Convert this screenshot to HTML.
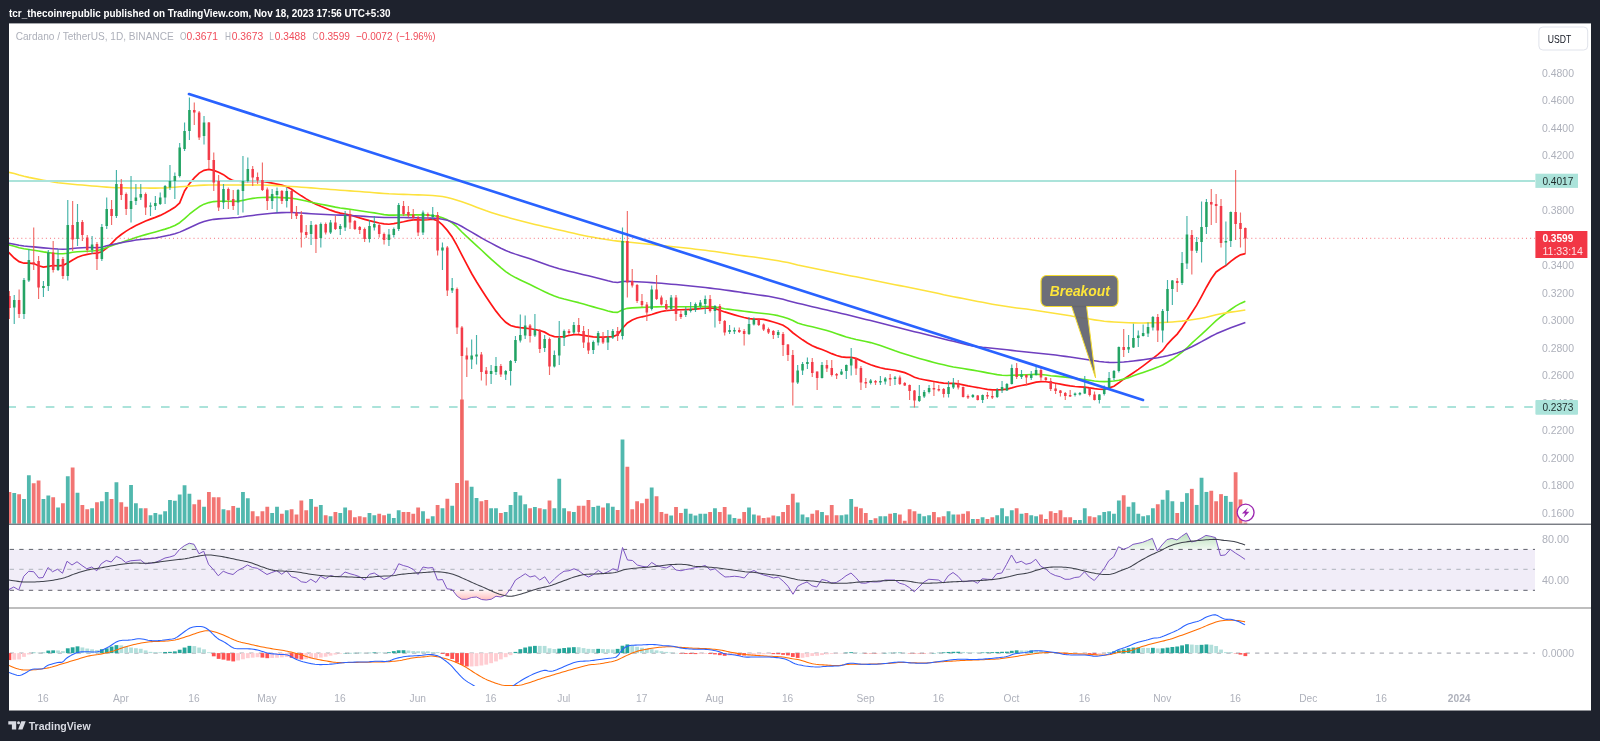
<!DOCTYPE html>
<html lang="en"><head><meta charset="utf-8"><title>ADAUSDT chart</title>
<style>
html,body{margin:0;padding:0;background:#1e222d;width:1600px;height:741px;overflow:hidden;font-family:"Liberation Sans",sans-serif;}
</style></head>
<body>
<svg width="1600" height="741" viewBox="0 0 1600 741" style="position:absolute;left:0;top:0;display:block;will-change:transform" font-family="Liberation Sans, sans-serif">
<defs>
<clipPath id="cm"><rect x="9" y="23.4" width="1526" height="500.35"/></clipPath>
<clipPath id="cmacd"><rect x="9" y="608.5" width="1526" height="77.6"/></clipPath>
<clipPath id="crsi"><rect x="9" y="525" width="1526" height="82.5"/></clipPath>
<clipPath id="cob"><rect x="0" y="0" width="1600" height="549.4"/></clipPath>
<clipPath id="cos"><rect x="0" y="590.3" width="1600" height="30"/></clipPath>
<linearGradient id="gob" x1="0" y1="530" x2="0" y2="549.4" gradientUnits="userSpaceOnUse"><stop offset="0" stop-color="#4caf50" stop-opacity="0.45"/><stop offset="1" stop-color="#4caf50" stop-opacity="0.08"/></linearGradient>
<linearGradient id="gos" x1="0" y1="590.3" x2="0" y2="601" gradientUnits="userSpaceOnUse"><stop offset="0" stop-color="#ff5252" stop-opacity="0.06"/><stop offset="1" stop-color="#ff5252" stop-opacity="0.4"/></linearGradient>
</defs>
<rect x="0" y="0" width="1600" height="741" fill="#1e222d"/>
<rect x="9" y="23.4" width="1582" height="687.1" fill="#ffffff"/>
<g clip-path="url(#cm)">
<path d="M8 251.76 L14.25 258 L19.11 261.66 L23.98 263.22 L28.85 263.07 L33.71 263.58 L38.58 265.74 L43.44 267.05 L48.31 266.29 L53.18 265.48 L58.04 265.79 L62.91 265.36 L67.77 262.91 L72.64 259.92 L77.51 257.3 L82.37 255.5 L87.24 254.3 L92.1 253.48 L96.97 253.13 L101.84 251.71 L106.7 248.18 L111.57 243.4 L116.43 238.43 L121.3 234.51 L126.17 231.13 L131.03 228.15 L135.9 225.54 L140.76 223.17 L145.63 220.98 L150.5 219.1 L155.36 217.36 L160.23 215.39 L165.09 213.02 L169.96 210.32 L174.83 207.27 L179.69 202.92 L184.56 190.96 L189.42 183.65 L194.29 177.94 L199.16 173.13 L204.02 170.36 L208.89 169.43 L213.75 170.34 L218.62 172.24 L223.49 174.67 L228.35 178.16 L233.22 180.67 L238.08 181.24 L242.95 181.4 L247.82 181.51 L252.68 181.49 L257.55 181.37 L262.41 181.49 L267.28 182.12 L272.15 183.11 L277.01 184.16 L281.88 185.16 L286.74 186.68 L291.61 189.3 L296.48 192.64 L301.34 195.84 L306.21 198.88 L311.07 201.73 L315.94 204.18 L320.81 206.3 L325.67 208.27 L330.54 210.17 L335.4 211.87 L340.27 213.16 L345.14 214.03 L350 215 L354.87 216.39 L359.73 217.93 L364.6 219.34 L369.47 220.66 L374.33 221.85 L379.2 222.98 L384.06 223.94 L388.93 224.23 L393.8 223.66 L398.66 222.74 L403.53 221.78 L408.39 220.66 L413.26 219.94 L418.13 219.86 L422.99 220 L427.86 219.75 L432.72 219.22 L437.59 220.64 L442.46 224.96 L447.32 230.4 L452.19 237.03 L457.05 245.62 L461.92 255.15 L466.79 264.42 L471.65 273.5 L476.52 281.77 L481.38 289.51 L486.25 297.02 L491.12 304.25 L495.98 311.14 L500.85 317.23 L505.71 322.33 L510.58 325.51 L515.45 326.84 L520.31 327.57 L525.18 328.11 L530.04 328.76 L534.91 329.53 L539.78 330.48 L544.64 332.15 L549.51 334.96 L554.37 336.67 L559.24 336.95 L564.11 336.55 L568.97 335.54 L573.84 334.61 L578.7 334.6 L583.57 335.3 L588.44 336.05 L593.3 336.84 L598.17 337.16 L603.03 337.21 L607.9 336.97 L612.77 336.63 L617.63 334.89 L622.5 328.22 L627.36 323 L632.23 319.99 L637.1 318.03 L641.96 316.8 L646.83 315.76 L651.69 314.51 L656.56 312.92 L661.43 311.49 L666.29 310.66 L671.16 310.25 L676.02 309.93 L680.89 309.73 L685.76 309.58 L690.62 309.33 L695.49 309.03 L700.35 308.72 L705.22 308.25 L710.09 307.9 L714.95 308.48 L719.82 310.28 L724.68 311.93 L729.55 313.43 L734.42 314.84 L739.28 316.2 L744.15 317.51 L749.01 318.58 L753.88 319.05 L758.75 319 L763.61 319.44 L768.48 320.56 L773.34 321.99 L778.21 323.49 L783.08 325.28 L787.94 328.4 L792.81 332.74 L797.67 336.35 L802.54 339.83 L807.41 343.07 L812.27 345.67 L817.14 347.86 L822 349.54 L826.87 351.42 L831.74 353.66 L836.6 355.54 L841.47 356.85 L846.33 357.43 L851.2 357.41 L856.07 358.42 L860.93 360.61 L865.8 362.83 L870.66 364.75 L875.53 366.41 L880.4 367.74 L885.26 368.8 L890.13 369.5 L894.99 370.25 L899.86 371.31 L904.73 372.61 L909.59 374.67 L914.46 377.27 L919.32 378.73 L924.19 379.72 L929.06 380.64 L933.92 381.51 L938.79 382.43 L943.65 383.11 L948.52 383.3 L953.39 383.32 L958.25 383.79 L963.12 384.92 L967.98 385.94 L972.85 386.74 L977.72 387.54 L982.58 388.49 L987.45 389.41 L992.31 389.91 L997.18 389.88 L1002.05 389.66 L1006.91 389.11 L1011.78 387.86 L1016.64 386.46 L1021.51 385.47 L1026.38 384.61 L1031.24 383.38 L1036.11 382.1 L1040.97 381.65 L1045.84 381.77 L1050.71 382.28 L1055.57 383.23 L1060.44 384.16 L1065.3 385.05 L1070.17 385.85 L1075.04 386.5 L1079.9 386.8 L1084.77 387.1 L1089.63 387.86 L1094.5 388.68 L1099.37 389.26 L1104.23 389.31 L1109.1 387.83 L1113.96 386.18 L1118.83 382.82 L1123.7 379.17 L1128.56 375.96 L1133.43 372.68 L1138.29 369.34 L1143.16 365.82 L1148.03 362.15 L1152.89 358.41 L1157.76 354.67 L1162.62 350.5 L1167.49 344.08 L1172.36 338.96 L1177.22 334.07 L1182.09 327.5 L1186.95 320.19 L1191.82 312.82 L1196.69 305.11 L1201.55 296.32 L1206.42 287.21 L1211.28 278.74 L1216.15 271.96 L1221.02 268.52 L1225.88 265.57 L1230.75 261.41 L1235.61 257.72 L1240.48 254.8 L1245.35 253.6" fill="none" stroke="#ff1616" stroke-width="1.7" stroke-linejoin="miter"/>
<path d="M8 244.63 L14.25 246.3 L19.11 247.78 L23.98 248.76 L28.85 249.46 L33.71 250.2 L38.58 251.07 L43.44 251.91 L48.31 252.6 L53.18 253.18 L58.04 253.62 L62.91 253.73 L67.77 253.2 L72.64 252.32 L77.51 251.79 L82.37 251.54 L87.24 251.27 L92.1 250.94 L96.97 250.51 L101.84 249.5 L106.7 247.55 L111.57 245.71 L116.43 244.08 L121.3 242.47 L126.17 240.86 L131.03 239.2 L135.9 237.56 L140.76 236.02 L145.63 234.61 L150.5 233.27 L155.36 231.9 L160.23 230.53 L165.09 229.13 L169.96 227.51 L174.83 225.5 L179.69 222.71 L184.56 218.69 L189.42 214.23 L194.29 210.32 L199.16 206.79 L204.02 204.16 L208.89 202.61 L213.75 201.59 L218.62 201.2 L223.49 201.21 L228.35 201.32 L233.22 201.38 L238.08 201.19 L242.95 200.39 L247.82 199.17 L252.68 198.36 L257.55 197.81 L262.41 197.5 L267.28 197.37 L272.15 197.35 L277.01 197.41 L281.88 197.58 L286.74 197.84 L291.61 198.29 L296.48 199 L301.34 199.97 L306.21 201.08 L311.07 202.19 L315.94 203.21 L320.81 204.17 L325.67 205.14 L330.54 206.15 L335.4 207.12 L340.27 207.93 L345.14 208.59 L350 209.25 L354.87 210.02 L359.73 210.82 L364.6 211.56 L369.47 212.22 L374.33 212.9 L379.2 213.73 L384.06 214.59 L388.93 215.09 L393.8 215.1 L398.66 215.01 L403.53 214.98 L408.39 214.92 L413.26 214.87 L418.13 214.85 L422.99 214.92 L427.86 215.16 L432.72 215.56 L437.59 216.37 L442.46 217.78 L447.32 219.83 L452.19 222.78 L457.05 226.96 L461.92 231.96 L466.79 236.66 L471.65 241.13 L476.52 245.57 L481.38 250.03 L486.25 254.57 L491.12 259.06 L495.98 263.35 L500.85 267.6 L505.71 271.54 L510.58 274.86 L515.45 277.58 L520.31 279.96 L525.18 282.22 L530.04 284.52 L534.91 286.93 L539.78 289.38 L544.64 291.77 L549.51 294.01 L554.37 296.01 L559.24 297.68 L564.11 299.06 L568.97 300.28 L573.84 301.44 L578.7 302.65 L583.57 304.01 L588.44 305.44 L593.3 306.87 L598.17 308.26 L603.03 309.58 L607.9 310.97 L612.77 312.13 L617.63 312.37 L622.5 309.73 L627.36 308.35 L632.23 307.9 L637.1 307.65 L641.96 307.4 L646.83 307.19 L651.69 307.01 L656.56 306.87 L661.43 306.77 L666.29 306.71 L671.16 306.69 L676.02 306.71 L680.89 306.73 L685.76 306.75 L690.62 306.74 L695.49 306.69 L700.35 306.63 L705.22 306.6 L710.09 306.66 L714.95 306.93 L719.82 307.79 L724.68 308.7 L729.55 309.37 L734.42 310.01 L739.28 310.64 L744.15 311.26 L749.01 311.88 L753.88 312.46 L758.75 312.98 L763.61 313.49 L768.48 314.05 L773.34 314.72 L778.21 315.65 L783.08 316.92 L787.94 318.53 L792.81 320.48 L797.67 322.95 L802.54 324.47 L807.41 325.68 L812.27 326.82 L817.14 327.97 L822 329.18 L826.87 330.55 L831.74 332.09 L836.6 333.73 L841.47 335.37 L846.33 336.93 L851.2 338.32 L856.07 339.48 L860.93 340.51 L865.8 341.51 L870.66 342.6 L875.53 343.91 L880.4 345.46 L885.26 347.19 L890.13 348.99 L894.99 350.78 L899.86 352.45 L904.73 354.01 L909.59 355.53 L914.46 356.99 L919.32 358.41 L924.19 359.78 L929.06 361.11 L933.92 362.4 L938.79 363.65 L943.65 364.83 L948.52 365.93 L953.39 366.92 L958.25 367.79 L963.12 368.58 L967.98 369.35 L972.85 370.13 L977.72 370.99 L982.58 371.91 L987.45 372.84 L992.31 373.75 L997.18 374.59 L1002.05 375.24 L1006.91 375.44 L1011.78 375.27 L1016.64 375.12 L1021.51 374.91 L1026.38 374.69 L1031.24 374.49 L1036.11 374.38 L1040.97 374.5 L1045.84 375.08 L1050.71 375.69 L1055.57 376.16 L1060.44 376.62 L1065.3 377.12 L1070.17 377.67 L1075.04 378.3 L1079.9 378.97 L1084.77 379.64 L1089.63 380.29 L1094.5 380.97 L1099.37 381.46 L1104.23 381.63 L1109.1 381.53 L1113.96 381.07 L1118.83 380.24 L1123.7 379.1 L1128.56 377.64 L1133.43 375.87 L1138.29 374.1 L1143.16 372.43 L1148.03 370.73 L1152.89 368.94 L1157.76 367.11 L1162.62 364.94 L1167.49 362.3 L1172.36 359.29 L1177.22 355.88 L1182.09 352.04 L1186.95 347.97 L1191.82 343.16 L1196.69 338.72 L1201.55 334.38 L1206.42 329.92 L1211.28 325.22 L1216.15 320.71 L1221.02 316.74 L1225.88 313.07 L1230.75 309.51 L1235.61 306.17 L1240.48 303.42 L1245.35 301.24" fill="none" stroke="#63ea1f" stroke-width="1.6" stroke-linejoin="round"/>
<path d="M8 243.09 L14.25 244.3 L19.11 245.35 L23.98 246 L28.85 246.42 L33.71 246.87 L38.58 247.38 L43.44 247.88 L48.31 248.32 L53.18 248.74 L58.04 249.1 L62.91 249.25 L67.77 248.97 L72.64 248.46 L77.51 248.07 L82.37 247.74 L87.24 247.51 L92.1 247.55 L96.97 247.66 L101.84 247.21 L106.7 245.87 L111.57 244.66 L116.43 243.65 L121.3 242.69 L126.17 241.79 L131.03 240.91 L135.9 240.1 L140.76 239.4 L145.63 238.93 L150.5 238.53 L155.36 237.94 L160.23 237.1 L165.09 236.11 L169.96 235.01 L174.83 233.74 L179.69 232.11 L184.56 230.05 L189.42 227.76 L194.29 225.49 L199.16 223.33 L204.02 221.6 L208.89 220.25 L213.75 219.36 L218.62 218.87 L223.49 218.48 L228.35 218.17 L233.22 217.85 L238.08 217.44 L242.95 216.81 L247.82 216.06 L252.68 215.41 L257.55 214.81 L262.41 214.26 L267.28 213.72 L272.15 213.23 L277.01 212.87 L281.88 212.62 L286.74 212.5 L291.61 212.58 L296.48 212.81 L301.34 213.07 L306.21 213.36 L311.07 213.66 L315.94 213.96 L320.81 214.27 L325.67 214.53 L330.54 214.74 L335.4 214.92 L340.27 215.11 L345.14 215.29 L350 215.5 L354.87 215.77 L359.73 216.08 L364.6 216.38 L369.47 216.69 L374.33 216.97 L379.2 217.2 L384.06 217.41 L388.93 217.52 L393.8 217.49 L398.66 217.49 L403.53 217.55 L408.39 217.63 L413.26 217.72 L418.13 217.82 L422.99 217.94 L427.86 218.07 L432.72 218.13 L437.59 218.42 L442.46 219.2 L447.32 220.36 L452.19 221.91 L457.05 223.92 L461.92 226.52 L466.79 229.39 L471.65 232.19 L476.52 235.02 L481.38 237.85 L486.25 240.58 L491.12 243.19 L495.98 245.78 L500.85 248.24 L505.71 250.49 L510.58 252.45 L515.45 254.13 L520.31 255.66 L525.18 257.17 L530.04 258.77 L534.91 260.49 L539.78 262.26 L544.64 264.03 L549.51 265.74 L554.37 267.31 L559.24 268.7 L564.11 269.96 L568.97 271.13 L573.84 272.27 L578.7 273.43 L583.57 274.65 L588.44 275.87 L593.3 277.1 L598.17 278.3 L603.03 279.51 L607.9 280.78 L612.77 281.93 L617.63 282.56 L622.5 281.41 L627.36 281.28 L632.23 281.46 L637.1 281.71 L641.96 281.99 L646.83 282.29 L651.69 282.61 L656.56 282.96 L661.43 283.34 L666.29 283.74 L671.16 284.16 L676.02 284.59 L680.89 285.04 L685.76 285.51 L690.62 286 L695.49 286.51 L700.35 287.04 L705.22 287.58 L710.09 288.14 L714.95 288.72 L719.82 289.32 L724.68 289.96 L729.55 290.64 L734.42 291.36 L739.28 292.1 L744.15 292.86 L749.01 293.6 L753.88 294.31 L758.75 294.96 L763.61 295.62 L768.48 296.34 L773.34 297.18 L778.21 298.18 L783.08 299.37 L787.94 300.66 L792.81 301.95 L797.67 303.18 L802.54 304.36 L807.41 305.5 L812.27 306.64 L817.14 307.77 L822 308.9 L826.87 310.03 L831.74 311.17 L836.6 312.31 L841.47 313.46 L846.33 314.62 L851.2 315.79 L856.07 316.98 L860.93 318.18 L865.8 319.39 L870.66 320.61 L875.53 321.84 L880.4 323.06 L885.26 324.29 L890.13 325.52 L894.99 326.75 L899.86 327.96 L904.73 329.18 L909.59 330.4 L914.46 331.63 L919.32 332.85 L924.19 334.08 L929.06 335.3 L933.92 336.52 L938.79 337.73 L943.65 338.94 L948.52 340.14 L953.39 341.33 L958.25 342.54 L963.12 343.75 L967.98 344.89 L972.85 345.87 L977.72 346.68 L982.58 347.3 L987.45 347.8 L992.31 348.24 L997.18 348.7 L1002.05 349.23 L1006.91 349.8 L1011.78 350.37 L1016.64 350.94 L1021.51 351.49 L1026.38 352.02 L1031.24 352.5 L1036.11 352.96 L1040.97 353.42 L1045.84 353.91 L1050.71 354.46 L1055.57 355.06 L1060.44 355.7 L1065.3 356.37 L1070.17 357.06 L1075.04 357.76 L1079.9 358.48 L1084.77 359.24 L1089.63 360 L1094.5 360.73 L1099.37 361.47 L1104.23 362.09 L1109.1 362.38 L1113.96 362.4 L1118.83 362.25 L1123.7 361.98 L1128.56 361.54 L1133.43 360.99 L1138.29 360.37 L1143.16 359.71 L1148.03 359.03 L1152.89 358.36 L1157.76 357.69 L1162.62 356.85 L1167.49 355.81 L1172.36 354.56 L1177.22 352.99 L1182.09 351.1 L1186.95 348.99 L1191.82 346.71 L1196.69 344.23 L1201.55 341.67 L1206.42 338.96 L1211.28 336.27 L1216.15 333.83 L1221.02 331.7 L1225.88 329.74 L1230.75 327.83 L1235.61 326 L1240.48 324.21 L1245.35 322.44" fill="none" stroke="#6f3fbf" stroke-width="1.55" stroke-linejoin="round"/>
<path d="M8 172.11 L14.25 173.55 L19.11 174.96 L23.98 176.25 L28.85 177.37 L33.71 178.37 L38.58 179.3 L43.44 180.19 L48.31 181.07 L53.18 181.92 L58.04 182.67 L62.91 183.3 L67.77 183.82 L72.64 184.27 L77.51 184.68 L82.37 185.08 L87.24 185.48 L92.1 185.9 L96.97 186.34 L101.84 186.76 L106.7 187.14 L111.57 187.45 L116.43 187.67 L121.3 187.81 L126.17 187.89 L131.03 187.94 L135.9 187.98 L140.76 188.04 L145.63 188.1 L150.5 188.14 L155.36 188.14 L160.23 188.07 L165.09 187.89 L169.96 187.6 L174.83 187.24 L179.69 186.85 L184.56 186.46 L189.42 186.12 L194.29 185.74 L199.16 185.38 L204.02 185.11 L208.89 184.97 L213.75 184.92 L218.62 184.91 L223.49 184.93 L228.35 184.96 L233.22 184.99 L238.08 185 L242.95 184.98 L247.82 184.94 L252.68 184.91 L257.55 184.92 L262.41 185 L267.28 185.15 L272.15 185.37 L277.01 185.63 L281.88 185.91 L286.74 186.2 L291.61 186.51 L296.48 186.83 L301.34 187.17 L306.21 187.53 L311.07 187.89 L315.94 188.26 L320.81 188.66 L325.67 189.06 L330.54 189.45 L335.4 189.84 L340.27 190.2 L345.14 190.54 L350 190.88 L354.87 191.21 L359.73 191.55 L364.6 191.91 L369.47 192.3 L374.33 192.71 L379.2 193.11 L384.06 193.5 L388.93 193.84 L393.8 194.02 L398.66 194.19 L403.53 194.39 L408.39 194.55 L413.26 194.71 L418.13 194.88 L422.99 195.07 L427.86 195.3 L432.72 195.59 L437.59 195.99 L442.46 196.58 L447.32 197.45 L452.19 198.67 L457.05 200.21 L461.92 201.81 L466.79 203.45 L471.65 205.27 L476.52 207.17 L481.38 209.05 L486.25 210.82 L491.12 212.44 L495.98 213.97 L500.85 215.44 L505.71 216.85 L510.58 218.22 L515.45 219.55 L520.31 220.81 L525.18 222.03 L530.04 223.21 L534.91 224.38 L539.78 225.54 L544.64 226.69 L549.51 227.81 L554.37 228.92 L559.24 230.02 L564.11 231.11 L568.97 232.22 L573.84 233.33 L578.7 234.42 L583.57 235.46 L588.44 236.43 L593.3 237.36 L598.17 238.24 L603.03 239.07 L607.9 239.84 L612.77 240.54 L617.63 241.12 L622.5 241.61 L627.36 242.05 L632.23 242.49 L637.1 242.96 L641.96 243.48 L646.83 244.02 L651.69 244.57 L656.56 245.11 L661.43 245.64 L666.29 246.14 L671.16 246.61 L676.02 247.08 L680.89 247.56 L685.76 248.06 L690.62 248.6 L695.49 249.15 L700.35 249.71 L705.22 250.31 L710.09 250.93 L714.95 251.59 L719.82 252.31 L724.68 253.06 L729.55 253.82 L734.42 254.56 L739.28 255.24 L744.15 255.87 L749.01 256.47 L753.88 257.08 L758.75 257.71 L763.61 258.42 L768.48 259.18 L773.34 259.98 L778.21 260.81 L783.08 261.67 L787.94 262.59 L792.81 263.67 L797.67 264.96 L802.54 266.05 L807.41 267.08 L812.27 268.08 L817.14 269.07 L822 270.06 L826.87 271.03 L831.74 272.01 L836.6 272.98 L841.47 273.95 L846.33 274.92 L851.2 275.89 L856.07 276.86 L860.93 277.84 L865.8 278.81 L870.66 279.78 L875.53 280.76 L880.4 281.73 L885.26 282.7 L890.13 283.68 L894.99 284.65 L899.86 285.62 L904.73 286.59 L909.59 287.55 L914.46 288.52 L919.32 289.49 L924.19 290.46 L929.06 291.45 L933.92 292.46 L938.79 293.57 L943.65 294.7 L948.52 295.71 L953.39 296.67 L958.25 297.63 L963.12 298.58 L967.98 299.53 L972.85 300.47 L977.72 301.41 L982.58 302.33 L987.45 303.24 L992.31 304.14 L997.18 305.01 L1002.05 305.84 L1006.91 306.6 L1011.78 307.29 L1016.64 307.91 L1021.51 308.5 L1026.38 309.1 L1031.24 309.78 L1036.11 310.48 L1040.97 311.2 L1045.84 311.93 L1050.71 312.66 L1055.57 313.41 L1060.44 314.17 L1065.3 314.97 L1070.17 315.82 L1075.04 316.68 L1079.9 317.48 L1084.77 318.28 L1089.63 319.08 L1094.5 319.86 L1099.37 320.56 L1104.23 321.17 L1109.1 321.63 L1113.96 321.99 L1118.83 322.28 L1123.7 322.5 L1128.56 322.7 L1133.43 322.86 L1138.29 322.94 L1143.16 322.94 L1148.03 322.88 L1152.89 322.81 L1157.76 322.68 L1162.62 322.5 L1167.49 322.25 L1172.36 321.94 L1177.22 321.56 L1182.09 321.11 L1186.95 320.53 L1191.82 319.84 L1196.69 319.04 L1201.55 318.17 L1206.42 317.2 L1211.28 315.97 L1216.15 314.68 L1221.02 313.69 L1225.88 312.88 L1230.75 312.14 L1235.61 311.43 L1240.48 310.75 L1245.35 310.07" fill="none" stroke="#fde23e" stroke-width="1.55" stroke-linejoin="round"/>
<line x1="9" y1="181" x2="1535" y2="181" stroke="#abe3da" stroke-width="2.2"/>
<line x1="9" y1="407" x2="1535" y2="407" stroke="#abe3da" stroke-width="2.1" stroke-dasharray="8.6 10.6" stroke-dashoffset="1.6"/>
<rect x="7.48" y="492" width="3.8" height="31.75" fill="#ef5350" fill-opacity="0.8"/>
<rect x="12.35" y="493" width="3.8" height="30.75" fill="#26a69a" fill-opacity="0.8"/>
<rect x="17.21" y="494.25" width="3.8" height="29.5" fill="#ef5350" fill-opacity="0.8"/>
<rect x="22.08" y="499" width="3.8" height="24.75" fill="#26a69a" fill-opacity="0.8"/>
<rect x="26.95" y="475.25" width="3.8" height="48.5" fill="#26a69a" fill-opacity="0.8"/>
<rect x="31.81" y="483.25" width="3.8" height="40.5" fill="#ef5350" fill-opacity="0.8"/>
<rect x="36.68" y="480.5" width="3.8" height="43.25" fill="#ef5350" fill-opacity="0.8"/>
<rect x="41.54" y="499" width="3.8" height="24.75" fill="#26a69a" fill-opacity="0.8"/>
<rect x="46.41" y="495.5" width="3.8" height="28.25" fill="#26a69a" fill-opacity="0.8"/>
<rect x="51.28" y="497.25" width="3.8" height="26.5" fill="#ef5350" fill-opacity="0.8"/>
<rect x="56.14" y="507.5" width="3.8" height="16.25" fill="#26a69a" fill-opacity="0.8"/>
<rect x="61.01" y="503.25" width="3.8" height="20.5" fill="#ef5350" fill-opacity="0.8"/>
<rect x="65.87" y="476.25" width="3.8" height="47.5" fill="#26a69a" fill-opacity="0.8"/>
<rect x="70.74" y="467.5" width="3.8" height="56.25" fill="#ef5350" fill-opacity="0.8"/>
<rect x="75.61" y="492.75" width="3.8" height="31" fill="#26a69a" fill-opacity="0.8"/>
<rect x="80.47" y="505" width="3.8" height="18.75" fill="#ef5350" fill-opacity="0.8"/>
<rect x="85.34" y="509.25" width="3.8" height="14.5" fill="#ef5350" fill-opacity="0.8"/>
<rect x="90.2" y="508.25" width="3.8" height="15.5" fill="#26a69a" fill-opacity="0.8"/>
<rect x="95.07" y="502.25" width="3.8" height="21.5" fill="#ef5350" fill-opacity="0.8"/>
<rect x="99.94" y="501.25" width="3.8" height="22.5" fill="#26a69a" fill-opacity="0.8"/>
<rect x="104.8" y="492" width="3.8" height="31.75" fill="#26a69a" fill-opacity="0.8"/>
<rect x="109.67" y="499" width="3.8" height="24.75" fill="#ef5350" fill-opacity="0.8"/>
<rect x="114.53" y="482.25" width="3.8" height="41.5" fill="#26a69a" fill-opacity="0.8"/>
<rect x="119.4" y="502.25" width="3.8" height="21.5" fill="#ef5350" fill-opacity="0.8"/>
<rect x="124.27" y="506.75" width="3.8" height="17" fill="#ef5350" fill-opacity="0.8"/>
<rect x="129.13" y="485" width="3.8" height="38.75" fill="#26a69a" fill-opacity="0.8"/>
<rect x="134" y="503.25" width="3.8" height="20.5" fill="#26a69a" fill-opacity="0.8"/>
<rect x="138.86" y="508.25" width="3.8" height="15.5" fill="#26a69a" fill-opacity="0.8"/>
<rect x="143.73" y="508.25" width="3.8" height="15.5" fill="#ef5350" fill-opacity="0.8"/>
<rect x="148.6" y="515.25" width="3.8" height="8.5" fill="#26a69a" fill-opacity="0.8"/>
<rect x="153.46" y="513" width="3.8" height="10.75" fill="#26a69a" fill-opacity="0.8"/>
<rect x="158.33" y="514.5" width="3.8" height="9.25" fill="#26a69a" fill-opacity="0.8"/>
<rect x="163.19" y="511.25" width="3.8" height="12.5" fill="#26a69a" fill-opacity="0.8"/>
<rect x="168.06" y="500" width="3.8" height="23.75" fill="#26a69a" fill-opacity="0.8"/>
<rect x="172.93" y="500.75" width="3.8" height="23" fill="#26a69a" fill-opacity="0.8"/>
<rect x="177.79" y="494.5" width="3.8" height="29.25" fill="#26a69a" fill-opacity="0.8"/>
<rect x="182.66" y="485.25" width="3.8" height="38.5" fill="#26a69a" fill-opacity="0.8"/>
<rect x="187.52" y="493.75" width="3.8" height="30" fill="#26a69a" fill-opacity="0.8"/>
<rect x="192.39" y="504.25" width="3.8" height="19.5" fill="#ef5350" fill-opacity="0.8"/>
<rect x="197.26" y="499.75" width="3.8" height="24" fill="#ef5350" fill-opacity="0.8"/>
<rect x="202.12" y="506.75" width="3.8" height="17" fill="#26a69a" fill-opacity="0.8"/>
<rect x="206.99" y="492" width="3.8" height="31.75" fill="#ef5350" fill-opacity="0.8"/>
<rect x="211.85" y="497.25" width="3.8" height="26.5" fill="#ef5350" fill-opacity="0.8"/>
<rect x="216.72" y="497.25" width="3.8" height="26.5" fill="#ef5350" fill-opacity="0.8"/>
<rect x="221.59" y="509.25" width="3.8" height="14.5" fill="#26a69a" fill-opacity="0.8"/>
<rect x="226.45" y="510.25" width="3.8" height="13.5" fill="#ef5350" fill-opacity="0.8"/>
<rect x="231.32" y="506" width="3.8" height="17.75" fill="#ef5350" fill-opacity="0.8"/>
<rect x="236.18" y="507.75" width="3.8" height="16" fill="#26a69a" fill-opacity="0.8"/>
<rect x="241.05" y="492" width="3.8" height="31.75" fill="#26a69a" fill-opacity="0.8"/>
<rect x="245.92" y="498.25" width="3.8" height="25.5" fill="#26a69a" fill-opacity="0.8"/>
<rect x="250.78" y="511.25" width="3.8" height="12.5" fill="#ef5350" fill-opacity="0.8"/>
<rect x="255.65" y="516.25" width="3.8" height="7.5" fill="#ef5350" fill-opacity="0.8"/>
<rect x="260.51" y="511.25" width="3.8" height="12.5" fill="#ef5350" fill-opacity="0.8"/>
<rect x="265.38" y="506.75" width="3.8" height="17" fill="#ef5350" fill-opacity="0.8"/>
<rect x="270.25" y="513" width="3.8" height="10.75" fill="#26a69a" fill-opacity="0.8"/>
<rect x="275.11" y="506.75" width="3.8" height="17" fill="#26a69a" fill-opacity="0.8"/>
<rect x="279.98" y="513.75" width="3.8" height="10" fill="#ef5350" fill-opacity="0.8"/>
<rect x="284.84" y="510.25" width="3.8" height="13.5" fill="#26a69a" fill-opacity="0.8"/>
<rect x="289.71" y="509.25" width="3.8" height="14.5" fill="#ef5350" fill-opacity="0.8"/>
<rect x="294.58" y="514.5" width="3.8" height="9.25" fill="#ef5350" fill-opacity="0.8"/>
<rect x="299.44" y="500.5" width="3.8" height="23.25" fill="#ef5350" fill-opacity="0.8"/>
<rect x="304.31" y="510.25" width="3.8" height="13.5" fill="#ef5350" fill-opacity="0.8"/>
<rect x="309.17" y="499" width="3.8" height="24.75" fill="#26a69a" fill-opacity="0.8"/>
<rect x="314.04" y="506.75" width="3.8" height="17" fill="#ef5350" fill-opacity="0.8"/>
<rect x="318.91" y="505" width="3.8" height="18.75" fill="#26a69a" fill-opacity="0.8"/>
<rect x="323.77" y="515.25" width="3.8" height="8.5" fill="#ef5350" fill-opacity="0.8"/>
<rect x="328.64" y="516.25" width="3.8" height="7.5" fill="#26a69a" fill-opacity="0.8"/>
<rect x="333.5" y="512" width="3.8" height="11.75" fill="#ef5350" fill-opacity="0.8"/>
<rect x="338.37" y="513" width="3.8" height="10.75" fill="#26a69a" fill-opacity="0.8"/>
<rect x="343.24" y="507.5" width="3.8" height="16.25" fill="#26a69a" fill-opacity="0.8"/>
<rect x="348.1" y="510.25" width="3.8" height="13.5" fill="#ef5350" fill-opacity="0.8"/>
<rect x="352.97" y="517.25" width="3.8" height="6.5" fill="#ef5350" fill-opacity="0.8"/>
<rect x="357.83" y="516.25" width="3.8" height="7.5" fill="#ef5350" fill-opacity="0.8"/>
<rect x="362.7" y="517.25" width="3.8" height="6.5" fill="#ef5350" fill-opacity="0.8"/>
<rect x="367.57" y="513" width="3.8" height="10.75" fill="#26a69a" fill-opacity="0.8"/>
<rect x="372.43" y="515.25" width="3.8" height="8.5" fill="#26a69a" fill-opacity="0.8"/>
<rect x="377.3" y="513.75" width="3.8" height="10" fill="#ef5350" fill-opacity="0.8"/>
<rect x="382.16" y="515.25" width="3.8" height="8.5" fill="#ef5350" fill-opacity="0.8"/>
<rect x="387.03" y="513.75" width="3.8" height="10" fill="#26a69a" fill-opacity="0.8"/>
<rect x="391.9" y="518" width="3.8" height="5.75" fill="#26a69a" fill-opacity="0.8"/>
<rect x="396.76" y="510.25" width="3.8" height="13.5" fill="#26a69a" fill-opacity="0.8"/>
<rect x="401.63" y="512" width="3.8" height="11.75" fill="#ef5350" fill-opacity="0.8"/>
<rect x="406.49" y="512" width="3.8" height="11.75" fill="#ef5350" fill-opacity="0.8"/>
<rect x="411.36" y="513.75" width="3.8" height="10" fill="#ef5350" fill-opacity="0.8"/>
<rect x="416.23" y="507.5" width="3.8" height="16.25" fill="#ef5350" fill-opacity="0.8"/>
<rect x="421.09" y="511.25" width="3.8" height="12.5" fill="#26a69a" fill-opacity="0.8"/>
<rect x="425.96" y="518.75" width="3.8" height="5" fill="#ef5350" fill-opacity="0.8"/>
<rect x="430.82" y="516.25" width="3.8" height="7.5" fill="#26a69a" fill-opacity="0.8"/>
<rect x="435.69" y="505" width="3.8" height="18.75" fill="#ef5350" fill-opacity="0.8"/>
<rect x="440.56" y="508.25" width="3.8" height="15.5" fill="#26a69a" fill-opacity="0.8"/>
<rect x="445.42" y="498.75" width="3.8" height="25" fill="#ef5350" fill-opacity="0.8"/>
<rect x="450.29" y="505.75" width="3.8" height="18" fill="#26a69a" fill-opacity="0.8"/>
<rect x="455.15" y="483" width="3.8" height="40.75" fill="#ef5350" fill-opacity="0.8"/>
<rect x="460.02" y="399.5" width="3.8" height="124.25" fill="#ef5350" fill-opacity="0.8"/>
<rect x="464.89" y="480.5" width="3.8" height="43.25" fill="#ef5350" fill-opacity="0.8"/>
<rect x="469.75" y="486.75" width="3.8" height="37" fill="#26a69a" fill-opacity="0.8"/>
<rect x="474.62" y="498" width="3.8" height="25.75" fill="#26a69a" fill-opacity="0.8"/>
<rect x="479.48" y="501.25" width="3.8" height="22.5" fill="#ef5350" fill-opacity="0.8"/>
<rect x="484.35" y="500" width="3.8" height="23.75" fill="#ef5350" fill-opacity="0.8"/>
<rect x="489.22" y="508.25" width="3.8" height="15.5" fill="#26a69a" fill-opacity="0.8"/>
<rect x="494.08" y="508.25" width="3.8" height="15.5" fill="#26a69a" fill-opacity="0.8"/>
<rect x="498.95" y="513" width="3.8" height="10.75" fill="#ef5350" fill-opacity="0.8"/>
<rect x="503.81" y="512" width="3.8" height="11.75" fill="#26a69a" fill-opacity="0.8"/>
<rect x="508.68" y="505" width="3.8" height="18.75" fill="#26a69a" fill-opacity="0.8"/>
<rect x="513.55" y="492" width="3.8" height="31.75" fill="#26a69a" fill-opacity="0.8"/>
<rect x="518.41" y="495.5" width="3.8" height="28.25" fill="#26a69a" fill-opacity="0.8"/>
<rect x="523.28" y="504.25" width="3.8" height="19.5" fill="#26a69a" fill-opacity="0.8"/>
<rect x="528.14" y="508.25" width="3.8" height="15.5" fill="#ef5350" fill-opacity="0.8"/>
<rect x="533.01" y="507" width="3.8" height="16.75" fill="#26a69a" fill-opacity="0.8"/>
<rect x="537.88" y="508.25" width="3.8" height="15.5" fill="#ef5350" fill-opacity="0.8"/>
<rect x="542.74" y="509.25" width="3.8" height="14.5" fill="#26a69a" fill-opacity="0.8"/>
<rect x="547.61" y="500.5" width="3.8" height="23.25" fill="#ef5350" fill-opacity="0.8"/>
<rect x="552.47" y="508.25" width="3.8" height="15.5" fill="#26a69a" fill-opacity="0.8"/>
<rect x="557.34" y="478.75" width="3.8" height="45" fill="#26a69a" fill-opacity="0.8"/>
<rect x="562.21" y="508.25" width="3.8" height="15.5" fill="#26a69a" fill-opacity="0.8"/>
<rect x="567.07" y="511.25" width="3.8" height="12.5" fill="#ef5350" fill-opacity="0.8"/>
<rect x="571.94" y="512" width="3.8" height="11.75" fill="#26a69a" fill-opacity="0.8"/>
<rect x="576.8" y="505.75" width="3.8" height="18" fill="#ef5350" fill-opacity="0.8"/>
<rect x="581.67" y="505.75" width="3.8" height="18" fill="#ef5350" fill-opacity="0.8"/>
<rect x="586.54" y="500" width="3.8" height="23.75" fill="#ef5350" fill-opacity="0.8"/>
<rect x="591.4" y="507" width="3.8" height="16.75" fill="#26a69a" fill-opacity="0.8"/>
<rect x="596.27" y="505.75" width="3.8" height="18" fill="#26a69a" fill-opacity="0.8"/>
<rect x="601.13" y="507.5" width="3.8" height="16.25" fill="#ef5350" fill-opacity="0.8"/>
<rect x="606" y="503.25" width="3.8" height="20.5" fill="#26a69a" fill-opacity="0.8"/>
<rect x="610.87" y="506.75" width="3.8" height="17" fill="#26a69a" fill-opacity="0.8"/>
<rect x="615.73" y="510" width="3.8" height="13.75" fill="#ef5350" fill-opacity="0.8"/>
<rect x="620.6" y="439.5" width="3.8" height="84.25" fill="#26a69a" fill-opacity="0.8"/>
<rect x="625.46" y="466.75" width="3.8" height="57" fill="#ef5350" fill-opacity="0.8"/>
<rect x="630.33" y="509.25" width="3.8" height="14.5" fill="#ef5350" fill-opacity="0.8"/>
<rect x="635.2" y="501.25" width="3.8" height="22.5" fill="#ef5350" fill-opacity="0.8"/>
<rect x="640.06" y="503.25" width="3.8" height="20.5" fill="#ef5350" fill-opacity="0.8"/>
<rect x="644.93" y="498.75" width="3.8" height="25" fill="#ef5350" fill-opacity="0.8"/>
<rect x="649.79" y="487.5" width="3.8" height="36.25" fill="#26a69a" fill-opacity="0.8"/>
<rect x="654.66" y="496.25" width="3.8" height="27.5" fill="#ef5350" fill-opacity="0.8"/>
<rect x="659.53" y="512" width="3.8" height="11.75" fill="#ef5350" fill-opacity="0.8"/>
<rect x="664.39" y="513.75" width="3.8" height="10" fill="#ef5350" fill-opacity="0.8"/>
<rect x="669.26" y="515.5" width="3.8" height="8.25" fill="#26a69a" fill-opacity="0.8"/>
<rect x="674.12" y="507" width="3.8" height="16.75" fill="#ef5350" fill-opacity="0.8"/>
<rect x="678.99" y="513" width="3.8" height="10.75" fill="#ef5350" fill-opacity="0.8"/>
<rect x="683.86" y="508.75" width="3.8" height="15" fill="#26a69a" fill-opacity="0.8"/>
<rect x="688.72" y="513.75" width="3.8" height="10" fill="#26a69a" fill-opacity="0.8"/>
<rect x="693.59" y="515.5" width="3.8" height="8.25" fill="#26a69a" fill-opacity="0.8"/>
<rect x="698.45" y="513.75" width="3.8" height="10" fill="#26a69a" fill-opacity="0.8"/>
<rect x="703.32" y="513.75" width="3.8" height="10" fill="#26a69a" fill-opacity="0.8"/>
<rect x="708.19" y="512" width="3.8" height="11.75" fill="#ef5350" fill-opacity="0.8"/>
<rect x="713.05" y="508.25" width="3.8" height="15.5" fill="#26a69a" fill-opacity="0.8"/>
<rect x="717.92" y="512" width="3.8" height="11.75" fill="#ef5350" fill-opacity="0.8"/>
<rect x="722.78" y="507" width="3.8" height="16.75" fill="#ef5350" fill-opacity="0.8"/>
<rect x="727.65" y="514.5" width="3.8" height="9.25" fill="#26a69a" fill-opacity="0.8"/>
<rect x="732.52" y="518" width="3.8" height="5.75" fill="#26a69a" fill-opacity="0.8"/>
<rect x="737.38" y="518.75" width="3.8" height="5" fill="#ef5350" fill-opacity="0.8"/>
<rect x="742.25" y="512" width="3.8" height="11.75" fill="#ef5350" fill-opacity="0.8"/>
<rect x="747.11" y="507.5" width="3.8" height="16.25" fill="#26a69a" fill-opacity="0.8"/>
<rect x="751.98" y="514.5" width="3.8" height="9.25" fill="#26a69a" fill-opacity="0.8"/>
<rect x="756.85" y="515.5" width="3.8" height="8.25" fill="#ef5350" fill-opacity="0.8"/>
<rect x="761.71" y="518" width="3.8" height="5.75" fill="#ef5350" fill-opacity="0.8"/>
<rect x="766.58" y="517.5" width="3.8" height="6.25" fill="#ef5350" fill-opacity="0.8"/>
<rect x="771.44" y="515.5" width="3.8" height="8.25" fill="#ef5350" fill-opacity="0.8"/>
<rect x="776.31" y="516.25" width="3.8" height="7.5" fill="#26a69a" fill-opacity="0.8"/>
<rect x="781.18" y="512" width="3.8" height="11.75" fill="#ef5350" fill-opacity="0.8"/>
<rect x="786.04" y="505" width="3.8" height="18.75" fill="#ef5350" fill-opacity="0.8"/>
<rect x="790.91" y="493.75" width="3.8" height="30" fill="#ef5350" fill-opacity="0.8"/>
<rect x="795.77" y="502.5" width="3.8" height="21.25" fill="#26a69a" fill-opacity="0.8"/>
<rect x="800.64" y="514.5" width="3.8" height="9.25" fill="#26a69a" fill-opacity="0.8"/>
<rect x="805.51" y="517.25" width="3.8" height="6.5" fill="#26a69a" fill-opacity="0.8"/>
<rect x="810.37" y="513.75" width="3.8" height="10" fill="#ef5350" fill-opacity="0.8"/>
<rect x="815.24" y="510.25" width="3.8" height="13.5" fill="#ef5350" fill-opacity="0.8"/>
<rect x="820.1" y="512" width="3.8" height="11.75" fill="#26a69a" fill-opacity="0.8"/>
<rect x="824.97" y="515.25" width="3.8" height="8.5" fill="#ef5350" fill-opacity="0.8"/>
<rect x="829.84" y="505" width="3.8" height="18.75" fill="#ef5350" fill-opacity="0.8"/>
<rect x="834.7" y="515.25" width="3.8" height="8.5" fill="#ef5350" fill-opacity="0.8"/>
<rect x="839.57" y="515.25" width="3.8" height="8.5" fill="#26a69a" fill-opacity="0.8"/>
<rect x="844.43" y="514.5" width="3.8" height="9.25" fill="#26a69a" fill-opacity="0.8"/>
<rect x="849.3" y="499" width="3.8" height="24.75" fill="#26a69a" fill-opacity="0.8"/>
<rect x="854.17" y="506.75" width="3.8" height="17" fill="#ef5350" fill-opacity="0.8"/>
<rect x="859.03" y="508.25" width="3.8" height="15.5" fill="#ef5350" fill-opacity="0.8"/>
<rect x="863.9" y="513" width="3.8" height="10.75" fill="#ef5350" fill-opacity="0.8"/>
<rect x="868.76" y="520" width="3.8" height="3.75" fill="#26a69a" fill-opacity="0.8"/>
<rect x="873.63" y="518.25" width="3.8" height="5.5" fill="#ef5350" fill-opacity="0.8"/>
<rect x="878.5" y="516.25" width="3.8" height="7.5" fill="#26a69a" fill-opacity="0.8"/>
<rect x="883.36" y="516.25" width="3.8" height="7.5" fill="#26a69a" fill-opacity="0.8"/>
<rect x="888.23" y="513.75" width="3.8" height="10" fill="#ef5350" fill-opacity="0.8"/>
<rect x="893.09" y="513" width="3.8" height="10.75" fill="#26a69a" fill-opacity="0.8"/>
<rect x="897.96" y="514.5" width="3.8" height="9.25" fill="#ef5350" fill-opacity="0.8"/>
<rect x="902.83" y="520.75" width="3.8" height="3" fill="#ef5350" fill-opacity="0.8"/>
<rect x="907.69" y="509.25" width="3.8" height="14.5" fill="#ef5350" fill-opacity="0.8"/>
<rect x="912.56" y="511.25" width="3.8" height="12.5" fill="#ef5350" fill-opacity="0.8"/>
<rect x="917.42" y="513.75" width="3.8" height="10" fill="#26a69a" fill-opacity="0.8"/>
<rect x="922.29" y="516.25" width="3.8" height="7.5" fill="#26a69a" fill-opacity="0.8"/>
<rect x="927.16" y="515.25" width="3.8" height="8.5" fill="#26a69a" fill-opacity="0.8"/>
<rect x="932.02" y="512" width="3.8" height="11.75" fill="#ef5350" fill-opacity="0.8"/>
<rect x="936.89" y="517.25" width="3.8" height="6.5" fill="#ef5350" fill-opacity="0.8"/>
<rect x="941.75" y="516.25" width="3.8" height="7.5" fill="#ef5350" fill-opacity="0.8"/>
<rect x="946.62" y="511.25" width="3.8" height="12.5" fill="#26a69a" fill-opacity="0.8"/>
<rect x="951.49" y="514.5" width="3.8" height="9.25" fill="#26a69a" fill-opacity="0.8"/>
<rect x="956.35" y="514.5" width="3.8" height="9.25" fill="#ef5350" fill-opacity="0.8"/>
<rect x="961.22" y="513.75" width="3.8" height="10" fill="#ef5350" fill-opacity="0.8"/>
<rect x="966.08" y="511.25" width="3.8" height="12.5" fill="#ef5350" fill-opacity="0.8"/>
<rect x="970.95" y="519" width="3.8" height="4.75" fill="#26a69a" fill-opacity="0.8"/>
<rect x="975.82" y="519" width="3.8" height="4.75" fill="#ef5350" fill-opacity="0.8"/>
<rect x="980.68" y="517.25" width="3.8" height="6.5" fill="#26a69a" fill-opacity="0.8"/>
<rect x="985.55" y="519" width="3.8" height="4.75" fill="#ef5350" fill-opacity="0.8"/>
<rect x="990.41" y="517.25" width="3.8" height="6.5" fill="#ef5350" fill-opacity="0.8"/>
<rect x="995.28" y="515.25" width="3.8" height="8.5" fill="#26a69a" fill-opacity="0.8"/>
<rect x="1000.15" y="508.25" width="3.8" height="15.5" fill="#26a69a" fill-opacity="0.8"/>
<rect x="1005.01" y="516.25" width="3.8" height="7.5" fill="#26a69a" fill-opacity="0.8"/>
<rect x="1009.88" y="510.25" width="3.8" height="13.5" fill="#26a69a" fill-opacity="0.8"/>
<rect x="1014.74" y="508.25" width="3.8" height="15.5" fill="#ef5350" fill-opacity="0.8"/>
<rect x="1019.61" y="513.75" width="3.8" height="10" fill="#26a69a" fill-opacity="0.8"/>
<rect x="1024.48" y="513" width="3.8" height="10.75" fill="#ef5350" fill-opacity="0.8"/>
<rect x="1029.34" y="515.25" width="3.8" height="8.5" fill="#26a69a" fill-opacity="0.8"/>
<rect x="1034.21" y="516.25" width="3.8" height="7.5" fill="#26a69a" fill-opacity="0.8"/>
<rect x="1039.07" y="514.5" width="3.8" height="9.25" fill="#ef5350" fill-opacity="0.8"/>
<rect x="1043.94" y="519" width="3.8" height="4.75" fill="#ef5350" fill-opacity="0.8"/>
<rect x="1048.81" y="511.25" width="3.8" height="12.5" fill="#ef5350" fill-opacity="0.8"/>
<rect x="1053.67" y="513" width="3.8" height="10.75" fill="#ef5350" fill-opacity="0.8"/>
<rect x="1058.54" y="510.25" width="3.8" height="13.5" fill="#ef5350" fill-opacity="0.8"/>
<rect x="1063.4" y="517.25" width="3.8" height="6.5" fill="#ef5350" fill-opacity="0.8"/>
<rect x="1068.27" y="517.25" width="3.8" height="6.5" fill="#ef5350" fill-opacity="0.8"/>
<rect x="1073.14" y="520" width="3.8" height="3.75" fill="#26a69a" fill-opacity="0.8"/>
<rect x="1078" y="520" width="3.8" height="3.75" fill="#26a69a" fill-opacity="0.8"/>
<rect x="1082.87" y="508.25" width="3.8" height="15.5" fill="#26a69a" fill-opacity="0.8"/>
<rect x="1087.73" y="516.25" width="3.8" height="7.5" fill="#ef5350" fill-opacity="0.8"/>
<rect x="1092.6" y="517.25" width="3.8" height="6.5" fill="#ef5350" fill-opacity="0.8"/>
<rect x="1097.47" y="515.25" width="3.8" height="8.5" fill="#26a69a" fill-opacity="0.8"/>
<rect x="1102.33" y="512" width="3.8" height="11.75" fill="#26a69a" fill-opacity="0.8"/>
<rect x="1107.2" y="511.25" width="3.8" height="12.5" fill="#26a69a" fill-opacity="0.8"/>
<rect x="1112.06" y="513.75" width="3.8" height="10" fill="#26a69a" fill-opacity="0.8"/>
<rect x="1116.93" y="500.5" width="3.8" height="23.25" fill="#26a69a" fill-opacity="0.8"/>
<rect x="1121.8" y="495.25" width="3.8" height="28.5" fill="#ef5350" fill-opacity="0.8"/>
<rect x="1126.66" y="506.75" width="3.8" height="17" fill="#26a69a" fill-opacity="0.8"/>
<rect x="1131.53" y="502.25" width="3.8" height="21.5" fill="#26a69a" fill-opacity="0.8"/>
<rect x="1136.39" y="513.75" width="3.8" height="10" fill="#26a69a" fill-opacity="0.8"/>
<rect x="1141.26" y="516.25" width="3.8" height="7.5" fill="#26a69a" fill-opacity="0.8"/>
<rect x="1146.13" y="515.25" width="3.8" height="8.5" fill="#26a69a" fill-opacity="0.8"/>
<rect x="1150.99" y="508.25" width="3.8" height="15.5" fill="#26a69a" fill-opacity="0.8"/>
<rect x="1155.86" y="504.25" width="3.8" height="19.5" fill="#ef5350" fill-opacity="0.8"/>
<rect x="1160.72" y="499.75" width="3.8" height="24" fill="#26a69a" fill-opacity="0.8"/>
<rect x="1165.59" y="490.25" width="3.8" height="33.5" fill="#26a69a" fill-opacity="0.8"/>
<rect x="1170.46" y="501.25" width="3.8" height="22.5" fill="#26a69a" fill-opacity="0.8"/>
<rect x="1175.32" y="513" width="3.8" height="10.75" fill="#ef5350" fill-opacity="0.8"/>
<rect x="1180.19" y="501.85" width="3.8" height="21.9" fill="#26a69a" fill-opacity="0.8"/>
<rect x="1185.05" y="493.15" width="3.8" height="30.6" fill="#26a69a" fill-opacity="0.8"/>
<rect x="1189.92" y="488.85" width="3.8" height="34.9" fill="#ef5350" fill-opacity="0.8"/>
<rect x="1194.79" y="504.95" width="3.8" height="18.8" fill="#26a69a" fill-opacity="0.8"/>
<rect x="1199.65" y="477.75" width="3.8" height="46" fill="#26a69a" fill-opacity="0.8"/>
<rect x="1204.52" y="491.95" width="3.8" height="31.8" fill="#26a69a" fill-opacity="0.8"/>
<rect x="1209.38" y="490.75" width="3.8" height="33" fill="#ef5350" fill-opacity="0.8"/>
<rect x="1214.25" y="501.25" width="3.8" height="22.5" fill="#ef5350" fill-opacity="0.8"/>
<rect x="1219.12" y="494.15" width="3.8" height="29.6" fill="#ef5350" fill-opacity="0.8"/>
<rect x="1223.98" y="495.95" width="3.8" height="27.8" fill="#26a69a" fill-opacity="0.8"/>
<rect x="1228.85" y="501.85" width="3.8" height="21.9" fill="#26a69a" fill-opacity="0.8"/>
<rect x="1233.71" y="472.25" width="3.8" height="51.5" fill="#ef5350" fill-opacity="0.8"/>
<rect x="1238.58" y="499.45" width="3.8" height="24.3" fill="#ef5350" fill-opacity="0.8"/>
<rect x="1243.45" y="522.55" width="3.8" height="1.2" fill="#ef5350" fill-opacity="0.8"/>
<line x1="9" y1="238.3" x2="1535" y2="238.3" stroke="#f23645" stroke-width="1" stroke-dasharray="1 3.1" stroke-opacity="0.7"/>
<line x1="9.38" y1="291" x2="9.38" y2="319" stroke="#ef5350" stroke-width="1.15" stroke-opacity="0.85"/>
<rect x="8.1" y="296" width="2.56" height="12" fill="#f23645" fill-opacity="0.95"/>
<line x1="14.25" y1="295" x2="14.25" y2="324" stroke="#26a69a" stroke-width="1.15" stroke-opacity="0.85"/>
<rect x="12.97" y="300" width="2.56" height="7.5" fill="#1fa15f" fill-opacity="0.95"/>
<line x1="19.11" y1="289.5" x2="19.11" y2="318" stroke="#ef5350" stroke-width="1.15" stroke-opacity="0.85"/>
<rect x="17.83" y="300" width="2.56" height="14" fill="#f23645" fill-opacity="0.95"/>
<line x1="23.98" y1="278" x2="23.98" y2="319" stroke="#26a69a" stroke-width="1.15" stroke-opacity="0.85"/>
<rect x="22.7" y="280" width="2.56" height="34" fill="#1fa15f" fill-opacity="0.95"/>
<line x1="28.85" y1="249" x2="28.85" y2="282" stroke="#26a69a" stroke-width="1.15" stroke-opacity="0.85"/>
<rect x="27.57" y="260" width="2.56" height="20.5" fill="#1fa15f" fill-opacity="0.95"/>
<line x1="33.71" y1="227.5" x2="33.71" y2="270" stroke="#ef5350" stroke-width="1.15" stroke-opacity="0.85"/>
<rect x="32.43" y="262.3" width="2.56" height="2" fill="#f23645" fill-opacity="0.95"/>
<line x1="38.58" y1="256" x2="38.58" y2="299" stroke="#ef5350" stroke-width="1.15" stroke-opacity="0.85"/>
<rect x="37.3" y="261" width="2.56" height="26.5" fill="#f23645" fill-opacity="0.95"/>
<line x1="43.44" y1="281" x2="43.44" y2="297" stroke="#26a69a" stroke-width="1.15" stroke-opacity="0.85"/>
<rect x="42.16" y="286" width="2.56" height="2" fill="#1fa15f" fill-opacity="0.95"/>
<line x1="48.31" y1="250" x2="48.31" y2="291" stroke="#26a69a" stroke-width="1.15" stroke-opacity="0.85"/>
<rect x="47.03" y="252.5" width="2.56" height="33.5" fill="#1fa15f" fill-opacity="0.95"/>
<line x1="53.18" y1="241" x2="53.18" y2="272.5" stroke="#ef5350" stroke-width="1.15" stroke-opacity="0.85"/>
<rect x="51.9" y="252.5" width="2.56" height="17.5" fill="#f23645" fill-opacity="0.95"/>
<line x1="58.04" y1="249" x2="58.04" y2="271" stroke="#26a69a" stroke-width="1.15" stroke-opacity="0.85"/>
<rect x="56.76" y="259" width="2.56" height="11" fill="#1fa15f" fill-opacity="0.95"/>
<line x1="62.91" y1="257" x2="62.91" y2="279" stroke="#ef5350" stroke-width="1.15" stroke-opacity="0.85"/>
<rect x="61.63" y="259" width="2.56" height="17" fill="#f23645" fill-opacity="0.95"/>
<line x1="67.77" y1="200" x2="67.77" y2="280.5" stroke="#26a69a" stroke-width="1.15" stroke-opacity="0.85"/>
<rect x="66.49" y="225" width="2.56" height="51" fill="#1fa15f" fill-opacity="0.95"/>
<line x1="72.64" y1="201" x2="72.64" y2="251" stroke="#ef5350" stroke-width="1.15" stroke-opacity="0.85"/>
<rect x="71.36" y="225" width="2.56" height="14.5" fill="#f23645" fill-opacity="0.95"/>
<line x1="77.51" y1="204" x2="77.51" y2="246" stroke="#26a69a" stroke-width="1.15" stroke-opacity="0.85"/>
<rect x="76.23" y="222" width="2.56" height="17" fill="#1fa15f" fill-opacity="0.95"/>
<line x1="82.37" y1="220" x2="82.37" y2="241" stroke="#ef5350" stroke-width="1.15" stroke-opacity="0.85"/>
<rect x="81.09" y="222" width="2.56" height="13" fill="#f23645" fill-opacity="0.95"/>
<line x1="87.24" y1="235" x2="87.24" y2="252.5" stroke="#ef5350" stroke-width="1.15" stroke-opacity="0.85"/>
<rect x="85.96" y="237.5" width="2.56" height="12.5" fill="#f23645" fill-opacity="0.95"/>
<line x1="92.1" y1="236" x2="92.1" y2="254" stroke="#26a69a" stroke-width="1.15" stroke-opacity="0.85"/>
<rect x="90.82" y="244.5" width="2.56" height="5.5" fill="#1fa15f" fill-opacity="0.95"/>
<line x1="96.97" y1="242" x2="96.97" y2="270" stroke="#ef5350" stroke-width="1.15" stroke-opacity="0.85"/>
<rect x="95.69" y="244" width="2.56" height="15" fill="#f23645" fill-opacity="0.95"/>
<line x1="101.84" y1="224" x2="101.84" y2="261" stroke="#26a69a" stroke-width="1.15" stroke-opacity="0.85"/>
<rect x="100.56" y="227" width="2.56" height="32" fill="#1fa15f" fill-opacity="0.95"/>
<line x1="106.7" y1="197.5" x2="106.7" y2="229" stroke="#26a69a" stroke-width="1.15" stroke-opacity="0.85"/>
<rect x="105.42" y="209" width="2.56" height="17" fill="#1fa15f" fill-opacity="0.95"/>
<line x1="111.57" y1="200" x2="111.57" y2="225" stroke="#ef5350" stroke-width="1.15" stroke-opacity="0.85"/>
<rect x="110.29" y="209" width="2.56" height="7" fill="#f23645" fill-opacity="0.95"/>
<line x1="116.43" y1="170" x2="116.43" y2="218" stroke="#26a69a" stroke-width="1.15" stroke-opacity="0.85"/>
<rect x="115.15" y="184" width="2.56" height="32" fill="#1fa15f" fill-opacity="0.95"/>
<line x1="121.3" y1="179" x2="121.3" y2="200" stroke="#ef5350" stroke-width="1.15" stroke-opacity="0.85"/>
<rect x="120.02" y="184" width="2.56" height="11" fill="#f23645" fill-opacity="0.95"/>
<line x1="126.17" y1="192.5" x2="126.17" y2="215" stroke="#ef5350" stroke-width="1.15" stroke-opacity="0.85"/>
<rect x="124.89" y="194" width="2.56" height="15" fill="#f23645" fill-opacity="0.95"/>
<line x1="131.03" y1="176" x2="131.03" y2="222.5" stroke="#26a69a" stroke-width="1.15" stroke-opacity="0.85"/>
<rect x="129.75" y="201" width="2.56" height="8" fill="#1fa15f" fill-opacity="0.95"/>
<line x1="135.9" y1="184" x2="135.9" y2="205" stroke="#26a69a" stroke-width="1.15" stroke-opacity="0.85"/>
<rect x="134.62" y="197.5" width="2.56" height="3.5" fill="#1fa15f" fill-opacity="0.95"/>
<line x1="140.76" y1="184" x2="140.76" y2="200" stroke="#26a69a" stroke-width="1.15" stroke-opacity="0.85"/>
<rect x="139.48" y="194" width="2.56" height="3.5" fill="#1fa15f" fill-opacity="0.95"/>
<line x1="145.63" y1="192.5" x2="145.63" y2="215" stroke="#ef5350" stroke-width="1.15" stroke-opacity="0.85"/>
<rect x="144.35" y="194" width="2.56" height="13.5" fill="#f23645" fill-opacity="0.95"/>
<line x1="150.5" y1="202.5" x2="150.5" y2="216" stroke="#26a69a" stroke-width="1.15" stroke-opacity="0.85"/>
<rect x="149.22" y="205.5" width="2.56" height="1.2" fill="#1fa15f" fill-opacity="0.95"/>
<line x1="155.36" y1="196" x2="155.36" y2="210" stroke="#26a69a" stroke-width="1.15" stroke-opacity="0.85"/>
<rect x="154.08" y="203" width="2.56" height="3" fill="#1fa15f" fill-opacity="0.95"/>
<line x1="160.23" y1="192.5" x2="160.23" y2="205" stroke="#26a69a" stroke-width="1.15" stroke-opacity="0.85"/>
<rect x="158.95" y="197.5" width="2.56" height="6.5" fill="#1fa15f" fill-opacity="0.95"/>
<line x1="165.09" y1="185" x2="165.09" y2="204" stroke="#26a69a" stroke-width="1.15" stroke-opacity="0.85"/>
<rect x="163.81" y="186" width="2.56" height="11.5" fill="#1fa15f" fill-opacity="0.95"/>
<line x1="169.96" y1="165" x2="169.96" y2="190" stroke="#26a69a" stroke-width="1.15" stroke-opacity="0.85"/>
<rect x="168.68" y="181" width="2.56" height="6.5" fill="#1fa15f" fill-opacity="0.95"/>
<line x1="174.83" y1="172.5" x2="174.83" y2="199" stroke="#26a69a" stroke-width="1.15" stroke-opacity="0.85"/>
<rect x="173.55" y="176" width="2.56" height="5" fill="#1fa15f" fill-opacity="0.95"/>
<line x1="179.69" y1="143" x2="179.69" y2="177.5" stroke="#26a69a" stroke-width="1.15" stroke-opacity="0.85"/>
<rect x="178.41" y="147.5" width="2.56" height="28.5" fill="#1fa15f" fill-opacity="0.95"/>
<line x1="184.56" y1="122.5" x2="184.56" y2="151" stroke="#26a69a" stroke-width="1.15" stroke-opacity="0.85"/>
<rect x="183.28" y="131" width="2.56" height="18" fill="#1fa15f" fill-opacity="0.95"/>
<line x1="189.42" y1="97.5" x2="189.42" y2="140" stroke="#26a69a" stroke-width="1.15" stroke-opacity="0.85"/>
<rect x="188.14" y="110" width="2.56" height="21" fill="#1fa15f" fill-opacity="0.95"/>
<line x1="194.29" y1="102.5" x2="194.29" y2="125" stroke="#ef5350" stroke-width="1.15" stroke-opacity="0.85"/>
<rect x="193.01" y="110" width="2.56" height="2.5" fill="#f23645" fill-opacity="0.95"/>
<line x1="199.16" y1="111" x2="199.16" y2="140" stroke="#ef5350" stroke-width="1.15" stroke-opacity="0.85"/>
<rect x="197.88" y="112.5" width="2.56" height="25" fill="#f23645" fill-opacity="0.95"/>
<line x1="204.02" y1="116" x2="204.02" y2="144.5" stroke="#26a69a" stroke-width="1.15" stroke-opacity="0.85"/>
<rect x="202.74" y="122.5" width="2.56" height="13.5" fill="#1fa15f" fill-opacity="0.95"/>
<line x1="208.89" y1="122" x2="208.89" y2="169" stroke="#ef5350" stroke-width="1.15" stroke-opacity="0.85"/>
<rect x="207.61" y="122.5" width="2.56" height="37.5" fill="#f23645" fill-opacity="0.95"/>
<line x1="213.75" y1="152.5" x2="213.75" y2="191" stroke="#ef5350" stroke-width="1.15" stroke-opacity="0.85"/>
<rect x="212.47" y="160" width="2.56" height="22.5" fill="#f23645" fill-opacity="0.95"/>
<line x1="218.62" y1="175" x2="218.62" y2="211" stroke="#ef5350" stroke-width="1.15" stroke-opacity="0.85"/>
<rect x="217.34" y="181" width="2.56" height="26.5" fill="#f23645" fill-opacity="0.95"/>
<line x1="223.49" y1="184" x2="223.49" y2="209" stroke="#26a69a" stroke-width="1.15" stroke-opacity="0.85"/>
<rect x="222.21" y="189" width="2.56" height="13.5" fill="#1fa15f" fill-opacity="0.95"/>
<line x1="228.35" y1="187.5" x2="228.35" y2="209" stroke="#ef5350" stroke-width="1.15" stroke-opacity="0.85"/>
<rect x="227.07" y="189" width="2.56" height="11" fill="#f23645" fill-opacity="0.95"/>
<line x1="233.22" y1="190" x2="233.22" y2="210" stroke="#ef5350" stroke-width="1.15" stroke-opacity="0.85"/>
<rect x="231.94" y="199" width="2.56" height="7" fill="#f23645" fill-opacity="0.95"/>
<line x1="238.08" y1="189" x2="238.08" y2="215" stroke="#26a69a" stroke-width="1.15" stroke-opacity="0.85"/>
<rect x="236.8" y="190" width="2.56" height="12.5" fill="#1fa15f" fill-opacity="0.95"/>
<line x1="242.95" y1="156" x2="242.95" y2="212.5" stroke="#26a69a" stroke-width="1.15" stroke-opacity="0.85"/>
<rect x="241.67" y="181" width="2.56" height="10" fill="#1fa15f" fill-opacity="0.95"/>
<line x1="247.82" y1="157.5" x2="247.82" y2="182.5" stroke="#26a69a" stroke-width="1.15" stroke-opacity="0.85"/>
<rect x="246.54" y="169" width="2.56" height="12" fill="#1fa15f" fill-opacity="0.95"/>
<line x1="252.68" y1="166" x2="252.68" y2="186" stroke="#ef5350" stroke-width="1.15" stroke-opacity="0.85"/>
<rect x="251.4" y="169" width="2.56" height="8.5" fill="#f23645" fill-opacity="0.95"/>
<line x1="257.55" y1="172.5" x2="257.55" y2="184" stroke="#ef5350" stroke-width="1.15" stroke-opacity="0.85"/>
<rect x="256.27" y="177" width="2.56" height="3.5" fill="#f23645" fill-opacity="0.95"/>
<line x1="262.41" y1="162.5" x2="262.41" y2="191" stroke="#ef5350" stroke-width="1.15" stroke-opacity="0.85"/>
<rect x="261.13" y="180" width="2.56" height="10" fill="#f23645" fill-opacity="0.95"/>
<line x1="267.28" y1="187.5" x2="267.28" y2="210" stroke="#ef5350" stroke-width="1.15" stroke-opacity="0.85"/>
<rect x="266" y="189.5" width="2.56" height="11.5" fill="#f23645" fill-opacity="0.95"/>
<line x1="272.15" y1="189" x2="272.15" y2="209" stroke="#26a69a" stroke-width="1.15" stroke-opacity="0.85"/>
<rect x="270.87" y="194" width="2.56" height="7" fill="#1fa15f" fill-opacity="0.95"/>
<line x1="277.01" y1="187.5" x2="277.01" y2="212.5" stroke="#26a69a" stroke-width="1.15" stroke-opacity="0.85"/>
<rect x="275.73" y="191" width="2.56" height="4" fill="#1fa15f" fill-opacity="0.95"/>
<line x1="281.88" y1="190" x2="281.88" y2="204" stroke="#ef5350" stroke-width="1.15" stroke-opacity="0.85"/>
<rect x="280.6" y="191" width="2.56" height="10" fill="#f23645" fill-opacity="0.95"/>
<line x1="286.74" y1="187.5" x2="286.74" y2="207.5" stroke="#26a69a" stroke-width="1.15" stroke-opacity="0.85"/>
<rect x="285.46" y="191" width="2.56" height="10" fill="#1fa15f" fill-opacity="0.95"/>
<line x1="291.61" y1="190" x2="291.61" y2="219" stroke="#ef5350" stroke-width="1.15" stroke-opacity="0.85"/>
<rect x="290.33" y="191" width="2.56" height="21.5" fill="#f23645" fill-opacity="0.95"/>
<line x1="296.48" y1="206" x2="296.48" y2="219" stroke="#ef5350" stroke-width="1.15" stroke-opacity="0.85"/>
<rect x="295.2" y="212.5" width="2.56" height="3.5" fill="#f23645" fill-opacity="0.95"/>
<line x1="301.34" y1="211" x2="301.34" y2="247.5" stroke="#ef5350" stroke-width="1.15" stroke-opacity="0.85"/>
<rect x="300.06" y="215" width="2.56" height="17.5" fill="#f23645" fill-opacity="0.95"/>
<line x1="306.21" y1="225" x2="306.21" y2="238" stroke="#ef5350" stroke-width="1.15" stroke-opacity="0.85"/>
<rect x="304.93" y="232" width="2.56" height="3" fill="#f23645" fill-opacity="0.95"/>
<line x1="311.07" y1="221" x2="311.07" y2="245" stroke="#26a69a" stroke-width="1.15" stroke-opacity="0.85"/>
<rect x="309.79" y="225" width="2.56" height="9" fill="#1fa15f" fill-opacity="0.95"/>
<line x1="315.94" y1="224" x2="315.94" y2="253" stroke="#ef5350" stroke-width="1.15" stroke-opacity="0.85"/>
<rect x="314.66" y="225" width="2.56" height="14" fill="#f23645" fill-opacity="0.95"/>
<line x1="320.81" y1="222.5" x2="320.81" y2="247.5" stroke="#26a69a" stroke-width="1.15" stroke-opacity="0.85"/>
<rect x="319.53" y="224" width="2.56" height="14" fill="#1fa15f" fill-opacity="0.95"/>
<line x1="325.67" y1="222.5" x2="325.67" y2="234.5" stroke="#ef5350" stroke-width="1.15" stroke-opacity="0.85"/>
<rect x="324.39" y="224" width="2.56" height="8.5" fill="#f23645" fill-opacity="0.95"/>
<line x1="330.54" y1="220" x2="330.54" y2="234" stroke="#26a69a" stroke-width="1.15" stroke-opacity="0.85"/>
<rect x="329.26" y="222.5" width="2.56" height="10" fill="#1fa15f" fill-opacity="0.95"/>
<line x1="335.4" y1="216" x2="335.4" y2="230" stroke="#ef5350" stroke-width="1.15" stroke-opacity="0.85"/>
<rect x="334.12" y="222.5" width="2.56" height="6.5" fill="#f23645" fill-opacity="0.95"/>
<line x1="340.27" y1="224" x2="340.27" y2="235" stroke="#26a69a" stroke-width="1.15" stroke-opacity="0.85"/>
<rect x="338.99" y="226" width="2.56" height="3" fill="#1fa15f" fill-opacity="0.95"/>
<line x1="345.14" y1="211" x2="345.14" y2="231" stroke="#26a69a" stroke-width="1.15" stroke-opacity="0.85"/>
<rect x="343.86" y="215" width="2.56" height="12.5" fill="#1fa15f" fill-opacity="0.95"/>
<line x1="350" y1="210" x2="350" y2="229" stroke="#ef5350" stroke-width="1.15" stroke-opacity="0.85"/>
<rect x="348.72" y="214" width="2.56" height="8.5" fill="#f23645" fill-opacity="0.95"/>
<line x1="354.87" y1="220" x2="354.87" y2="230" stroke="#ef5350" stroke-width="1.15" stroke-opacity="0.85"/>
<rect x="353.59" y="221" width="2.56" height="8" fill="#f23645" fill-opacity="0.95"/>
<line x1="359.73" y1="226" x2="359.73" y2="234" stroke="#ef5350" stroke-width="1.15" stroke-opacity="0.85"/>
<rect x="358.45" y="227" width="2.56" height="3" fill="#f23645" fill-opacity="0.95"/>
<line x1="364.6" y1="227.5" x2="364.6" y2="242" stroke="#ef5350" stroke-width="1.15" stroke-opacity="0.85"/>
<rect x="363.32" y="229" width="2.56" height="10" fill="#f23645" fill-opacity="0.95"/>
<line x1="369.47" y1="220" x2="369.47" y2="242.5" stroke="#26a69a" stroke-width="1.15" stroke-opacity="0.85"/>
<rect x="368.19" y="226" width="2.56" height="13" fill="#1fa15f" fill-opacity="0.95"/>
<line x1="374.33" y1="216" x2="374.33" y2="230.5" stroke="#26a69a" stroke-width="1.15" stroke-opacity="0.85"/>
<rect x="373.05" y="224" width="2.56" height="3.5" fill="#1fa15f" fill-opacity="0.95"/>
<line x1="379.2" y1="224" x2="379.2" y2="237.5" stroke="#ef5350" stroke-width="1.15" stroke-opacity="0.85"/>
<rect x="377.92" y="225" width="2.56" height="9" fill="#f23645" fill-opacity="0.95"/>
<line x1="384.06" y1="232.5" x2="384.06" y2="244.5" stroke="#ef5350" stroke-width="1.15" stroke-opacity="0.85"/>
<rect x="382.78" y="234" width="2.56" height="6" fill="#f23645" fill-opacity="0.95"/>
<line x1="388.93" y1="229" x2="388.93" y2="246" stroke="#26a69a" stroke-width="1.15" stroke-opacity="0.85"/>
<rect x="387.65" y="234.5" width="2.56" height="5.5" fill="#1fa15f" fill-opacity="0.95"/>
<line x1="393.8" y1="227.5" x2="393.8" y2="237.5" stroke="#26a69a" stroke-width="1.15" stroke-opacity="0.85"/>
<rect x="392.52" y="229" width="2.56" height="6" fill="#1fa15f" fill-opacity="0.95"/>
<line x1="398.66" y1="203" x2="398.66" y2="231" stroke="#26a69a" stroke-width="1.15" stroke-opacity="0.85"/>
<rect x="397.38" y="205" width="2.56" height="24" fill="#1fa15f" fill-opacity="0.95"/>
<line x1="403.53" y1="201" x2="403.53" y2="216" stroke="#ef5350" stroke-width="1.15" stroke-opacity="0.85"/>
<rect x="402.25" y="206" width="2.56" height="8" fill="#f23645" fill-opacity="0.95"/>
<line x1="408.39" y1="206" x2="408.39" y2="217.5" stroke="#ef5350" stroke-width="1.15" stroke-opacity="0.85"/>
<rect x="407.11" y="212" width="2.56" height="3.5" fill="#f23645" fill-opacity="0.95"/>
<line x1="413.26" y1="209" x2="413.26" y2="220" stroke="#ef5350" stroke-width="1.15" stroke-opacity="0.85"/>
<rect x="411.98" y="214.5" width="2.56" height="3.5" fill="#f23645" fill-opacity="0.95"/>
<line x1="418.13" y1="216" x2="418.13" y2="236" stroke="#ef5350" stroke-width="1.15" stroke-opacity="0.85"/>
<rect x="416.85" y="217.5" width="2.56" height="15" fill="#f23645" fill-opacity="0.95"/>
<line x1="422.99" y1="210.5" x2="422.99" y2="235" stroke="#26a69a" stroke-width="1.15" stroke-opacity="0.85"/>
<rect x="421.71" y="212.5" width="2.56" height="20" fill="#1fa15f" fill-opacity="0.95"/>
<line x1="427.86" y1="212.5" x2="427.86" y2="220" stroke="#ef5350" stroke-width="1.15" stroke-opacity="0.85"/>
<rect x="426.58" y="214" width="2.56" height="2" fill="#f23645" fill-opacity="0.95"/>
<line x1="432.72" y1="207" x2="432.72" y2="220" stroke="#26a69a" stroke-width="1.15" stroke-opacity="0.85"/>
<rect x="431.44" y="214.5" width="2.56" height="2.5" fill="#1fa15f" fill-opacity="0.95"/>
<line x1="437.59" y1="212" x2="437.59" y2="255.5" stroke="#ef5350" stroke-width="1.15" stroke-opacity="0.85"/>
<rect x="436.31" y="215" width="2.56" height="35.5" fill="#f23645" fill-opacity="0.95"/>
<line x1="442.46" y1="242.5" x2="442.46" y2="270" stroke="#26a69a" stroke-width="1.15" stroke-opacity="0.85"/>
<rect x="441.18" y="247.5" width="2.56" height="3" fill="#1fa15f" fill-opacity="0.95"/>
<line x1="447.32" y1="246" x2="447.32" y2="296" stroke="#ef5350" stroke-width="1.15" stroke-opacity="0.85"/>
<rect x="446.04" y="247.5" width="2.56" height="43" fill="#f23645" fill-opacity="0.95"/>
<line x1="452.19" y1="278" x2="452.19" y2="293" stroke="#26a69a" stroke-width="1.15" stroke-opacity="0.85"/>
<rect x="450.91" y="288" width="2.56" height="2.5" fill="#1fa15f" fill-opacity="0.95"/>
<line x1="457.05" y1="287.5" x2="457.05" y2="334" stroke="#ef5350" stroke-width="1.15" stroke-opacity="0.85"/>
<rect x="455.77" y="289" width="2.56" height="38.5" fill="#f23645" fill-opacity="0.95"/>
<line x1="461.92" y1="326" x2="461.92" y2="430" stroke="#ef5350" stroke-width="1.15" stroke-opacity="0.85"/>
<rect x="460.64" y="327.5" width="2.56" height="28.5" fill="#f23645" fill-opacity="0.95"/>
<line x1="466.79" y1="347.5" x2="466.79" y2="377" stroke="#ef5350" stroke-width="1.15" stroke-opacity="0.85"/>
<rect x="465.51" y="355.5" width="2.56" height="4" fill="#f23645" fill-opacity="0.95"/>
<line x1="471.65" y1="339.5" x2="471.65" y2="369" stroke="#26a69a" stroke-width="1.15" stroke-opacity="0.85"/>
<rect x="470.37" y="355.5" width="2.56" height="4" fill="#1fa15f" fill-opacity="0.95"/>
<line x1="476.52" y1="335" x2="476.52" y2="364.5" stroke="#26a69a" stroke-width="1.15" stroke-opacity="0.85"/>
<rect x="475.24" y="354.5" width="2.56" height="2" fill="#1fa15f" fill-opacity="0.95"/>
<line x1="481.38" y1="352" x2="481.38" y2="380.5" stroke="#ef5350" stroke-width="1.15" stroke-opacity="0.85"/>
<rect x="480.1" y="354.5" width="2.56" height="17.5" fill="#f23645" fill-opacity="0.95"/>
<line x1="486.25" y1="367" x2="486.25" y2="385.5" stroke="#ef5350" stroke-width="1.15" stroke-opacity="0.85"/>
<rect x="484.97" y="370.5" width="2.56" height="3.5" fill="#f23645" fill-opacity="0.95"/>
<line x1="491.12" y1="365" x2="491.12" y2="384" stroke="#26a69a" stroke-width="1.15" stroke-opacity="0.85"/>
<rect x="489.84" y="371" width="2.56" height="3" fill="#1fa15f" fill-opacity="0.95"/>
<line x1="495.98" y1="357" x2="495.98" y2="375" stroke="#26a69a" stroke-width="1.15" stroke-opacity="0.85"/>
<rect x="494.7" y="366" width="2.56" height="6" fill="#1fa15f" fill-opacity="0.95"/>
<line x1="500.85" y1="364" x2="500.85" y2="377" stroke="#ef5350" stroke-width="1.15" stroke-opacity="0.85"/>
<rect x="499.57" y="366" width="2.56" height="8.5" fill="#f23645" fill-opacity="0.95"/>
<line x1="505.71" y1="370" x2="505.71" y2="380" stroke="#26a69a" stroke-width="1.15" stroke-opacity="0.85"/>
<rect x="504.43" y="371" width="2.56" height="3.5" fill="#1fa15f" fill-opacity="0.95"/>
<line x1="510.58" y1="360" x2="510.58" y2="385.5" stroke="#26a69a" stroke-width="1.15" stroke-opacity="0.85"/>
<rect x="509.3" y="361" width="2.56" height="10" fill="#1fa15f" fill-opacity="0.95"/>
<line x1="515.45" y1="336" x2="515.45" y2="363" stroke="#26a69a" stroke-width="1.15" stroke-opacity="0.85"/>
<rect x="514.17" y="340" width="2.56" height="21" fill="#1fa15f" fill-opacity="0.95"/>
<line x1="520.31" y1="314.5" x2="520.31" y2="342.5" stroke="#26a69a" stroke-width="1.15" stroke-opacity="0.85"/>
<rect x="519.03" y="335" width="2.56" height="5.5" fill="#1fa15f" fill-opacity="0.95"/>
<line x1="525.18" y1="315.5" x2="525.18" y2="339" stroke="#26a69a" stroke-width="1.15" stroke-opacity="0.85"/>
<rect x="523.9" y="325.5" width="2.56" height="10" fill="#1fa15f" fill-opacity="0.95"/>
<line x1="530.04" y1="324" x2="530.04" y2="342.5" stroke="#ef5350" stroke-width="1.15" stroke-opacity="0.85"/>
<rect x="528.76" y="325.5" width="2.56" height="10.5" fill="#f23645" fill-opacity="0.95"/>
<line x1="534.91" y1="314" x2="534.91" y2="337" stroke="#26a69a" stroke-width="1.15" stroke-opacity="0.85"/>
<rect x="533.63" y="330" width="2.56" height="5.5" fill="#1fa15f" fill-opacity="0.95"/>
<line x1="539.78" y1="329" x2="539.78" y2="353" stroke="#ef5350" stroke-width="1.15" stroke-opacity="0.85"/>
<rect x="538.5" y="330.5" width="2.56" height="18.5" fill="#f23645" fill-opacity="0.95"/>
<line x1="544.64" y1="335" x2="544.64" y2="352" stroke="#26a69a" stroke-width="1.15" stroke-opacity="0.85"/>
<rect x="543.36" y="339" width="2.56" height="9" fill="#1fa15f" fill-opacity="0.95"/>
<line x1="549.51" y1="337.5" x2="549.51" y2="375" stroke="#ef5350" stroke-width="1.15" stroke-opacity="0.85"/>
<rect x="548.23" y="339" width="2.56" height="27.5" fill="#f23645" fill-opacity="0.95"/>
<line x1="554.37" y1="350.5" x2="554.37" y2="367.5" stroke="#26a69a" stroke-width="1.15" stroke-opacity="0.85"/>
<rect x="553.09" y="355" width="2.56" height="11.5" fill="#1fa15f" fill-opacity="0.95"/>
<line x1="559.24" y1="321" x2="559.24" y2="365" stroke="#26a69a" stroke-width="1.15" stroke-opacity="0.85"/>
<rect x="557.96" y="338" width="2.56" height="17.5" fill="#1fa15f" fill-opacity="0.95"/>
<line x1="564.11" y1="329.5" x2="564.11" y2="346" stroke="#26a69a" stroke-width="1.15" stroke-opacity="0.85"/>
<rect x="562.83" y="331" width="2.56" height="7" fill="#1fa15f" fill-opacity="0.95"/>
<line x1="568.97" y1="329" x2="568.97" y2="335" stroke="#ef5350" stroke-width="1.15" stroke-opacity="0.85"/>
<rect x="567.69" y="331" width="2.56" height="2" fill="#f23645" fill-opacity="0.95"/>
<line x1="573.84" y1="322" x2="573.84" y2="334" stroke="#26a69a" stroke-width="1.15" stroke-opacity="0.85"/>
<rect x="572.56" y="325" width="2.56" height="7.5" fill="#1fa15f" fill-opacity="0.95"/>
<line x1="578.7" y1="318" x2="578.7" y2="334" stroke="#ef5350" stroke-width="1.15" stroke-opacity="0.85"/>
<rect x="577.42" y="325" width="2.56" height="7" fill="#f23645" fill-opacity="0.95"/>
<line x1="583.57" y1="326" x2="583.57" y2="348" stroke="#ef5350" stroke-width="1.15" stroke-opacity="0.85"/>
<rect x="582.29" y="331" width="2.56" height="11.5" fill="#f23645" fill-opacity="0.95"/>
<line x1="588.44" y1="329" x2="588.44" y2="354" stroke="#ef5350" stroke-width="1.15" stroke-opacity="0.85"/>
<rect x="587.16" y="342.5" width="2.56" height="8" fill="#f23645" fill-opacity="0.95"/>
<line x1="593.3" y1="340.5" x2="593.3" y2="354" stroke="#26a69a" stroke-width="1.15" stroke-opacity="0.85"/>
<rect x="592.02" y="342" width="2.56" height="8" fill="#1fa15f" fill-opacity="0.95"/>
<line x1="598.17" y1="331" x2="598.17" y2="345.5" stroke="#26a69a" stroke-width="1.15" stroke-opacity="0.85"/>
<rect x="596.89" y="333" width="2.56" height="9.5" fill="#1fa15f" fill-opacity="0.95"/>
<line x1="603.03" y1="332" x2="603.03" y2="344" stroke="#ef5350" stroke-width="1.15" stroke-opacity="0.85"/>
<rect x="601.75" y="337" width="2.56" height="5.5" fill="#f23645" fill-opacity="0.95"/>
<line x1="607.9" y1="330" x2="607.9" y2="350" stroke="#26a69a" stroke-width="1.15" stroke-opacity="0.85"/>
<rect x="606.62" y="337" width="2.56" height="5.5" fill="#1fa15f" fill-opacity="0.95"/>
<line x1="612.77" y1="329" x2="612.77" y2="339" stroke="#26a69a" stroke-width="1.15" stroke-opacity="0.85"/>
<rect x="611.49" y="331" width="2.56" height="6.5" fill="#1fa15f" fill-opacity="0.95"/>
<line x1="617.63" y1="327" x2="617.63" y2="341" stroke="#ef5350" stroke-width="1.15" stroke-opacity="0.85"/>
<rect x="616.35" y="331" width="2.56" height="5" fill="#f23645" fill-opacity="0.95"/>
<line x1="622.5" y1="227.5" x2="622.5" y2="339.5" stroke="#26a69a" stroke-width="1.15" stroke-opacity="0.85"/>
<rect x="621.22" y="241" width="2.56" height="95" fill="#1fa15f" fill-opacity="0.95"/>
<line x1="627.36" y1="211" x2="627.36" y2="297.5" stroke="#ef5350" stroke-width="1.15" stroke-opacity="0.85"/>
<rect x="626.08" y="241" width="2.56" height="41.5" fill="#f23645" fill-opacity="0.95"/>
<line x1="632.23" y1="269" x2="632.23" y2="287.5" stroke="#ef5350" stroke-width="1.15" stroke-opacity="0.85"/>
<rect x="630.95" y="281" width="2.56" height="4.5" fill="#f23645" fill-opacity="0.95"/>
<line x1="637.1" y1="284" x2="637.1" y2="303" stroke="#ef5350" stroke-width="1.15" stroke-opacity="0.85"/>
<rect x="635.82" y="285" width="2.56" height="16" fill="#f23645" fill-opacity="0.95"/>
<line x1="641.96" y1="294" x2="641.96" y2="307" stroke="#ef5350" stroke-width="1.15" stroke-opacity="0.85"/>
<rect x="640.68" y="301" width="2.56" height="4" fill="#f23645" fill-opacity="0.95"/>
<line x1="646.83" y1="302" x2="646.83" y2="321" stroke="#ef5350" stroke-width="1.15" stroke-opacity="0.85"/>
<rect x="645.55" y="304.5" width="2.56" height="8" fill="#f23645" fill-opacity="0.95"/>
<line x1="651.69" y1="285.5" x2="651.69" y2="310.5" stroke="#26a69a" stroke-width="1.15" stroke-opacity="0.85"/>
<rect x="650.41" y="289.5" width="2.56" height="19.5" fill="#1fa15f" fill-opacity="0.95"/>
<line x1="656.56" y1="275" x2="656.56" y2="300" stroke="#ef5350" stroke-width="1.15" stroke-opacity="0.85"/>
<rect x="655.28" y="289.5" width="2.56" height="9.5" fill="#f23645" fill-opacity="0.95"/>
<line x1="661.43" y1="295.5" x2="661.43" y2="305.5" stroke="#ef5350" stroke-width="1.15" stroke-opacity="0.85"/>
<rect x="660.15" y="297.5" width="2.56" height="7" fill="#f23645" fill-opacity="0.95"/>
<line x1="666.29" y1="300" x2="666.29" y2="311" stroke="#ef5350" stroke-width="1.15" stroke-opacity="0.85"/>
<rect x="665.01" y="304" width="2.56" height="5" fill="#f23645" fill-opacity="0.95"/>
<line x1="671.16" y1="295" x2="671.16" y2="310.5" stroke="#26a69a" stroke-width="1.15" stroke-opacity="0.85"/>
<rect x="669.88" y="297.5" width="2.56" height="11.5" fill="#1fa15f" fill-opacity="0.95"/>
<line x1="676.02" y1="295" x2="676.02" y2="321" stroke="#ef5350" stroke-width="1.15" stroke-opacity="0.85"/>
<rect x="674.74" y="297.5" width="2.56" height="16.5" fill="#f23645" fill-opacity="0.95"/>
<line x1="680.89" y1="310.5" x2="680.89" y2="319" stroke="#ef5350" stroke-width="1.15" stroke-opacity="0.85"/>
<rect x="679.61" y="314" width="2.56" height="3" fill="#f23645" fill-opacity="0.95"/>
<line x1="685.76" y1="307" x2="685.76" y2="317" stroke="#26a69a" stroke-width="1.15" stroke-opacity="0.85"/>
<rect x="684.48" y="310.5" width="2.56" height="4.5" fill="#1fa15f" fill-opacity="0.95"/>
<line x1="690.62" y1="302" x2="690.62" y2="312.5" stroke="#26a69a" stroke-width="1.15" stroke-opacity="0.85"/>
<rect x="689.34" y="309" width="2.56" height="2" fill="#1fa15f" fill-opacity="0.95"/>
<line x1="695.49" y1="302.5" x2="695.49" y2="312" stroke="#26a69a" stroke-width="1.15" stroke-opacity="0.85"/>
<rect x="694.21" y="304" width="2.56" height="6" fill="#1fa15f" fill-opacity="0.95"/>
<line x1="700.35" y1="300" x2="700.35" y2="309" stroke="#26a69a" stroke-width="1.15" stroke-opacity="0.85"/>
<rect x="699.07" y="302.5" width="2.56" height="3.5" fill="#1fa15f" fill-opacity="0.95"/>
<line x1="705.22" y1="295.5" x2="705.22" y2="314" stroke="#26a69a" stroke-width="1.15" stroke-opacity="0.85"/>
<rect x="703.94" y="299" width="2.56" height="5" fill="#1fa15f" fill-opacity="0.95"/>
<line x1="710.09" y1="295" x2="710.09" y2="312.5" stroke="#ef5350" stroke-width="1.15" stroke-opacity="0.85"/>
<rect x="708.81" y="299" width="2.56" height="12" fill="#f23645" fill-opacity="0.95"/>
<line x1="714.95" y1="305" x2="714.95" y2="327.5" stroke="#26a69a" stroke-width="1.15" stroke-opacity="0.85"/>
<rect x="713.67" y="306" width="2.56" height="5" fill="#1fa15f" fill-opacity="0.95"/>
<line x1="719.82" y1="304" x2="719.82" y2="324" stroke="#ef5350" stroke-width="1.15" stroke-opacity="0.85"/>
<rect x="718.54" y="306" width="2.56" height="15" fill="#f23645" fill-opacity="0.95"/>
<line x1="724.68" y1="320" x2="724.68" y2="335.5" stroke="#ef5350" stroke-width="1.15" stroke-opacity="0.85"/>
<rect x="723.4" y="321" width="2.56" height="11.5" fill="#f23645" fill-opacity="0.95"/>
<line x1="729.55" y1="325" x2="729.55" y2="334" stroke="#26a69a" stroke-width="1.15" stroke-opacity="0.85"/>
<rect x="728.27" y="330" width="2.56" height="2" fill="#1fa15f" fill-opacity="0.95"/>
<line x1="734.42" y1="327.5" x2="734.42" y2="334" stroke="#26a69a" stroke-width="1.15" stroke-opacity="0.85"/>
<rect x="733.14" y="330" width="2.56" height="1.5" fill="#1fa15f" fill-opacity="0.95"/>
<line x1="739.28" y1="327.5" x2="739.28" y2="333" stroke="#ef5350" stroke-width="1.15" stroke-opacity="0.85"/>
<rect x="738" y="330" width="2.56" height="2" fill="#f23645" fill-opacity="0.95"/>
<line x1="744.15" y1="329" x2="744.15" y2="345.5" stroke="#ef5350" stroke-width="1.15" stroke-opacity="0.85"/>
<rect x="742.87" y="331" width="2.56" height="3" fill="#f23645" fill-opacity="0.95"/>
<line x1="749.01" y1="317" x2="749.01" y2="335" stroke="#26a69a" stroke-width="1.15" stroke-opacity="0.85"/>
<rect x="747.73" y="324" width="2.56" height="10" fill="#1fa15f" fill-opacity="0.95"/>
<line x1="753.88" y1="317.5" x2="753.88" y2="325.5" stroke="#26a69a" stroke-width="1.15" stroke-opacity="0.85"/>
<rect x="752.6" y="319" width="2.56" height="5.5" fill="#1fa15f" fill-opacity="0.95"/>
<line x1="758.75" y1="318" x2="758.75" y2="326" stroke="#ef5350" stroke-width="1.15" stroke-opacity="0.85"/>
<rect x="757.47" y="319" width="2.56" height="6" fill="#f23645" fill-opacity="0.95"/>
<line x1="763.61" y1="323.5" x2="763.61" y2="331" stroke="#ef5350" stroke-width="1.15" stroke-opacity="0.85"/>
<rect x="762.33" y="324.5" width="2.56" height="5" fill="#f23645" fill-opacity="0.95"/>
<line x1="768.48" y1="327.5" x2="768.48" y2="334" stroke="#ef5350" stroke-width="1.15" stroke-opacity="0.85"/>
<rect x="767.2" y="329" width="2.56" height="3.5" fill="#f23645" fill-opacity="0.95"/>
<line x1="773.34" y1="330" x2="773.34" y2="339" stroke="#ef5350" stroke-width="1.15" stroke-opacity="0.85"/>
<rect x="772.06" y="331" width="2.56" height="4" fill="#f23645" fill-opacity="0.95"/>
<line x1="778.21" y1="330" x2="778.21" y2="338" stroke="#26a69a" stroke-width="1.15" stroke-opacity="0.85"/>
<rect x="776.93" y="332" width="2.56" height="3" fill="#1fa15f" fill-opacity="0.95"/>
<line x1="783.08" y1="332" x2="783.08" y2="356" stroke="#ef5350" stroke-width="1.15" stroke-opacity="0.85"/>
<rect x="781.8" y="334" width="2.56" height="11" fill="#f23645" fill-opacity="0.95"/>
<line x1="787.94" y1="344" x2="787.94" y2="361" stroke="#ef5350" stroke-width="1.15" stroke-opacity="0.85"/>
<rect x="786.66" y="344.5" width="2.56" height="10.5" fill="#f23645" fill-opacity="0.95"/>
<line x1="792.81" y1="350" x2="792.81" y2="405.5" stroke="#ef5350" stroke-width="1.15" stroke-opacity="0.85"/>
<rect x="791.53" y="355" width="2.56" height="27.5" fill="#f23645" fill-opacity="0.95"/>
<line x1="797.67" y1="365" x2="797.67" y2="384" stroke="#26a69a" stroke-width="1.15" stroke-opacity="0.85"/>
<rect x="796.39" y="370.5" width="2.56" height="12" fill="#1fa15f" fill-opacity="0.95"/>
<line x1="802.54" y1="362" x2="802.54" y2="375" stroke="#26a69a" stroke-width="1.15" stroke-opacity="0.85"/>
<rect x="801.26" y="364" width="2.56" height="6.5" fill="#1fa15f" fill-opacity="0.95"/>
<line x1="807.41" y1="357.5" x2="807.41" y2="369" stroke="#26a69a" stroke-width="1.15" stroke-opacity="0.85"/>
<rect x="806.13" y="362" width="2.56" height="2" fill="#1fa15f" fill-opacity="0.95"/>
<line x1="812.27" y1="358" x2="812.27" y2="377" stroke="#ef5350" stroke-width="1.15" stroke-opacity="0.85"/>
<rect x="810.99" y="362" width="2.56" height="11" fill="#f23645" fill-opacity="0.95"/>
<line x1="817.14" y1="371.5" x2="817.14" y2="390" stroke="#ef5350" stroke-width="1.15" stroke-opacity="0.85"/>
<rect x="815.86" y="371.5" width="2.56" height="6.5" fill="#f23645" fill-opacity="0.95"/>
<line x1="822" y1="362" x2="822" y2="378.5" stroke="#26a69a" stroke-width="1.15" stroke-opacity="0.85"/>
<rect x="820.72" y="365" width="2.56" height="13" fill="#1fa15f" fill-opacity="0.95"/>
<line x1="826.87" y1="360" x2="826.87" y2="372" stroke="#ef5350" stroke-width="1.15" stroke-opacity="0.85"/>
<rect x="825.59" y="365" width="2.56" height="3.5" fill="#f23645" fill-opacity="0.95"/>
<line x1="831.74" y1="360" x2="831.74" y2="376.5" stroke="#ef5350" stroke-width="1.15" stroke-opacity="0.85"/>
<rect x="830.46" y="368" width="2.56" height="7" fill="#f23645" fill-opacity="0.95"/>
<line x1="836.6" y1="373" x2="836.6" y2="379" stroke="#ef5350" stroke-width="1.15" stroke-opacity="0.85"/>
<rect x="835.32" y="374" width="2.56" height="1.5" fill="#f23645" fill-opacity="0.95"/>
<line x1="841.47" y1="369" x2="841.47" y2="375" stroke="#26a69a" stroke-width="1.15" stroke-opacity="0.85"/>
<rect x="840.19" y="371.5" width="2.56" height="3" fill="#1fa15f" fill-opacity="0.95"/>
<line x1="846.33" y1="364.5" x2="846.33" y2="379" stroke="#26a69a" stroke-width="1.15" stroke-opacity="0.85"/>
<rect x="845.05" y="365" width="2.56" height="6" fill="#1fa15f" fill-opacity="0.95"/>
<line x1="851.2" y1="348" x2="851.2" y2="375.5" stroke="#26a69a" stroke-width="1.15" stroke-opacity="0.85"/>
<rect x="849.92" y="358.5" width="2.56" height="7" fill="#1fa15f" fill-opacity="0.95"/>
<line x1="856.07" y1="358" x2="856.07" y2="375" stroke="#ef5350" stroke-width="1.15" stroke-opacity="0.85"/>
<rect x="854.79" y="359" width="2.56" height="9.5" fill="#f23645" fill-opacity="0.95"/>
<line x1="860.93" y1="366" x2="860.93" y2="390" stroke="#ef5350" stroke-width="1.15" stroke-opacity="0.85"/>
<rect x="859.65" y="368" width="2.56" height="14.5" fill="#f23645" fill-opacity="0.95"/>
<line x1="865.8" y1="378" x2="865.8" y2="388" stroke="#ef5350" stroke-width="1.15" stroke-opacity="0.85"/>
<rect x="864.52" y="382" width="2.56" height="1.5" fill="#f23645" fill-opacity="0.95"/>
<line x1="870.66" y1="379" x2="870.66" y2="384.5" stroke="#26a69a" stroke-width="1.15" stroke-opacity="0.85"/>
<rect x="869.38" y="380.5" width="2.56" height="2.5" fill="#1fa15f" fill-opacity="0.95"/>
<line x1="875.53" y1="380" x2="875.53" y2="385" stroke="#ef5350" stroke-width="1.15" stroke-opacity="0.85"/>
<rect x="874.25" y="381" width="2.56" height="1.5" fill="#f23645" fill-opacity="0.95"/>
<line x1="880.4" y1="376" x2="880.4" y2="385" stroke="#26a69a" stroke-width="1.15" stroke-opacity="0.85"/>
<rect x="879.12" y="381" width="2.56" height="1.5" fill="#1fa15f" fill-opacity="0.95"/>
<line x1="885.26" y1="377" x2="885.26" y2="384.5" stroke="#26a69a" stroke-width="1.15" stroke-opacity="0.85"/>
<rect x="883.98" y="378.5" width="2.56" height="3" fill="#1fa15f" fill-opacity="0.95"/>
<line x1="890.13" y1="374" x2="890.13" y2="386" stroke="#ef5350" stroke-width="1.15" stroke-opacity="0.85"/>
<rect x="888.85" y="378" width="2.56" height="1.5" fill="#f23645" fill-opacity="0.95"/>
<line x1="894.99" y1="376" x2="894.99" y2="385" stroke="#26a69a" stroke-width="1.15" stroke-opacity="0.85"/>
<rect x="893.71" y="377.5" width="2.56" height="1.5" fill="#1fa15f" fill-opacity="0.95"/>
<line x1="899.86" y1="375.5" x2="899.86" y2="385" stroke="#ef5350" stroke-width="1.15" stroke-opacity="0.85"/>
<rect x="898.58" y="377.5" width="2.56" height="6.5" fill="#f23645" fill-opacity="0.95"/>
<line x1="904.73" y1="382" x2="904.73" y2="386" stroke="#ef5350" stroke-width="1.15" stroke-opacity="0.85"/>
<rect x="903.45" y="383" width="2.56" height="2.5" fill="#f23645" fill-opacity="0.95"/>
<line x1="909.59" y1="384.5" x2="909.59" y2="400" stroke="#ef5350" stroke-width="1.15" stroke-opacity="0.85"/>
<rect x="908.31" y="385" width="2.56" height="6" fill="#f23645" fill-opacity="0.95"/>
<line x1="914.46" y1="390" x2="914.46" y2="407.5" stroke="#ef5350" stroke-width="1.15" stroke-opacity="0.85"/>
<rect x="913.18" y="390.5" width="2.56" height="10" fill="#f23645" fill-opacity="0.95"/>
<line x1="919.32" y1="385" x2="919.32" y2="402" stroke="#26a69a" stroke-width="1.15" stroke-opacity="0.85"/>
<rect x="918.04" y="396" width="2.56" height="5" fill="#1fa15f" fill-opacity="0.95"/>
<line x1="924.19" y1="390" x2="924.19" y2="398" stroke="#26a69a" stroke-width="1.15" stroke-opacity="0.85"/>
<rect x="922.91" y="392" width="2.56" height="4.5" fill="#1fa15f" fill-opacity="0.95"/>
<line x1="929.06" y1="385" x2="929.06" y2="393.5" stroke="#26a69a" stroke-width="1.15" stroke-opacity="0.85"/>
<rect x="927.78" y="388" width="2.56" height="4" fill="#1fa15f" fill-opacity="0.95"/>
<line x1="933.92" y1="382" x2="933.92" y2="396" stroke="#ef5350" stroke-width="1.15" stroke-opacity="0.85"/>
<rect x="932.64" y="388" width="2.56" height="1.5" fill="#f23645" fill-opacity="0.95"/>
<line x1="938.79" y1="385" x2="938.79" y2="391.5" stroke="#ef5350" stroke-width="1.15" stroke-opacity="0.85"/>
<rect x="937.51" y="389" width="2.56" height="1.5" fill="#f23645" fill-opacity="0.95"/>
<line x1="943.65" y1="388" x2="943.65" y2="397.5" stroke="#ef5350" stroke-width="1.15" stroke-opacity="0.85"/>
<rect x="942.37" y="389" width="2.56" height="5" fill="#f23645" fill-opacity="0.95"/>
<line x1="948.52" y1="381" x2="948.52" y2="397.5" stroke="#26a69a" stroke-width="1.15" stroke-opacity="0.85"/>
<rect x="947.24" y="387" width="2.56" height="7" fill="#1fa15f" fill-opacity="0.95"/>
<line x1="953.39" y1="378" x2="953.39" y2="389" stroke="#26a69a" stroke-width="1.15" stroke-opacity="0.85"/>
<rect x="952.11" y="383" width="2.56" height="4.5" fill="#1fa15f" fill-opacity="0.95"/>
<line x1="958.25" y1="380" x2="958.25" y2="389.5" stroke="#ef5350" stroke-width="1.15" stroke-opacity="0.85"/>
<rect x="956.97" y="383" width="2.56" height="4.5" fill="#f23645" fill-opacity="0.95"/>
<line x1="963.12" y1="386.5" x2="963.12" y2="397.5" stroke="#ef5350" stroke-width="1.15" stroke-opacity="0.85"/>
<rect x="961.84" y="387" width="2.56" height="10" fill="#f23645" fill-opacity="0.95"/>
<line x1="967.98" y1="394.5" x2="967.98" y2="399" stroke="#ef5350" stroke-width="1.15" stroke-opacity="0.85"/>
<rect x="966.7" y="396" width="2.56" height="1.5" fill="#f23645" fill-opacity="0.95"/>
<line x1="972.85" y1="394" x2="972.85" y2="398" stroke="#26a69a" stroke-width="1.15" stroke-opacity="0.85"/>
<rect x="971.57" y="395" width="2.56" height="2" fill="#1fa15f" fill-opacity="0.95"/>
<line x1="977.72" y1="395" x2="977.72" y2="400.5" stroke="#ef5350" stroke-width="1.15" stroke-opacity="0.85"/>
<rect x="976.44" y="395.5" width="2.56" height="4.5" fill="#f23645" fill-opacity="0.95"/>
<line x1="982.58" y1="394.5" x2="982.58" y2="403" stroke="#26a69a" stroke-width="1.15" stroke-opacity="0.85"/>
<rect x="981.3" y="395" width="2.56" height="5" fill="#1fa15f" fill-opacity="0.95"/>
<line x1="987.45" y1="392" x2="987.45" y2="399" stroke="#ef5350" stroke-width="1.15" stroke-opacity="0.85"/>
<rect x="986.17" y="395" width="2.56" height="1.5" fill="#f23645" fill-opacity="0.95"/>
<line x1="992.31" y1="391" x2="992.31" y2="399" stroke="#ef5350" stroke-width="1.15" stroke-opacity="0.85"/>
<rect x="991.03" y="396" width="2.56" height="1.5" fill="#f23645" fill-opacity="0.95"/>
<line x1="997.18" y1="388" x2="997.18" y2="398" stroke="#26a69a" stroke-width="1.15" stroke-opacity="0.85"/>
<rect x="995.9" y="390" width="2.56" height="7" fill="#1fa15f" fill-opacity="0.95"/>
<line x1="1002.05" y1="381" x2="1002.05" y2="393" stroke="#26a69a" stroke-width="1.15" stroke-opacity="0.85"/>
<rect x="1000.77" y="387" width="2.56" height="3.5" fill="#1fa15f" fill-opacity="0.95"/>
<line x1="1006.91" y1="383" x2="1006.91" y2="391" stroke="#26a69a" stroke-width="1.15" stroke-opacity="0.85"/>
<rect x="1005.63" y="384" width="2.56" height="6.5" fill="#1fa15f" fill-opacity="0.95"/>
<line x1="1011.78" y1="364.5" x2="1011.78" y2="384.5" stroke="#26a69a" stroke-width="1.15" stroke-opacity="0.85"/>
<rect x="1010.5" y="368" width="2.56" height="16" fill="#1fa15f" fill-opacity="0.95"/>
<line x1="1016.64" y1="363" x2="1016.64" y2="379" stroke="#ef5350" stroke-width="1.15" stroke-opacity="0.85"/>
<rect x="1015.36" y="368" width="2.56" height="9" fill="#f23645" fill-opacity="0.95"/>
<line x1="1021.51" y1="370" x2="1021.51" y2="379" stroke="#26a69a" stroke-width="1.15" stroke-opacity="0.85"/>
<rect x="1020.23" y="374.5" width="2.56" height="2.5" fill="#1fa15f" fill-opacity="0.95"/>
<line x1="1026.38" y1="374" x2="1026.38" y2="385.5" stroke="#ef5350" stroke-width="1.15" stroke-opacity="0.85"/>
<rect x="1025.1" y="375" width="2.56" height="2.5" fill="#f23645" fill-opacity="0.95"/>
<line x1="1031.24" y1="371" x2="1031.24" y2="380" stroke="#26a69a" stroke-width="1.15" stroke-opacity="0.85"/>
<rect x="1029.96" y="374.5" width="2.56" height="3.5" fill="#1fa15f" fill-opacity="0.95"/>
<line x1="1036.11" y1="366" x2="1036.11" y2="375.5" stroke="#26a69a" stroke-width="1.15" stroke-opacity="0.85"/>
<rect x="1034.83" y="370" width="2.56" height="5" fill="#1fa15f" fill-opacity="0.95"/>
<line x1="1040.97" y1="368" x2="1040.97" y2="380.5" stroke="#ef5350" stroke-width="1.15" stroke-opacity="0.85"/>
<rect x="1039.69" y="370" width="2.56" height="7.5" fill="#f23645" fill-opacity="0.95"/>
<line x1="1045.84" y1="377" x2="1045.84" y2="381" stroke="#ef5350" stroke-width="1.15" stroke-opacity="0.85"/>
<rect x="1044.56" y="377.5" width="2.56" height="2.5" fill="#f23645" fill-opacity="0.95"/>
<line x1="1050.71" y1="378" x2="1050.71" y2="391" stroke="#ef5350" stroke-width="1.15" stroke-opacity="0.85"/>
<rect x="1049.43" y="381" width="2.56" height="8" fill="#f23645" fill-opacity="0.95"/>
<line x1="1055.57" y1="384" x2="1055.57" y2="394" stroke="#ef5350" stroke-width="1.15" stroke-opacity="0.85"/>
<rect x="1054.29" y="388.5" width="2.56" height="2.5" fill="#f23645" fill-opacity="0.95"/>
<line x1="1060.44" y1="390" x2="1060.44" y2="396.5" stroke="#ef5350" stroke-width="1.15" stroke-opacity="0.85"/>
<rect x="1059.16" y="390.5" width="2.56" height="2.5" fill="#f23645" fill-opacity="0.95"/>
<line x1="1065.3" y1="392" x2="1065.3" y2="400" stroke="#ef5350" stroke-width="1.15" stroke-opacity="0.85"/>
<rect x="1064.02" y="393" width="2.56" height="3" fill="#f23645" fill-opacity="0.95"/>
<line x1="1070.17" y1="390" x2="1070.17" y2="397" stroke="#ef5350" stroke-width="1.15" stroke-opacity="0.85"/>
<rect x="1068.89" y="395" width="2.56" height="1.5" fill="#f23645" fill-opacity="0.95"/>
<line x1="1075.04" y1="392.5" x2="1075.04" y2="396.5" stroke="#26a69a" stroke-width="1.15" stroke-opacity="0.85"/>
<rect x="1073.76" y="393.5" width="2.56" height="1.5" fill="#1fa15f" fill-opacity="0.95"/>
<line x1="1079.9" y1="392" x2="1079.9" y2="395.5" stroke="#26a69a" stroke-width="1.15" stroke-opacity="0.85"/>
<rect x="1078.62" y="393" width="2.56" height="1.5" fill="#1fa15f" fill-opacity="0.95"/>
<line x1="1084.77" y1="376" x2="1084.77" y2="394" stroke="#26a69a" stroke-width="1.15" stroke-opacity="0.85"/>
<rect x="1083.49" y="388" width="2.56" height="5.5" fill="#1fa15f" fill-opacity="0.95"/>
<line x1="1089.63" y1="387.5" x2="1089.63" y2="396.5" stroke="#ef5350" stroke-width="1.15" stroke-opacity="0.85"/>
<rect x="1088.35" y="388" width="2.56" height="7" fill="#f23645" fill-opacity="0.95"/>
<line x1="1094.5" y1="391.5" x2="1094.5" y2="400.5" stroke="#ef5350" stroke-width="1.15" stroke-opacity="0.85"/>
<rect x="1093.22" y="394.5" width="2.56" height="5.5" fill="#f23645" fill-opacity="0.95"/>
<line x1="1099.37" y1="394" x2="1099.37" y2="403.5" stroke="#26a69a" stroke-width="1.15" stroke-opacity="0.85"/>
<rect x="1098.09" y="394.5" width="2.56" height="5.5" fill="#1fa15f" fill-opacity="0.95"/>
<line x1="1104.23" y1="385.5" x2="1104.23" y2="395.5" stroke="#26a69a" stroke-width="1.15" stroke-opacity="0.85"/>
<rect x="1102.95" y="389" width="2.56" height="5" fill="#1fa15f" fill-opacity="0.95"/>
<line x1="1109.1" y1="372" x2="1109.1" y2="390" stroke="#26a69a" stroke-width="1.15" stroke-opacity="0.85"/>
<rect x="1107.82" y="378" width="2.56" height="11" fill="#1fa15f" fill-opacity="0.95"/>
<line x1="1113.96" y1="370" x2="1113.96" y2="380.5" stroke="#26a69a" stroke-width="1.15" stroke-opacity="0.85"/>
<rect x="1112.68" y="371" width="2.56" height="7" fill="#1fa15f" fill-opacity="0.95"/>
<line x1="1118.83" y1="346.5" x2="1118.83" y2="372.5" stroke="#26a69a" stroke-width="1.15" stroke-opacity="0.85"/>
<rect x="1117.55" y="347" width="2.56" height="24" fill="#1fa15f" fill-opacity="0.95"/>
<line x1="1123.7" y1="329" x2="1123.7" y2="357" stroke="#ef5350" stroke-width="1.15" stroke-opacity="0.85"/>
<rect x="1122.42" y="347" width="2.56" height="3" fill="#f23645" fill-opacity="0.95"/>
<line x1="1128.56" y1="335" x2="1128.56" y2="353" stroke="#26a69a" stroke-width="1.15" stroke-opacity="0.85"/>
<rect x="1127.28" y="347" width="2.56" height="2.5" fill="#1fa15f" fill-opacity="0.95"/>
<line x1="1133.43" y1="323.75" x2="1133.43" y2="348" stroke="#26a69a" stroke-width="1.15" stroke-opacity="0.85"/>
<rect x="1132.15" y="338" width="2.56" height="9.5" fill="#1fa15f" fill-opacity="0.95"/>
<line x1="1138.29" y1="330.5" x2="1138.29" y2="347" stroke="#26a69a" stroke-width="1.15" stroke-opacity="0.85"/>
<rect x="1137.01" y="335.5" width="2.56" height="2.5" fill="#1fa15f" fill-opacity="0.95"/>
<line x1="1143.16" y1="324.5" x2="1143.16" y2="336.5" stroke="#26a69a" stroke-width="1.15" stroke-opacity="0.85"/>
<rect x="1141.88" y="333" width="2.56" height="3" fill="#1fa15f" fill-opacity="0.95"/>
<line x1="1148.03" y1="322.5" x2="1148.03" y2="337" stroke="#26a69a" stroke-width="1.15" stroke-opacity="0.85"/>
<rect x="1146.75" y="327" width="2.56" height="6.5" fill="#1fa15f" fill-opacity="0.95"/>
<line x1="1152.89" y1="316" x2="1152.89" y2="330.5" stroke="#26a69a" stroke-width="1.15" stroke-opacity="0.85"/>
<rect x="1151.61" y="317" width="2.56" height="10.5" fill="#1fa15f" fill-opacity="0.95"/>
<line x1="1157.76" y1="314" x2="1157.76" y2="342" stroke="#ef5350" stroke-width="1.15" stroke-opacity="0.85"/>
<rect x="1156.48" y="317" width="2.56" height="13.5" fill="#f23645" fill-opacity="0.95"/>
<line x1="1162.62" y1="309" x2="1162.62" y2="342.5" stroke="#26a69a" stroke-width="1.15" stroke-opacity="0.85"/>
<rect x="1161.34" y="311" width="2.56" height="19.5" fill="#1fa15f" fill-opacity="0.95"/>
<line x1="1167.49" y1="280" x2="1167.49" y2="322.5" stroke="#26a69a" stroke-width="1.15" stroke-opacity="0.85"/>
<rect x="1166.21" y="289" width="2.56" height="22" fill="#1fa15f" fill-opacity="0.95"/>
<line x1="1172.36" y1="280" x2="1172.36" y2="305" stroke="#26a69a" stroke-width="1.15" stroke-opacity="0.85"/>
<rect x="1171.08" y="280.5" width="2.56" height="8.5" fill="#1fa15f" fill-opacity="0.95"/>
<line x1="1177.22" y1="278" x2="1177.22" y2="292" stroke="#ef5350" stroke-width="1.15" stroke-opacity="0.85"/>
<rect x="1175.94" y="281" width="2.56" height="2" fill="#f23645" fill-opacity="0.95"/>
<line x1="1182.09" y1="252" x2="1182.09" y2="285" stroke="#26a69a" stroke-width="1.15" stroke-opacity="0.85"/>
<rect x="1180.81" y="263" width="2.56" height="20" fill="#1fa15f" fill-opacity="0.95"/>
<line x1="1186.95" y1="216" x2="1186.95" y2="269" stroke="#26a69a" stroke-width="1.15" stroke-opacity="0.85"/>
<rect x="1185.67" y="234.5" width="2.56" height="29" fill="#1fa15f" fill-opacity="0.95"/>
<line x1="1191.82" y1="230" x2="1191.82" y2="274.5" stroke="#ef5350" stroke-width="1.15" stroke-opacity="0.85"/>
<rect x="1190.54" y="235" width="2.56" height="15.75" fill="#f23645" fill-opacity="0.95"/>
<line x1="1196.69" y1="237" x2="1196.69" y2="253" stroke="#26a69a" stroke-width="1.15" stroke-opacity="0.85"/>
<rect x="1195.41" y="242" width="2.56" height="8.75" fill="#1fa15f" fill-opacity="0.95"/>
<line x1="1201.55" y1="201.5" x2="1201.55" y2="262.5" stroke="#26a69a" stroke-width="1.15" stroke-opacity="0.85"/>
<rect x="1200.27" y="227" width="2.56" height="15" fill="#1fa15f" fill-opacity="0.95"/>
<line x1="1206.42" y1="199" x2="1206.42" y2="234" stroke="#26a69a" stroke-width="1.15" stroke-opacity="0.85"/>
<rect x="1205.14" y="202" width="2.56" height="25" fill="#1fa15f" fill-opacity="0.95"/>
<line x1="1211.28" y1="189" x2="1211.28" y2="225" stroke="#ef5350" stroke-width="1.15" stroke-opacity="0.85"/>
<rect x="1210" y="202" width="2.56" height="2.5" fill="#f23645" fill-opacity="0.95"/>
<line x1="1216.15" y1="194" x2="1216.15" y2="223" stroke="#ef5350" stroke-width="1.15" stroke-opacity="0.85"/>
<rect x="1214.87" y="204" width="2.56" height="2" fill="#f23645" fill-opacity="0.95"/>
<line x1="1221.02" y1="199" x2="1221.02" y2="247.5" stroke="#ef5350" stroke-width="1.15" stroke-opacity="0.85"/>
<rect x="1219.74" y="206" width="2.56" height="37" fill="#f23645" fill-opacity="0.95"/>
<line x1="1225.88" y1="221.5" x2="1225.88" y2="265.5" stroke="#26a69a" stroke-width="1.15" stroke-opacity="0.85"/>
<rect x="1224.6" y="241" width="2.56" height="1.5" fill="#1fa15f" fill-opacity="0.95"/>
<line x1="1230.75" y1="211.5" x2="1230.75" y2="247" stroke="#26a69a" stroke-width="1.15" stroke-opacity="0.85"/>
<rect x="1229.47" y="212" width="2.56" height="29" fill="#1fa15f" fill-opacity="0.95"/>
<line x1="1235.61" y1="170" x2="1235.61" y2="240" stroke="#ef5350" stroke-width="1.15" stroke-opacity="0.85"/>
<rect x="1234.33" y="212" width="2.56" height="12" fill="#f23645" fill-opacity="0.95"/>
<line x1="1240.48" y1="212.5" x2="1240.48" y2="247.5" stroke="#ef5350" stroke-width="1.15" stroke-opacity="0.85"/>
<rect x="1239.2" y="223" width="2.56" height="6" fill="#f23645" fill-opacity="0.95"/>
<line x1="1245.35" y1="227.5" x2="1245.35" y2="254" stroke="#ef5350" stroke-width="1.15" stroke-opacity="0.85"/>
<rect x="1244.07" y="228" width="2.56" height="10.5" fill="#f23645" fill-opacity="0.95"/>
<line x1="189" y1="94" x2="1143" y2="400" stroke="#2962ff" stroke-width="2.65" stroke-linecap="round"/>
<path d="M1071.5 306 L1095.6 378 L1086.5 306 Z" fill="#5f626e" fill-opacity="0.92" stroke="#f5dc2e" stroke-width="1"/>
<rect x="1041" y="275.5" width="77" height="31" rx="5.5" ry="5.5" fill="#5f626e" fill-opacity="0.92" stroke="#f5dc2e" stroke-width="1.2"/>
<path d="M1072.3 307.2 L1086.2 307.2 L1086.3 305.9 L1071.9 305.9 Z" fill="#646772"/>
<text x="1079.8" y="296.2" text-anchor="middle" font-size="14.2" font-weight="bold" font-style="italic" fill="#fde53a" textLength="60" lengthAdjust="spacingAndGlyphs">Breakout</text>
</g>
<circle cx="1245.6" cy="512.6" r="8.45" fill="#ffffff" stroke="#9c27b0" stroke-width="1.35"/>
<path transform="translate(1245.6 512.6) scale(1.15) translate(-1245.6 -512.6)" d="M1247.6 508.3 L1242.4 513.4 L1245.3 513.4 L1243.8 517 L1248.9 511.9 L1246 511.9 Z" fill="#9c27b0"/>
<line x1="9" y1="524.2" x2="1591" y2="524.2" stroke="#3f434e" stroke-width="1"/>
<line x1="9" y1="608" x2="1591" y2="608" stroke="#a9a9a9" stroke-width="1.6"/>
<rect x="9" y="549.4" width="1526" height="40.89999999999998" fill="#7e57c2" fill-opacity="0.11"/>
<line x1="9" y1="549.4" x2="1535" y2="549.4" stroke="#5d606b" stroke-width="1" stroke-dasharray="4.3 5.28" stroke-dashoffset="-0.7"/>
<line x1="9" y1="569.3" x2="1535" y2="569.3" stroke="#b0b3bc" stroke-width="1" stroke-dasharray="4.3 5.28" stroke-dashoffset="-0.7"/>
<line x1="9" y1="590.3" x2="1535" y2="590.3" stroke="#5d606b" stroke-width="1" stroke-dasharray="4.3 5.28" stroke-dashoffset="-0.7"/>
<path d="M9 549.4 L9 589.5 L13.75 587 L18.75 590 L23.75 576.25 L28.75 571.25 L33.75 571.75 L38.75 578 L43 577.5 L48 567.5 L52.5 571.75 L57.5 569.25 L62.5 573.25 L67 561.25 L72 565 L77 561.75 L82 565.5 L86.75 568.75 L91.75 567 L96.75 570.75 L101.25 563.75 L106.25 560.5 L111.25 562 L116.25 556.25 L121.25 558.75 L125.75 562.5 L130.75 560.75 L140.5 560 L145.25 563.75 L150.25 563.25 L155 562.5 L160 560.5 L165 558 L169.75 557 L174.5 555.5 L179.5 549.5 L184.25 545.75 L189.25 543.25 L194 544.25 L199 553.75 L203.75 551.25 L208.5 564.25 L213.75 570 L218.25 575.75 L223.25 571.25 L228 573.25 L233 574.5 L237.75 570.5 L242.75 568 L247.5 565 L252.5 567.5 L257.25 568.25 L262 571.25 L267 574.5 L271.75 572.5 L276.75 570.75 L281.75 574.25 L286.5 570.75 L291.5 576.75 L296.25 578 L301.25 581.75 L306.25 582.5 L310.75 579.25 L316 582.5 L320.5 576.25 L325.5 578.75 L330.5 575.5 L335.25 576.75 L340.25 576.25 L345 572 L350 573.75 L354.75 575 L359.75 576.75 L364.5 580 L369.5 574.25 L374.25 573 L379.25 576.25 L384 579.5 L388.75 577.5 L393.75 573.75 L398.75 563.75 L403.25 565.5 L408 566.75 L413 569.25 L418 574.5 L423 567 L428 568 L432.75 567.5 L437.5 580 L442.5 579.5 L447 588.75 L452 589.5 L457.25 596.25 L461.75 599.25 L466.75 599.25 L471.5 597.5 L476.5 597 L481.5 599.5 L486.25 600 L491.25 599.25 L496 596.25 L500.75 597 L505.75 595 L510.5 588.75 L515.5 580 L520.25 577 L525.25 573.75 L530 577 L535 575.75 L539.75 580 L544.75 576.75 L549.5 583.75 L554.5 578.75 L559.25 574.5 L564 571.25 L569 570.75 L574 568.75 L578.75 570.75 L583.75 574.5 L588.5 577 L593.5 574.5 L598.25 570.5 L603.25 573.75 L608 571.75 L613 568.75 L617.75 570.5 L622.5 547.5 L627.5 560 L632.5 560.5 L637.25 565 L642 566.25 L647 567 L651.75 562.5 L656.5 565.5 L661.5 567 L666.25 568 L671.25 565.5 L676 570 L681 570.75 L685.75 569.5 L690.75 568.75 L695.5 567.5 L700.5 566.75 L705.25 565.5 L710.25 570 L715 568.75 L720 573.25 L725 577 L729.5 576.75 L734.5 576.25 L739.25 576.75 L744.25 578 L749 572.5 L754 570.5 L758.75 573.25 L763.75 575 L768.5 576.25 L773.5 578 L778.25 577 L783.25 581.25 L788 586.25 L793 594.25 L797.75 586.25 L802.25 583.75 L807 582 L812 585.75 L816.75 587 L821.75 579.5 L826.5 580.5 L831.5 583 L836.25 582.5 L841.25 579.5 L846 575.75 L851 573 L855.75 577.5 L860.5 583 L865.5 583.25 L870.25 581.75 L875.25 582 L880 581.75 L885 580 L894.75 580 L899.5 583.25 L904.5 584.5 L909.25 587.5 L914.25 591.75 L919 587 L924 582 L928.75 579.25 L938.5 580 L943.25 583 L948.25 575.75 L953 572.5 L958 576.25 L962.75 581.75 L967.75 581.25 L972.5 580.5 L977.5 583.25 L982.25 578.75 L987.25 579.25 L992 579.5 L996.75 573.75 L1001.75 573 L1006.5 564.5 L1011.5 555 L1016.25 563 L1021.25 561.25 L1026 564.25 L1031 563 L1035.75 559.25 L1040.75 566.25 L1045.5 568.75 L1050.5 573.25 L1055.25 575.5 L1060.25 576.75 L1065 579.25 L1069.75 579.25 L1074.75 577.5 L1079.5 577 L1084.5 571.75 L1089.25 577 L1094.25 580.5 L1099 575 L1104 568.75 L1108.75 560.75 L1113.75 556.75 L1118.5 546.75 L1123.5 549.25 L1128.25 547.5 L1133 544.37 L1137.99 543.37 L1142.58 542.37 L1147.58 540.38 L1152.37 538.38 L1157.37 550.96 L1161.96 544.97 L1166.96 539.58 L1171.95 538.38 L1176.94 539.98 L1181.54 536.38 L1186.53 532.98 L1191.33 541.97 L1195.92 540.97 L1200.91 538.38 L1205.91 535.38 L1210.9 536.38 L1215.5 537.58 L1220.49 555.56 L1225.29 554.96 L1230.28 549.36 L1235.27 552.96 L1240.07 555.96 L1245.06 559.35 L1245.06 549.4 Z" fill="url(#gob)" clip-path="url(#cob)"/>
<path d="M9 590.3 L9 589.5 L13.75 587 L18.75 590 L23.75 576.25 L28.75 571.25 L33.75 571.75 L38.75 578 L43 577.5 L48 567.5 L52.5 571.75 L57.5 569.25 L62.5 573.25 L67 561.25 L72 565 L77 561.75 L82 565.5 L86.75 568.75 L91.75 567 L96.75 570.75 L101.25 563.75 L106.25 560.5 L111.25 562 L116.25 556.25 L121.25 558.75 L125.75 562.5 L130.75 560.75 L140.5 560 L145.25 563.75 L150.25 563.25 L155 562.5 L160 560.5 L165 558 L169.75 557 L174.5 555.5 L179.5 549.5 L184.25 545.75 L189.25 543.25 L194 544.25 L199 553.75 L203.75 551.25 L208.5 564.25 L213.75 570 L218.25 575.75 L223.25 571.25 L228 573.25 L233 574.5 L237.75 570.5 L242.75 568 L247.5 565 L252.5 567.5 L257.25 568.25 L262 571.25 L267 574.5 L271.75 572.5 L276.75 570.75 L281.75 574.25 L286.5 570.75 L291.5 576.75 L296.25 578 L301.25 581.75 L306.25 582.5 L310.75 579.25 L316 582.5 L320.5 576.25 L325.5 578.75 L330.5 575.5 L335.25 576.75 L340.25 576.25 L345 572 L350 573.75 L354.75 575 L359.75 576.75 L364.5 580 L369.5 574.25 L374.25 573 L379.25 576.25 L384 579.5 L388.75 577.5 L393.75 573.75 L398.75 563.75 L403.25 565.5 L408 566.75 L413 569.25 L418 574.5 L423 567 L428 568 L432.75 567.5 L437.5 580 L442.5 579.5 L447 588.75 L452 589.5 L457.25 596.25 L461.75 599.25 L466.75 599.25 L471.5 597.5 L476.5 597 L481.5 599.5 L486.25 600 L491.25 599.25 L496 596.25 L500.75 597 L505.75 595 L510.5 588.75 L515.5 580 L520.25 577 L525.25 573.75 L530 577 L535 575.75 L539.75 580 L544.75 576.75 L549.5 583.75 L554.5 578.75 L559.25 574.5 L564 571.25 L569 570.75 L574 568.75 L578.75 570.75 L583.75 574.5 L588.5 577 L593.5 574.5 L598.25 570.5 L603.25 573.75 L608 571.75 L613 568.75 L617.75 570.5 L622.5 547.5 L627.5 560 L632.5 560.5 L637.25 565 L642 566.25 L647 567 L651.75 562.5 L656.5 565.5 L661.5 567 L666.25 568 L671.25 565.5 L676 570 L681 570.75 L685.75 569.5 L690.75 568.75 L695.5 567.5 L700.5 566.75 L705.25 565.5 L710.25 570 L715 568.75 L720 573.25 L725 577 L729.5 576.75 L734.5 576.25 L739.25 576.75 L744.25 578 L749 572.5 L754 570.5 L758.75 573.25 L763.75 575 L768.5 576.25 L773.5 578 L778.25 577 L783.25 581.25 L788 586.25 L793 594.25 L797.75 586.25 L802.25 583.75 L807 582 L812 585.75 L816.75 587 L821.75 579.5 L826.5 580.5 L831.5 583 L836.25 582.5 L841.25 579.5 L846 575.75 L851 573 L855.75 577.5 L860.5 583 L865.5 583.25 L870.25 581.75 L875.25 582 L880 581.75 L885 580 L894.75 580 L899.5 583.25 L904.5 584.5 L909.25 587.5 L914.25 591.75 L919 587 L924 582 L928.75 579.25 L938.5 580 L943.25 583 L948.25 575.75 L953 572.5 L958 576.25 L962.75 581.75 L967.75 581.25 L972.5 580.5 L977.5 583.25 L982.25 578.75 L987.25 579.25 L992 579.5 L996.75 573.75 L1001.75 573 L1006.5 564.5 L1011.5 555 L1016.25 563 L1021.25 561.25 L1026 564.25 L1031 563 L1035.75 559.25 L1040.75 566.25 L1045.5 568.75 L1050.5 573.25 L1055.25 575.5 L1060.25 576.75 L1065 579.25 L1069.75 579.25 L1074.75 577.5 L1079.5 577 L1084.5 571.75 L1089.25 577 L1094.25 580.5 L1099 575 L1104 568.75 L1108.75 560.75 L1113.75 556.75 L1118.5 546.75 L1123.5 549.25 L1128.25 547.5 L1133 544.37 L1137.99 543.37 L1142.58 542.37 L1147.58 540.38 L1152.37 538.38 L1157.37 550.96 L1161.96 544.97 L1166.96 539.58 L1171.95 538.38 L1176.94 539.98 L1181.54 536.38 L1186.53 532.98 L1191.33 541.97 L1195.92 540.97 L1200.91 538.38 L1205.91 535.38 L1210.9 536.38 L1215.5 537.58 L1220.49 555.56 L1225.29 554.96 L1230.28 549.36 L1235.27 552.96 L1240.07 555.96 L1245.06 559.35 L1245.06 590.3 Z" fill="url(#gos)" clip-path="url(#cos)"/>
<path d="M9 589.5 L13.75 587 L18.75 590 L23.75 576.25 L28.75 571.25 L33.75 571.75 L38.75 578 L43 577.5 L48 567.5 L52.5 571.75 L57.5 569.25 L62.5 573.25 L67 561.25 L72 565 L77 561.75 L82 565.5 L86.75 568.75 L91.75 567 L96.75 570.75 L101.25 563.75 L106.25 560.5 L111.25 562 L116.25 556.25 L121.25 558.75 L125.75 562.5 L130.75 560.75 L140.5 560 L145.25 563.75 L150.25 563.25 L155 562.5 L160 560.5 L165 558 L169.75 557 L174.5 555.5 L179.5 549.5 L184.25 545.75 L189.25 543.25 L194 544.25 L199 553.75 L203.75 551.25 L208.5 564.25 L213.75 570 L218.25 575.75 L223.25 571.25 L228 573.25 L233 574.5 L237.75 570.5 L242.75 568 L247.5 565 L252.5 567.5 L257.25 568.25 L262 571.25 L267 574.5 L271.75 572.5 L276.75 570.75 L281.75 574.25 L286.5 570.75 L291.5 576.75 L296.25 578 L301.25 581.75 L306.25 582.5 L310.75 579.25 L316 582.5 L320.5 576.25 L325.5 578.75 L330.5 575.5 L335.25 576.75 L340.25 576.25 L345 572 L350 573.75 L354.75 575 L359.75 576.75 L364.5 580 L369.5 574.25 L374.25 573 L379.25 576.25 L384 579.5 L388.75 577.5 L393.75 573.75 L398.75 563.75 L403.25 565.5 L408 566.75 L413 569.25 L418 574.5 L423 567 L428 568 L432.75 567.5 L437.5 580 L442.5 579.5 L447 588.75 L452 589.5 L457.25 596.25 L461.75 599.25 L466.75 599.25 L471.5 597.5 L476.5 597 L481.5 599.5 L486.25 600 L491.25 599.25 L496 596.25 L500.75 597 L505.75 595 L510.5 588.75 L515.5 580 L520.25 577 L525.25 573.75 L530 577 L535 575.75 L539.75 580 L544.75 576.75 L549.5 583.75 L554.5 578.75 L559.25 574.5 L564 571.25 L569 570.75 L574 568.75 L578.75 570.75 L583.75 574.5 L588.5 577 L593.5 574.5 L598.25 570.5 L603.25 573.75 L608 571.75 L613 568.75 L617.75 570.5 L622.5 547.5 L627.5 560 L632.5 560.5 L637.25 565 L642 566.25 L647 567 L651.75 562.5 L656.5 565.5 L661.5 567 L666.25 568 L671.25 565.5 L676 570 L681 570.75 L685.75 569.5 L690.75 568.75 L695.5 567.5 L700.5 566.75 L705.25 565.5 L710.25 570 L715 568.75 L720 573.25 L725 577 L729.5 576.75 L734.5 576.25 L739.25 576.75 L744.25 578 L749 572.5 L754 570.5 L758.75 573.25 L763.75 575 L768.5 576.25 L773.5 578 L778.25 577 L783.25 581.25 L788 586.25 L793 594.25 L797.75 586.25 L802.25 583.75 L807 582 L812 585.75 L816.75 587 L821.75 579.5 L826.5 580.5 L831.5 583 L836.25 582.5 L841.25 579.5 L846 575.75 L851 573 L855.75 577.5 L860.5 583 L865.5 583.25 L870.25 581.75 L875.25 582 L880 581.75 L885 580 L894.75 580 L899.5 583.25 L904.5 584.5 L909.25 587.5 L914.25 591.75 L919 587 L924 582 L928.75 579.25 L938.5 580 L943.25 583 L948.25 575.75 L953 572.5 L958 576.25 L962.75 581.75 L967.75 581.25 L972.5 580.5 L977.5 583.25 L982.25 578.75 L987.25 579.25 L992 579.5 L996.75 573.75 L1001.75 573 L1006.5 564.5 L1011.5 555 L1016.25 563 L1021.25 561.25 L1026 564.25 L1031 563 L1035.75 559.25 L1040.75 566.25 L1045.5 568.75 L1050.5 573.25 L1055.25 575.5 L1060.25 576.75 L1065 579.25 L1069.75 579.25 L1074.75 577.5 L1079.5 577 L1084.5 571.75 L1089.25 577 L1094.25 580.5 L1099 575 L1104 568.75 L1108.75 560.75 L1113.75 556.75 L1118.5 546.75 L1123.5 549.25 L1128.25 547.5 L1133 544.37 L1137.99 543.37 L1142.58 542.37 L1147.58 540.38 L1152.37 538.38 L1157.37 550.96 L1161.96 544.97 L1166.96 539.58 L1171.95 538.38 L1176.94 539.98 L1181.54 536.38 L1186.53 532.98 L1191.33 541.97 L1195.92 540.97 L1200.91 538.38 L1205.91 535.38 L1210.9 536.38 L1215.5 537.58 L1220.49 555.56 L1225.29 554.96 L1230.28 549.36 L1235.27 552.96 L1240.07 555.96 L1245.06 559.35" fill="none" stroke="#7e57c2" stroke-width="1.0" stroke-linejoin="round"/>
<path d="M9 580 L10.21 580.17 L11.78 580.42 L13.65 580.72 L15.75 581.05 L18 581.36 L20.34 581.65 L22.7 581.87 L25 582 L26.85 582.05 L28.78 582.06 L30.78 582.05 L32.83 582.01 L34.91 581.94 L36.99 581.84 L39.06 581.73 L41.1 581.59 L43.08 581.43 L45 581.25 L47.08 581.02 L49.15 580.76 L51.2 580.47 L53.22 580.15 L55.2 579.81 L57.13 579.44 L59 579.06 L60.79 578.66 L62.5 578.25 L64.55 577.68 L66.44 577.05 L68.21 576.39 L69.91 575.7 L71.57 575.02 L73.26 574.37 L75 573.75 L76.79 573.16 L78.57 572.57 L80.36 572 L82.14 571.45 L83.93 570.92 L85.71 570.44 L87.5 570 L89.29 569.62 L91.07 569.31 L92.86 569.03 L94.64 568.78 L96.43 568.54 L98.21 568.28 L100 568 L101.74 567.69 L103.43 567.38 L105.09 567.07 L106.79 566.74 L108.56 566.42 L110.45 566.09 L112.5 565.75 L114.21 565.47 L116 565.17 L117.87 564.85 L119.8 564.53 L121.78 564.22 L123.8 563.93 L125.85 563.66 L127.92 563.43 L130 563.25 L131.9 563.14 L133.84 563.09 L135.82 563.08 L137.82 563.1 L139.84 563.12 L141.88 563.15 L143.92 563.17 L145.96 563.16 L147.99 563.11 L150 563 L152.02 562.84 L154.08 562.63 L156.16 562.39 L158.24 562.13 L160.31 561.84 L162.36 561.55 L164.37 561.27 L166.32 560.99 L168.2 560.73 L170 560.5 L172.15 560.25 L174.22 560.02 L176.21 559.8 L178.12 559.59 L179.96 559.39 L181.72 559.19 L183.4 558.98 L185 558.75 L187.28 558.36 L189.24 557.96 L191.06 557.54 L192.92 557.14 L195 556.75 L196.65 556.46 L198.39 556.14 L200.18 555.83 L202.01 555.53 L203.86 555.27 L205.69 555.09 L207.5 555 L209.26 555.01 L211 555.09 L212.73 555.23 L214.47 555.43 L216.25 555.68 L218.08 555.95 L220 556.25 L221.76 556.54 L223.57 556.87 L225.44 557.24 L227.34 557.62 L229.27 558.03 L231.19 558.44 L233.11 558.85 L235 559.25 L236.89 559.64 L238.81 560.02 L240.73 560.4 L242.66 560.78 L244.56 561.18 L246.43 561.59 L248.24 562.03 L250 562.5 L251.92 563.09 L253.75 563.72 L255.53 564.39 L257.27 565.08 L259 565.75 L260.74 566.4 L262.5 567 L264.22 567.57 L265.85 568.14 L267.46 568.69 L269.12 569.21 L270.88 569.69 L272.82 570.13 L275 570.5 L276.71 570.71 L278.56 570.87 L280.53 570.99 L282.58 571.09 L284.69 571.17 L286.82 571.25 L288.95 571.34 L291.04 571.44 L293.07 571.57 L295 571.75 L297.05 572 L299.06 572.28 L301.02 572.59 L302.95 572.92 L304.86 573.26 L306.76 573.6 L308.66 573.93 L310.57 574.23 L312.5 574.5 L314.43 574.74 L316.34 574.98 L318.24 575.19 L320.14 575.4 L322.05 575.6 L323.98 575.78 L325.94 575.95 L327.95 576.1 L330 576.25 L331.92 576.37 L333.92 576.47 L335.97 576.56 L338.06 576.63 L340.16 576.7 L342.24 576.77 L344.29 576.82 L346.28 576.88 L348.19 576.94 L350 577 L352.11 577.09 L354.1 577.18 L355.99 577.28 L357.81 577.38 L359.59 577.45 L361.37 577.5 L363.16 577.52 L365 577.5 L366.89 577.42 L368.81 577.29 L370.73 577.13 L372.66 576.94 L374.56 576.74 L376.43 576.55 L378.24 576.38 L380 576.25 L381.96 576.15 L383.9 576.07 L385.79 576.02 L387.62 575.98 L389.37 575.93 L391 575.85 L392.5 575.75 L394.61 575.49 L396.25 575.17 L397.89 574.83 L400 574.5 L401.52 574.32 L403.21 574.13 L405.01 573.94 L406.88 573.75 L408.78 573.57 L410.67 573.4 L412.5 573.25 L414.31 573.12 L416.14 573 L417.99 572.89 L419.82 572.8 L421.61 572.7 L423.35 572.6 L425 572.5 L427.16 572.33 L429.18 572.13 L431.12 571.94 L433.04 571.8 L435 571.75 L437 571.78 L439 571.86 L441 572 L443 572.21 L445 572.5 L447 572.86 L449 573.29 L451 573.79 L453 574.36 L455 575 L457 575.73 L459 576.56 L461 577.45 L463 578.36 L465 579.25 L467 580.14 L469 581.04 L471 581.96 L473 582.86 L475 583.75 L477 584.61 L479 585.46 L481 586.29 L483 587.14 L485 588 L487.04 588.92 L489.12 589.88 L491.18 590.83 L493.16 591.72 L495 592.5 L497.05 593.29 L498.91 593.95 L500.68 594.51 L502.5 595 L504.38 595.46 L506.25 595.86 L508.12 596.14 L510 596.25 L511.82 596.15 L513.59 595.89 L515.45 595.49 L517.5 595 L519.34 594.52 L521.32 593.94 L523.38 593.3 L525.46 592.64 L527.5 592 L529.46 591.36 L531.38 590.71 L533.32 590.04 L535.34 589.39 L537.5 588.75 L539.15 588.32 L540.89 587.92 L542.68 587.53 L544.51 587.13 L546.36 586.71 L548.19 586.26 L550 585.75 L551.79 585.19 L553.57 584.57 L555.36 583.93 L557.14 583.26 L558.93 582.58 L560.71 581.91 L562.5 581.25 L564.31 580.59 L566.14 579.9 L567.99 579.2 L569.82 578.52 L571.61 577.87 L573.35 577.27 L575 576.75 L577.08 576.13 L578.94 575.62 L580.76 575.18 L582.72 574.82 L585 574.5 L586.64 574.34 L588.4 574.22 L590.26 574.13 L592.19 574.06 L594.16 574 L596.13 573.94 L598.09 573.86 L600 573.75 L601.91 573.63 L603.87 573.51 L605.84 573.39 L607.81 573.27 L609.74 573.12 L611.6 572.95 L613.36 572.74 L615 572.5 L617.28 571.99 L619.24 571.35 L621.06 570.68 L622.92 570.03 L625 569.5 L626.65 569.2 L628.39 568.95 L630.18 568.73 L632.01 568.53 L633.86 568.35 L635.69 568.17 L637.5 568 L639.29 567.84 L641.07 567.69 L642.86 567.56 L644.64 567.44 L646.43 567.31 L648.21 567.16 L650 567 L651.81 566.81 L653.64 566.59 L655.49 566.37 L657.32 566.13 L659.11 565.91 L660.85 565.69 L662.5 565.5 L664.62 565.25 L666.56 565.02 L668.44 564.8 L670.38 564.63 L672.5 564.5 L674.18 564.43 L675.96 564.38 L677.81 564.34 L679.69 564.33 L681.54 564.34 L683.32 564.4 L685 564.5 L687.12 564.75 L689.06 565.12 L690.94 565.54 L692.88 565.94 L695 566.25 L696.65 566.41 L698.39 566.52 L700.18 566.62 L702.01 566.7 L703.86 566.78 L705.69 566.88 L707.5 567 L709.29 567.15 L711.07 567.31 L712.86 567.47 L714.64 567.65 L716.43 567.84 L718.21 568.04 L720 568.25 L721.79 568.47 L723.57 568.71 L725.36 568.97 L727.14 569.22 L728.93 569.49 L730.71 569.75 L732.5 570 L734.31 570.26 L736.14 570.53 L737.99 570.8 L739.82 571.07 L741.61 571.32 L743.35 571.55 L745 571.75 L747.12 571.95 L749.06 572.07 L750.94 572.18 L752.88 572.3 L755 572.5 L756.65 572.7 L758.39 572.93 L760.18 573.19 L762.01 573.47 L763.86 573.74 L765.69 574 L767.5 574.25 L769.31 574.47 L771.14 574.67 L772.99 574.87 L774.82 575.07 L776.61 575.27 L778.35 575.5 L780 575.75 L782.16 576.16 L784.18 576.61 L786.12 577.08 L788.04 577.55 L790 578 L791.92 578.43 L793.76 578.85 L795.64 579.27 L797.68 579.65 L800 580 L801.64 580.19 L803.4 580.35 L805.26 580.5 L807.19 580.64 L809.16 580.78 L811.13 580.92 L813.09 581.07 L815 581.25 L816.88 581.46 L818.75 581.69 L820.62 581.94 L822.5 582.19 L824.38 582.43 L826.25 582.66 L828.12 582.85 L830 583 L831.88 583.11 L833.75 583.2 L835.62 583.27 L837.5 583.31 L839.38 583.33 L841.25 583.33 L843.12 583.3 L845 583.25 L846.88 583.16 L848.75 583.03 L850.62 582.87 L852.5 582.69 L854.38 582.5 L856.25 582.31 L858.12 582.14 L860 582 L861.88 581.88 L863.75 581.78 L865.62 581.68 L867.5 581.59 L869.38 581.51 L871.25 581.43 L873.12 581.34 L875 581.25 L876.88 581.15 L878.75 581.04 L880.62 580.92 L882.5 580.81 L884.38 580.71 L886.25 580.62 L888.12 580.55 L890 580.5 L891.88 580.47 L893.75 580.45 L895.62 580.43 L897.5 580.44 L899.38 580.47 L901.25 580.52 L903.12 580.62 L905 580.75 L906.88 580.95 L908.75 581.22 L910.62 581.55 L912.5 581.89 L914.38 582.23 L916.25 582.55 L918.12 582.81 L920 583 L921.88 583.11 L923.75 583.18 L925.62 583.21 L927.5 583.2 L929.38 583.17 L931.25 583.12 L933.12 583.06 L935 583 L936.88 582.92 L938.75 582.81 L940.62 582.69 L942.5 582.55 L944.38 582.4 L946.25 582.26 L948.12 582.12 L950 582 L951.88 581.89 L953.75 581.79 L955.62 581.7 L957.5 581.61 L959.38 581.52 L961.25 581.43 L963.12 581.34 L965 581.25 L966.88 581.16 L968.75 581.07 L970.62 580.99 L972.5 580.91 L974.38 580.82 L976.25 580.72 L978.12 580.62 L980 580.5 L981.89 580.37 L983.81 580.25 L985.73 580.11 L987.66 579.97 L989.56 579.81 L991.43 579.64 L993.24 579.46 L995 579.25 L996.94 578.98 L998.83 578.69 L1000.66 578.37 L1002.45 578.03 L1004.18 577.69 L1005.87 577.34 L1007.5 577 L1009.66 576.5 L1011.68 575.97 L1013.62 575.44 L1015.54 574.94 L1017.5 574.5 L1019.5 574.16 L1021.5 573.9 L1023.5 573.66 L1025.5 573.38 L1027.5 573 L1029.5 572.49 L1031.5 571.88 L1033.5 571.24 L1035.5 570.59 L1037.5 570 L1039.5 569.44 L1041.5 568.87 L1043.5 568.33 L1045.5 567.86 L1047.5 567.5 L1049.5 567.26 L1051.5 567.11 L1053.5 567.03 L1055.5 567 L1057.5 567 L1059.5 567.02 L1061.5 567.07 L1063.5 567.16 L1065.5 567.3 L1067.5 567.5 L1069.5 567.76 L1071.5 568.07 L1073.5 568.44 L1075.5 568.83 L1077.5 569.25 L1079.5 569.71 L1081.5 570.22 L1083.5 570.75 L1085.5 571.27 L1087.5 571.75 L1089.54 572.2 L1091.62 572.65 L1093.68 573.06 L1095.66 573.44 L1097.5 573.75 L1099.55 574.06 L1101.41 574.3 L1103.18 574.45 L1105 574.5 L1106.82 574.49 L1108.59 574.41 L1110.45 574.18 L1112.5 573.75 L1114.38 573.18 L1116.44 572.43 L1118.56 571.59 L1120.62 570.75 L1122.5 570 L1124.49 569.26 L1126.25 568.61 L1128.01 567.9 L1130 566.94 L1131.84 565.92 L1133.82 564.73 L1135.87 563.45 L1137.95 562.16 L1139.99 560.95 L1141.99 559.82 L1143.98 558.71 L1145.98 557.63 L1147.98 556.58 L1149.98 555.56 L1151.97 554.59 L1153.97 553.68 L1155.97 552.79 L1157.97 551.89 L1159.96 550.96 L1161.96 549.96 L1163.96 548.9 L1165.96 547.84 L1167.95 546.85 L1169.95 545.97 L1171.95 545.22 L1173.95 544.56 L1175.94 543.97 L1177.94 543.45 L1179.94 542.97 L1181.94 542.55 L1183.94 542.2 L1185.93 541.9 L1187.93 541.63 L1189.93 541.37 L1191.93 541.13 L1193.92 540.92 L1195.92 540.73 L1197.92 540.55 L1199.92 540.38 L1201.98 540.19 L1204.1 540.01 L1206.2 539.84 L1208.16 539.69 L1209.9 539.58 L1212.12 539.42 L1213.9 539.33 L1215.9 539.38 L1217.75 539.55 L1219.77 539.81 L1221.84 540.11 L1223.89 540.38 L1225.93 540.58 L1228.01 540.75 L1230.02 540.94 L1231.88 541.17 L1233.98 541.56 L1235.86 542.01 L1237.87 542.57 L1239.75 543.16 L1241.84 543.86 L1243.74 544.52 L1245.06 544.97" fill="none" stroke="#3f424c" stroke-width="1.05" stroke-linejoin="round"/>
<line x1="9" y1="653.1" x2="1535" y2="653.1" stroke="#9a9da6" stroke-width="1" stroke-dasharray="4.3 5.28" stroke-dashoffset="-0.7"/>
<g clip-path="url(#cmacd)">
<rect x="7.48" y="653.1" width="3.8" height="6.97" fill="#ff5252"/>
<rect x="12.35" y="653.1" width="3.8" height="6.61" fill="#ffcdd2"/>
<rect x="17.21" y="653.1" width="3.8" height="6.35" fill="#ffcdd2"/>
<rect x="22.08" y="653.1" width="3.8" height="3.79" fill="#ffcdd2"/>
<rect x="26.95" y="653.1" width="3.8" height="1.35" fill="#ffcdd2"/>
<rect x="31.81" y="652.64" width="3.8" height="0.46" fill="#26a69a"/>
<rect x="36.68" y="652.72" width="3.8" height="0.38" fill="#b2dfdb"/>
<rect x="41.54" y="652.69" width="3.8" height="0.41" fill="#26a69a"/>
<rect x="46.41" y="650.59" width="3.8" height="2.51" fill="#26a69a"/>
<rect x="51.28" y="650.35" width="3.8" height="2.75" fill="#26a69a"/>
<rect x="56.14" y="650.46" width="3.8" height="2.64" fill="#b2dfdb"/>
<rect x="61.01" y="651.11" width="3.8" height="1.99" fill="#b2dfdb"/>
<rect x="65.87" y="648.3" width="3.8" height="4.8" fill="#26a69a"/>
<rect x="70.74" y="647.32" width="3.8" height="5.78" fill="#26a69a"/>
<rect x="75.61" y="646.35" width="3.8" height="6.75" fill="#26a69a"/>
<rect x="80.47" y="647.45" width="3.8" height="5.65" fill="#b2dfdb"/>
<rect x="85.34" y="648.54" width="3.8" height="4.56" fill="#b2dfdb"/>
<rect x="90.2" y="649.34" width="3.8" height="3.76" fill="#b2dfdb"/>
<rect x="95.07" y="650.12" width="3.8" height="2.98" fill="#b2dfdb"/>
<rect x="99.94" y="649.2" width="3.8" height="3.9" fill="#26a69a"/>
<rect x="104.8" y="648.3" width="3.8" height="4.8" fill="#26a69a"/>
<rect x="109.67" y="646.57" width="3.8" height="6.53" fill="#26a69a"/>
<rect x="114.53" y="645.13" width="3.8" height="7.97" fill="#26a69a"/>
<rect x="119.4" y="645.34" width="3.8" height="7.76" fill="#b2dfdb"/>
<rect x="124.27" y="646.62" width="3.8" height="6.48" fill="#b2dfdb"/>
<rect x="129.13" y="647.54" width="3.8" height="5.56" fill="#b2dfdb"/>
<rect x="134" y="648.2" width="3.8" height="4.9" fill="#b2dfdb"/>
<rect x="138.86" y="648.76" width="3.8" height="4.34" fill="#b2dfdb"/>
<rect x="143.73" y="650.39" width="3.8" height="2.71" fill="#b2dfdb"/>
<rect x="148.6" y="651.87" width="3.8" height="1.23" fill="#b2dfdb"/>
<rect x="153.46" y="652.06" width="3.8" height="1.04" fill="#b2dfdb"/>
<rect x="158.33" y="652.23" width="3.8" height="0.87" fill="#b2dfdb"/>
<rect x="163.19" y="651.97" width="3.8" height="1.13" fill="#26a69a"/>
<rect x="168.06" y="651.85" width="3.8" height="1.25" fill="#26a69a"/>
<rect x="172.93" y="651.37" width="3.8" height="1.73" fill="#26a69a"/>
<rect x="177.79" y="649.71" width="3.8" height="3.39" fill="#26a69a"/>
<rect x="182.66" y="647.55" width="3.8" height="5.55" fill="#26a69a"/>
<rect x="187.52" y="645.88" width="3.8" height="7.22" fill="#26a69a"/>
<rect x="192.39" y="646.09" width="3.8" height="7.01" fill="#b2dfdb"/>
<rect x="197.26" y="647.56" width="3.8" height="5.54" fill="#b2dfdb"/>
<rect x="202.12" y="649.31" width="3.8" height="3.79" fill="#b2dfdb"/>
<rect x="206.99" y="652.26" width="3.8" height="0.84" fill="#b2dfdb"/>
<rect x="211.85" y="653.1" width="3.8" height="3.21" fill="#ff5252"/>
<rect x="216.72" y="653.1" width="3.8" height="5.78" fill="#ff5252"/>
<rect x="221.59" y="653.1" width="3.8" height="6.53" fill="#ff5252"/>
<rect x="226.45" y="653.1" width="3.8" height="7.51" fill="#ff5252"/>
<rect x="231.32" y="653.1" width="3.8" height="8.31" fill="#ff5252"/>
<rect x="236.18" y="653.1" width="3.8" height="7.36" fill="#ffcdd2"/>
<rect x="241.05" y="653.1" width="3.8" height="6.19" fill="#ffcdd2"/>
<rect x="245.92" y="653.1" width="3.8" height="5.06" fill="#ffcdd2"/>
<rect x="250.78" y="653.1" width="3.8" height="4.56" fill="#ffcdd2"/>
<rect x="255.65" y="653.1" width="3.8" height="4.1" fill="#ffcdd2"/>
<rect x="260.51" y="653.1" width="3.8" height="4.49" fill="#ff5252"/>
<rect x="265.38" y="653.1" width="3.8" height="5.07" fill="#ff5252"/>
<rect x="270.25" y="653.1" width="3.8" height="4.84" fill="#ffcdd2"/>
<rect x="275.11" y="653.1" width="3.8" height="4.62" fill="#ffcdd2"/>
<rect x="279.98" y="653.1" width="3.8" height="4.23" fill="#ffcdd2"/>
<rect x="284.84" y="653.1" width="3.8" height="3.81" fill="#ffcdd2"/>
<rect x="289.71" y="653.1" width="3.8" height="4.74" fill="#ff5252"/>
<rect x="294.58" y="653.1" width="3.8" height="5.62" fill="#ff5252"/>
<rect x="299.44" y="653.1" width="3.8" height="6.37" fill="#ff5252"/>
<rect x="304.31" y="653.1" width="3.8" height="5.97" fill="#ffcdd2"/>
<rect x="309.17" y="653.1" width="3.8" height="5.57" fill="#ffcdd2"/>
<rect x="314.04" y="653.1" width="3.8" height="5.34" fill="#ffcdd2"/>
<rect x="318.91" y="653.1" width="3.8" height="4.48" fill="#ffcdd2"/>
<rect x="323.77" y="653.1" width="3.8" height="3.61" fill="#ffcdd2"/>
<rect x="328.64" y="653.1" width="3.8" height="2.56" fill="#ffcdd2"/>
<rect x="333.5" y="653.1" width="3.8" height="1.49" fill="#ffcdd2"/>
<rect x="338.37" y="653.1" width="3.8" height="0.59" fill="#ffcdd2"/>
<rect x="343.24" y="653.1" width="3.8" height="0.35" fill="#26a69a"/>
<rect x="348.1" y="652.93" width="3.8" height="0.35" fill="#26a69a"/>
<rect x="352.97" y="652.87" width="3.8" height="0.35" fill="#26a69a"/>
<rect x="357.83" y="652.8" width="3.8" height="0.35" fill="#26a69a"/>
<rect x="362.7" y="652.89" width="3.8" height="0.35" fill="#b2dfdb"/>
<rect x="367.57" y="652.79" width="3.8" height="0.35" fill="#26a69a"/>
<rect x="372.43" y="652.4" width="3.8" height="0.7" fill="#26a69a"/>
<rect x="377.3" y="652.43" width="3.8" height="0.67" fill="#b2dfdb"/>
<rect x="382.16" y="652.53" width="3.8" height="0.57" fill="#b2dfdb"/>
<rect x="387.03" y="652.27" width="3.8" height="0.83" fill="#26a69a"/>
<rect x="391.9" y="651.13" width="3.8" height="1.97" fill="#26a69a"/>
<rect x="396.76" y="650.3" width="3.8" height="2.8" fill="#26a69a"/>
<rect x="401.63" y="650.22" width="3.8" height="2.88" fill="#26a69a"/>
<rect x="406.49" y="650.48" width="3.8" height="2.62" fill="#b2dfdb"/>
<rect x="411.36" y="651.08" width="3.8" height="2.02" fill="#b2dfdb"/>
<rect x="416.23" y="651.28" width="3.8" height="1.82" fill="#b2dfdb"/>
<rect x="421.09" y="651.35" width="3.8" height="1.75" fill="#b2dfdb"/>
<rect x="425.96" y="651.37" width="3.8" height="1.73" fill="#b2dfdb"/>
<rect x="430.82" y="652" width="3.8" height="1.1" fill="#b2dfdb"/>
<rect x="435.69" y="652.13" width="3.8" height="0.97" fill="#b2dfdb"/>
<rect x="440.56" y="653.1" width="3.8" height="0.82" fill="#ff5252"/>
<rect x="445.42" y="653.1" width="3.8" height="3.08" fill="#ff5252"/>
<rect x="450.29" y="653.1" width="3.8" height="5.87" fill="#ff5252"/>
<rect x="455.15" y="653.1" width="3.8" height="9.38" fill="#ff5252"/>
<rect x="460.02" y="653.1" width="3.8" height="11.86" fill="#ff5252"/>
<rect x="464.89" y="653.1" width="3.8" height="13.37" fill="#ff5252"/>
<rect x="469.75" y="653.1" width="3.8" height="13.35" fill="#ffcdd2"/>
<rect x="474.62" y="653.1" width="3.8" height="13.1" fill="#ffcdd2"/>
<rect x="479.48" y="653.1" width="3.8" height="12.42" fill="#ffcdd2"/>
<rect x="484.35" y="653.1" width="3.8" height="11.54" fill="#ffcdd2"/>
<rect x="489.22" y="653.1" width="3.8" height="10.09" fill="#ffcdd2"/>
<rect x="494.08" y="653.1" width="3.8" height="8.33" fill="#ffcdd2"/>
<rect x="498.95" y="653.1" width="3.8" height="6.26" fill="#ffcdd2"/>
<rect x="503.81" y="653.1" width="3.8" height="4.07" fill="#ffcdd2"/>
<rect x="508.68" y="653.1" width="3.8" height="2.07" fill="#ffcdd2"/>
<rect x="513.55" y="651.89" width="3.8" height="1.21" fill="#26a69a"/>
<rect x="518.41" y="649.16" width="3.8" height="3.94" fill="#26a69a"/>
<rect x="523.28" y="647.53" width="3.8" height="5.57" fill="#26a69a"/>
<rect x="528.14" y="646.49" width="3.8" height="6.61" fill="#26a69a"/>
<rect x="533.01" y="645.88" width="3.8" height="7.22" fill="#26a69a"/>
<rect x="537.88" y="645.89" width="3.8" height="7.21" fill="#b2dfdb"/>
<rect x="542.74" y="645.92" width="3.8" height="7.18" fill="#b2dfdb"/>
<rect x="547.61" y="648.3" width="3.8" height="4.8" fill="#b2dfdb"/>
<rect x="552.47" y="649.01" width="3.8" height="4.09" fill="#b2dfdb"/>
<rect x="557.34" y="648.63" width="3.8" height="4.47" fill="#26a69a"/>
<rect x="562.21" y="648.04" width="3.8" height="5.06" fill="#26a69a"/>
<rect x="567.07" y="647.51" width="3.8" height="5.59" fill="#26a69a"/>
<rect x="571.94" y="647.16" width="3.8" height="5.94" fill="#26a69a"/>
<rect x="576.8" y="647.21" width="3.8" height="5.89" fill="#b2dfdb"/>
<rect x="581.67" y="648.12" width="3.8" height="4.98" fill="#b2dfdb"/>
<rect x="586.54" y="648.86" width="3.8" height="4.24" fill="#b2dfdb"/>
<rect x="591.4" y="649" width="3.8" height="4.1" fill="#b2dfdb"/>
<rect x="596.27" y="648.84" width="3.8" height="4.26" fill="#26a69a"/>
<rect x="601.13" y="648.98" width="3.8" height="4.12" fill="#b2dfdb"/>
<rect x="606" y="649.23" width="3.8" height="3.87" fill="#b2dfdb"/>
<rect x="610.87" y="649.45" width="3.8" height="3.65" fill="#b2dfdb"/>
<rect x="615.73" y="648.88" width="3.8" height="4.22" fill="#26a69a"/>
<rect x="620.6" y="645.73" width="3.8" height="7.37" fill="#26a69a"/>
<rect x="625.46" y="644.41" width="3.8" height="8.69" fill="#26a69a"/>
<rect x="630.33" y="645.31" width="3.8" height="7.79" fill="#b2dfdb"/>
<rect x="635.2" y="646.77" width="3.8" height="6.33" fill="#b2dfdb"/>
<rect x="640.06" y="647.76" width="3.8" height="5.34" fill="#b2dfdb"/>
<rect x="644.93" y="648.62" width="3.8" height="4.48" fill="#b2dfdb"/>
<rect x="649.79" y="649.2" width="3.8" height="3.9" fill="#b2dfdb"/>
<rect x="654.66" y="650.36" width="3.8" height="2.74" fill="#b2dfdb"/>
<rect x="659.53" y="651.23" width="3.8" height="1.87" fill="#b2dfdb"/>
<rect x="664.39" y="651.91" width="3.8" height="1.19" fill="#b2dfdb"/>
<rect x="669.26" y="652.43" width="3.8" height="0.67" fill="#b2dfdb"/>
<rect x="674.12" y="652.94" width="3.8" height="0.35" fill="#b2dfdb"/>
<rect x="678.99" y="653.1" width="3.8" height="0.52" fill="#ff5252"/>
<rect x="683.86" y="653.1" width="3.8" height="0.82" fill="#ff5252"/>
<rect x="688.72" y="653.1" width="3.8" height="0.91" fill="#ff5252"/>
<rect x="693.59" y="653.1" width="3.8" height="0.99" fill="#ff5252"/>
<rect x="698.45" y="653.1" width="3.8" height="0.89" fill="#ffcdd2"/>
<rect x="703.32" y="653.1" width="3.8" height="0.8" fill="#ffcdd2"/>
<rect x="708.19" y="653.1" width="3.8" height="0.94" fill="#ff5252"/>
<rect x="713.05" y="653.1" width="3.8" height="1.31" fill="#ff5252"/>
<rect x="717.92" y="653.1" width="3.8" height="2.04" fill="#ff5252"/>
<rect x="722.78" y="653.1" width="3.8" height="2.71" fill="#ff5252"/>
<rect x="727.65" y="653.1" width="3.8" height="2.41" fill="#ffcdd2"/>
<rect x="732.52" y="653.1" width="3.8" height="2.12" fill="#ffcdd2"/>
<rect x="737.38" y="653.1" width="3.8" height="2.27" fill="#ff5252"/>
<rect x="742.25" y="653.1" width="3.8" height="2.47" fill="#ff5252"/>
<rect x="747.11" y="653.1" width="3.8" height="2.18" fill="#ffcdd2"/>
<rect x="751.98" y="653.1" width="3.8" height="1.79" fill="#ffcdd2"/>
<rect x="756.85" y="653.1" width="3.8" height="1.43" fill="#ffcdd2"/>
<rect x="761.71" y="653.1" width="3.8" height="1.13" fill="#ffcdd2"/>
<rect x="766.58" y="653.1" width="3.8" height="0.92" fill="#ffcdd2"/>
<rect x="771.44" y="653.1" width="3.8" height="1.02" fill="#ff5252"/>
<rect x="776.31" y="653.1" width="3.8" height="1.11" fill="#ff5252"/>
<rect x="781.18" y="653.1" width="3.8" height="1.72" fill="#ff5252"/>
<rect x="786.04" y="653.1" width="3.8" height="2.27" fill="#ff5252"/>
<rect x="790.91" y="653.1" width="3.8" height="3.85" fill="#ff5252"/>
<rect x="795.77" y="653.1" width="3.8" height="4.81" fill="#ff5252"/>
<rect x="800.64" y="653.1" width="3.8" height="4.66" fill="#ffcdd2"/>
<rect x="805.51" y="653.1" width="3.8" height="4.01" fill="#ffcdd2"/>
<rect x="810.37" y="653.1" width="3.8" height="2.93" fill="#ffcdd2"/>
<rect x="815.24" y="653.1" width="3.8" height="2.76" fill="#ffcdd2"/>
<rect x="820.1" y="653.1" width="3.8" height="1.96" fill="#ffcdd2"/>
<rect x="824.97" y="653.1" width="3.8" height="1.22" fill="#ffcdd2"/>
<rect x="829.84" y="653.1" width="3.8" height="0.81" fill="#ffcdd2"/>
<rect x="834.7" y="653.1" width="3.8" height="0.42" fill="#ffcdd2"/>
<rect x="839.57" y="653.1" width="3.8" height="0.35" fill="#ffcdd2"/>
<rect x="844.43" y="652.65" width="3.8" height="0.45" fill="#26a69a"/>
<rect x="849.3" y="652.2" width="3.8" height="0.9" fill="#26a69a"/>
<rect x="854.17" y="652.59" width="3.8" height="0.51" fill="#b2dfdb"/>
<rect x="859.03" y="652.97" width="3.8" height="0.35" fill="#b2dfdb"/>
<rect x="863.9" y="653.1" width="3.8" height="0.35" fill="#ff5252"/>
<rect x="868.76" y="653.1" width="3.8" height="0.35" fill="#ff5252"/>
<rect x="873.63" y="653.1" width="3.8" height="0.35" fill="#ff5252"/>
<rect x="878.5" y="653.1" width="3.8" height="0.35" fill="#ffcdd2"/>
<rect x="883.36" y="652.94" width="3.8" height="0.35" fill="#26a69a"/>
<rect x="888.23" y="652.8" width="3.8" height="0.35" fill="#26a69a"/>
<rect x="893.09" y="652.7" width="3.8" height="0.4" fill="#26a69a"/>
<rect x="897.96" y="652.6" width="3.8" height="0.5" fill="#26a69a"/>
<rect x="902.83" y="652.88" width="3.8" height="0.35" fill="#b2dfdb"/>
<rect x="907.69" y="653.1" width="3.8" height="0.35" fill="#ff5252"/>
<rect x="912.56" y="653.1" width="3.8" height="0.35" fill="#ff5252"/>
<rect x="917.42" y="653.1" width="3.8" height="0.35" fill="#ff5252"/>
<rect x="922.29" y="653.1" width="3.8" height="0.35" fill="#ff5252"/>
<rect x="927.16" y="653.1" width="3.8" height="0.35" fill="#ffcdd2"/>
<rect x="932.02" y="652.99" width="3.8" height="0.35" fill="#26a69a"/>
<rect x="936.89" y="652.75" width="3.8" height="0.35" fill="#26a69a"/>
<rect x="941.75" y="652.36" width="3.8" height="0.74" fill="#26a69a"/>
<rect x="946.62" y="651.97" width="3.8" height="1.13" fill="#26a69a"/>
<rect x="951.49" y="651.8" width="3.8" height="1.3" fill="#26a69a"/>
<rect x="956.35" y="651.73" width="3.8" height="1.37" fill="#26a69a"/>
<rect x="961.22" y="651.93" width="3.8" height="1.17" fill="#b2dfdb"/>
<rect x="966.08" y="652.2" width="3.8" height="0.9" fill="#b2dfdb"/>
<rect x="970.95" y="652.48" width="3.8" height="0.62" fill="#b2dfdb"/>
<rect x="975.82" y="652.55" width="3.8" height="0.55" fill="#b2dfdb"/>
<rect x="980.68" y="652.45" width="3.8" height="0.65" fill="#26a69a"/>
<rect x="985.55" y="652.35" width="3.8" height="0.75" fill="#26a69a"/>
<rect x="990.41" y="652.16" width="3.8" height="0.94" fill="#26a69a"/>
<rect x="995.28" y="651.96" width="3.8" height="1.14" fill="#26a69a"/>
<rect x="1000.15" y="651.8" width="3.8" height="1.3" fill="#26a69a"/>
<rect x="1005.01" y="651.67" width="3.8" height="1.43" fill="#26a69a"/>
<rect x="1009.88" y="650.82" width="3.8" height="2.28" fill="#26a69a"/>
<rect x="1014.74" y="650.31" width="3.8" height="2.79" fill="#26a69a"/>
<rect x="1019.61" y="650.48" width="3.8" height="2.62" fill="#b2dfdb"/>
<rect x="1024.48" y="650.55" width="3.8" height="2.55" fill="#b2dfdb"/>
<rect x="1029.34" y="650.38" width="3.8" height="2.72" fill="#26a69a"/>
<rect x="1034.21" y="650.46" width="3.8" height="2.64" fill="#b2dfdb"/>
<rect x="1039.07" y="651.11" width="3.8" height="1.99" fill="#b2dfdb"/>
<rect x="1043.94" y="651.71" width="3.8" height="1.39" fill="#b2dfdb"/>
<rect x="1048.81" y="652.54" width="3.8" height="0.56" fill="#b2dfdb"/>
<rect x="1053.67" y="652.99" width="3.8" height="0.35" fill="#b2dfdb"/>
<rect x="1058.54" y="653.1" width="3.8" height="0.67" fill="#ff5252"/>
<rect x="1063.4" y="653.1" width="3.8" height="1.35" fill="#ff5252"/>
<rect x="1068.27" y="653.1" width="3.8" height="1.3" fill="#ffcdd2"/>
<rect x="1073.14" y="653.1" width="3.8" height="1.25" fill="#ffcdd2"/>
<rect x="1078" y="653.1" width="3.8" height="1.05" fill="#ffcdd2"/>
<rect x="1082.87" y="653.1" width="3.8" height="0.86" fill="#ffcdd2"/>
<rect x="1087.73" y="653.1" width="3.8" height="1.2" fill="#ff5252"/>
<rect x="1092.6" y="653.1" width="3.8" height="1.52" fill="#ff5252"/>
<rect x="1097.47" y="653.1" width="3.8" height="0.85" fill="#ffcdd2"/>
<rect x="1102.33" y="653.1" width="3.8" height="0.35" fill="#ffcdd2"/>
<rect x="1107.2" y="652.52" width="3.8" height="0.58" fill="#26a69a"/>
<rect x="1112.06" y="651.36" width="3.8" height="1.74" fill="#26a69a"/>
<rect x="1116.93" y="650.36" width="3.8" height="2.74" fill="#26a69a"/>
<rect x="1121.8" y="649.46" width="3.8" height="3.64" fill="#26a69a"/>
<rect x="1126.66" y="648.13" width="3.8" height="4.97" fill="#26a69a"/>
<rect x="1131.53" y="647.57" width="3.8" height="5.53" fill="#26a69a"/>
<rect x="1136.39" y="647.42" width="3.8" height="5.68" fill="#26a69a"/>
<rect x="1141.26" y="647.77" width="3.8" height="5.33" fill="#b2dfdb"/>
<rect x="1146.13" y="647.94" width="3.8" height="5.16" fill="#b2dfdb"/>
<rect x="1150.99" y="647.83" width="3.8" height="5.27" fill="#26a69a"/>
<rect x="1155.86" y="648.43" width="3.8" height="4.67" fill="#b2dfdb"/>
<rect x="1160.72" y="648.33" width="3.8" height="4.77" fill="#26a69a"/>
<rect x="1165.59" y="647.65" width="3.8" height="5.45" fill="#26a69a"/>
<rect x="1170.46" y="646.99" width="3.8" height="6.11" fill="#26a69a"/>
<rect x="1175.32" y="646.5" width="3.8" height="6.6" fill="#26a69a"/>
<rect x="1180.19" y="645.39" width="3.8" height="7.71" fill="#26a69a"/>
<rect x="1185.05" y="644.23" width="3.8" height="8.87" fill="#26a69a"/>
<rect x="1189.92" y="644.56" width="3.8" height="8.54" fill="#b2dfdb"/>
<rect x="1194.79" y="644.95" width="3.8" height="8.15" fill="#b2dfdb"/>
<rect x="1199.65" y="644.84" width="3.8" height="8.26" fill="#26a69a"/>
<rect x="1204.52" y="644.46" width="3.8" height="8.64" fill="#26a69a"/>
<rect x="1209.38" y="644.75" width="3.8" height="8.35" fill="#b2dfdb"/>
<rect x="1214.25" y="646.03" width="3.8" height="7.07" fill="#b2dfdb"/>
<rect x="1219.12" y="649.59" width="3.8" height="3.51" fill="#b2dfdb"/>
<rect x="1223.98" y="652.1" width="3.8" height="1" fill="#b2dfdb"/>
<rect x="1228.85" y="652.21" width="3.8" height="0.89" fill="#b2dfdb"/>
<rect x="1233.71" y="653.1" width="3.8" height="0.35" fill="#ff5252"/>
<rect x="1238.58" y="653.1" width="3.8" height="1.49" fill="#ff5252"/>
<rect x="1243.45" y="653.1" width="3.8" height="3" fill="#ff5252"/>
<path d="M9 665.5 L10.17 665.97 L11.84 666.66 L13.76 667.44 L15.73 668.18 L17.5 668.75 L19.33 669.24 L21 669.61 L22.8 669.86 L25 670 L26.52 670.03 L28.21 670.03 L30.01 669.99 L31.88 669.91 L33.78 669.8 L35.67 669.67 L37.5 669.5 L39.29 669.31 L41.07 669.09 L42.86 668.84 L44.64 668.56 L46.43 668.24 L48.21 667.89 L50 667.5 L51.79 667.06 L53.57 666.56 L55.36 666.02 L57.14 665.45 L58.93 664.87 L60.71 664.3 L62.5 663.75 L64.29 663.21 L66.07 662.68 L67.86 662.14 L69.64 661.61 L71.43 661.07 L73.21 660.54 L75 660 L76.79 659.45 L78.57 658.88 L80.36 658.3 L82.14 657.73 L83.93 657.19 L85.71 656.69 L87.5 656.25 L89.29 655.88 L91.07 655.58 L92.86 655.32 L94.64 655.09 L96.43 654.84 L98.21 654.57 L100 654.25 L101.79 653.88 L103.57 653.5 L105.36 653.1 L107.14 652.68 L108.93 652.23 L110.71 651.75 L112.5 651.25 L114.29 650.7 L116.07 650.1 L117.86 649.46 L119.64 648.82 L121.43 648.18 L123.21 647.57 L125 647 L126.79 646.47 L128.57 645.96 L130.36 645.47 L132.14 645 L133.93 644.56 L135.71 644.14 L137.5 643.75 L139.29 643.39 L141.07 643.04 L142.86 642.73 L144.64 642.44 L146.43 642.18 L148.21 641.95 L150 641.75 L151.79 641.61 L153.57 641.52 L155.36 641.47 L157.14 641.44 L158.93 641.4 L160.71 641.35 L162.5 641.25 L164.29 641.13 L166.07 641.02 L167.86 640.9 L169.64 640.75 L171.43 640.56 L173.21 640.32 L175 640 L176.79 639.6 L178.57 639.13 L180.36 638.59 L182.14 638.02 L183.93 637.43 L185.71 636.83 L187.5 636.25 L189.33 635.64 L191.22 634.98 L193.12 634.31 L194.99 633.64 L196.79 633.01 L198.48 632.45 L200 632 L202.23 631.42 L204.06 631.03 L205.74 630.82 L207.5 630.75 L209.32 630.83 L211.09 631.06 L212.95 631.45 L215 632 L216.8 632.56 L218.7 633.24 L220.7 634 L222.8 634.85 L225 635.75 L226.65 636.47 L228.39 637.27 L230.18 638.12 L232.01 638.98 L233.86 639.81 L235.69 640.58 L237.5 641.25 L239.29 641.81 L241.07 642.3 L242.86 642.72 L244.64 643.11 L246.43 643.48 L248.21 643.86 L250 644.25 L251.79 644.66 L253.57 645.07 L255.36 645.47 L257.14 645.87 L258.93 646.26 L260.71 646.64 L262.5 647 L264.29 647.35 L266.07 647.69 L267.86 648.01 L269.64 648.33 L271.43 648.64 L273.21 648.95 L275 649.25 L276.79 649.54 L278.57 649.8 L280.36 650.06 L282.14 650.32 L283.93 650.59 L285.71 650.9 L287.5 651.25 L289.29 651.64 L291.07 652.07 L292.86 652.53 L294.64 653.01 L296.43 653.5 L298.21 654 L300 654.5 L301.79 655.02 L303.57 655.57 L305.36 656.14 L307.14 656.7 L308.93 657.26 L310.71 657.78 L312.5 658.25 L314.29 658.68 L316.07 659.08 L317.86 659.45 L319.64 659.8 L321.43 660.13 L323.21 660.44 L325 660.75 L326.79 661.05 L328.57 661.36 L330.36 661.64 L332.14 661.91 L333.93 662.15 L335.71 662.35 L337.5 662.5 L339.18 662.6 L340.71 662.64 L342.2 662.65 L343.77 662.63 L345.52 662.59 L347.56 662.54 L350 662.5 L351.55 662.48 L353.28 662.45 L355.17 662.41 L357.18 662.37 L359.27 662.33 L361.42 662.29 L363.58 662.24 L365.73 662.2 L367.82 662.15 L369.83 662.11 L371.72 662.07 L373.45 662.03 L375 662 L377.44 661.96 L379.48 661.94 L381.23 661.93 L382.8 661.91 L384.29 661.89 L385.82 661.84 L387.5 661.75 L389.29 661.63 L391.07 661.5 L392.86 661.35 L394.64 661.18 L396.43 660.98 L398.21 660.75 L400 660.5 L401.79 660.2 L403.57 659.84 L405.36 659.45 L407.14 659.05 L408.93 658.66 L410.71 658.3 L412.5 658 L414.33 657.75 L416.23 657.54 L418.15 657.35 L420.03 657.19 L421.83 657.03 L423.5 656.89 L425 656.75 L427.09 656.47 L428.72 656.2 L430.24 656.02 L432 656 L433.66 656.14 L435.42 656.38 L437.25 656.7 L439.12 657.08 L441 657.5 L442.94 657.98 L444.97 658.53 L447 659.12 L448.93 659.73 L450.7 660.3 L452.55 660.94 L454.14 661.54 L455.71 662.19 L457.5 663 L459.16 663.78 L460.95 664.65 L462.8 665.58 L464.67 666.57 L466.5 667.6 L468.27 668.69 L470.03 669.85 L471.79 671.04 L473.57 672.24 L475.4 673.4 L477.31 674.55 L479.29 675.72 L481.29 676.87 L483.24 677.94 L485.1 678.9 L486.83 679.73 L488.48 680.44 L490.08 681.09 L491.68 681.7 L493.3 682.3 L494.98 682.92 L496.68 683.53 L498.38 684.1 L500.03 684.61 L501.6 685 L503.42 685.31 L505.14 685.48 L506.81 685.55 L508.5 685.6 L510.26 685.63 L512.04 685.62 L513.77 685.57 L515.4 685.5 L517.24 685.43 L518.92 685.31 L520.9 685 L522.32 684.68 L523.85 684.28 L525.48 683.81 L527.23 683.28 L529.1 682.7 L530.75 682.16 L532.49 681.56 L534.31 680.92 L536.2 680.25 L538.17 679.57 L540.2 678.9 L542.02 678.32 L543.92 677.73 L545.88 677.12 L547.89 676.51 L549.9 675.9 L551.91 675.3 L553.9 674.7 L555.87 674.11 L557.84 673.52 L559.81 672.93 L561.78 672.34 L563.75 671.75 L565.73 671.17 L567.7 670.6 L569.72 670.01 L571.8 669.41 L573.89 668.81 L575.96 668.22 L577.94 667.66 L579.81 667.15 L581.5 666.7 L583.52 666.18 L585.21 665.76 L586.75 665.4 L588.29 665.09 L590 664.8 L591.82 664.57 L593.65 664.41 L595.57 664.27 L597.66 664.07 L600 663.75 L601.67 663.48 L603.52 663.17 L605.48 662.83 L607.5 662.47 L609.52 662.07 L611.48 661.65 L613.33 661.21 L615 660.75 L617.32 659.94 L619.36 659.05 L621.24 658.1 L623.08 657.16 L625 656.25 L627 655.36 L629 654.45 L631 653.56 L633 652.73 L635 652 L636.96 651.38 L638.88 650.85 L640.82 650.38 L642.84 649.94 L645 649.5 L646.65 649.18 L648.39 648.86 L650.18 648.54 L652.01 648.24 L653.86 647.97 L655.69 647.72 L657.5 647.5 L659.29 647.31 L661.07 647.15 L662.86 647.01 L664.64 646.9 L666.43 646.82 L668.21 646.77 L670 646.75 L671.79 646.78 L673.57 646.85 L675.36 646.97 L677.14 647.1 L678.93 647.24 L680.71 647.38 L682.5 647.5 L684.29 647.61 L686.07 647.72 L687.86 647.83 L689.64 647.95 L691.43 648.05 L693.21 648.16 L695 648.25 L696.79 648.33 L698.57 648.39 L700.36 648.44 L702.14 648.5 L703.93 648.56 L705.71 648.64 L707.5 648.75 L709.29 648.88 L711.07 649.02 L712.86 649.17 L714.64 649.34 L716.43 649.53 L718.21 649.75 L720 650 L721.79 650.3 L723.57 650.64 L725.36 651.01 L727.14 651.4 L728.93 651.79 L730.71 652.16 L732.5 652.5 L734.29 652.82 L736.07 653.14 L737.86 653.44 L739.64 653.74 L741.43 654.02 L743.21 654.27 L745 654.5 L746.79 654.7 L748.57 654.87 L750.36 655.01 L752.14 655.14 L753.93 655.26 L755.71 655.38 L757.5 655.5 L759.29 655.62 L761.07 655.73 L762.86 655.84 L764.64 655.94 L766.43 656.04 L768.21 656.15 L770 656.25 L771.81 656.35 L773.64 656.44 L775.49 656.52 L777.32 656.61 L779.11 656.71 L780.85 656.84 L782.5 657 L784.7 657.29 L786.8 657.65 L788.8 658.04 L790.7 658.42 L792.5 658.75 L794.43 659.04 L796.09 659.25 L797.83 659.52 L800 660 L801.52 660.43 L803.21 660.96 L805.01 661.56 L806.88 662.19 L808.78 662.79 L810.67 663.32 L812.5 663.75 L814.29 664.07 L816.07 664.31 L817.86 664.5 L819.64 664.65 L821.43 664.77 L823.21 664.88 L825 665 L826.79 665.13 L828.57 665.25 L830.36 665.36 L832.14 665.45 L833.93 665.51 L835.71 665.53 L837.5 665.5 L839.29 665.4 L841.07 665.23 L842.86 665.02 L844.64 664.79 L846.43 664.57 L848.21 664.38 L850 664.25 L851.79 664.19 L853.57 664.17 L855.36 664.18 L857.14 664.2 L858.93 664.23 L860.71 664.25 L862.5 664.25 L864.29 664.23 L866.07 664.2 L867.86 664.17 L869.64 664.14 L871.43 664.1 L873.21 664.05 L875 664 L876.79 663.95 L878.57 663.89 L880.36 663.83 L882.14 663.76 L883.93 663.69 L885.71 663.6 L887.5 663.5 L889.29 663.37 L891.07 663.21 L892.86 663.04 L894.64 662.87 L896.43 662.71 L898.21 662.58 L900 662.5 L901.79 662.47 L903.57 662.48 L905.36 662.52 L907.14 662.58 L908.93 662.64 L910.71 662.7 L912.5 662.75 L914.29 662.8 L916.07 662.86 L917.86 662.92 L919.64 662.98 L921.43 663.02 L923.21 663.03 L925 663 L926.79 662.92 L928.57 662.8 L930.36 662.65 L932.14 662.48 L933.93 662.3 L935.71 662.14 L937.5 662 L939.29 661.88 L941.07 661.77 L942.86 661.66 L944.64 661.56 L946.43 661.46 L948.21 661.35 L950 661.25 L951.79 661.14 L953.57 661.03 L955.36 660.92 L957.14 660.8 L958.93 660.7 L960.71 660.59 L962.5 660.5 L964.29 660.42 L966.07 660.34 L967.86 660.27 L969.64 660.2 L971.43 660.14 L973.21 660.07 L975 660 L976.79 659.93 L978.57 659.86 L980.36 659.8 L982.14 659.73 L983.93 659.66 L985.71 659.58 L987.5 659.5 L989.29 659.41 L991.07 659.33 L992.86 659.25 L994.64 659.15 L996.43 659.04 L998.21 658.91 L1000 658.75 L1001.79 658.55 L1003.57 658.33 L1005.36 658.08 L1007.14 657.82 L1008.93 657.55 L1010.71 657.27 L1012.5 657 L1014.29 656.73 L1016.07 656.44 L1017.86 656.15 L1019.64 655.85 L1021.43 655.56 L1023.21 655.27 L1025 655 L1026.79 654.73 L1028.57 654.45 L1030.36 654.18 L1032.14 653.92 L1033.93 653.67 L1035.71 653.45 L1037.5 653.25 L1039.29 653.08 L1041.07 652.93 L1042.86 652.79 L1044.64 652.68 L1046.43 652.59 L1048.21 652.53 L1050 652.5 L1051.79 652.5 L1053.57 652.54 L1055.36 652.61 L1057.14 652.7 L1058.93 652.8 L1060.71 652.9 L1062.5 653 L1064.29 653.1 L1066.07 653.2 L1067.86 653.32 L1069.64 653.43 L1071.43 653.55 L1073.21 653.65 L1075 653.75 L1076.79 653.83 L1078.57 653.9 L1080.36 653.97 L1082.14 654.03 L1083.93 654.1 L1085.71 654.17 L1087.5 654.25 L1089.31 654.35 L1091.14 654.48 L1092.99 654.62 L1094.82 654.75 L1096.61 654.87 L1098.35 654.96 L1100 655 L1102.16 655.01 L1104.18 654.99 L1106.12 654.9 L1108.04 654.75 L1110 654.5 L1112 654.11 L1114 653.58 L1116 653 L1118 652.45 L1120 652 L1122 651.72 L1124 651.56 L1126 651.42 L1128 651.21 L1130 650.84 L1132 650.27 L1134 649.55 L1135.99 648.76 L1137.99 647.97 L1139.99 647.25 L1141.99 646.6 L1143.98 645.98 L1145.98 645.38 L1147.98 644.8 L1149.98 644.25 L1151.97 643.74 L1153.97 643.26 L1155.97 642.8 L1157.97 642.34 L1159.96 641.85 L1161.96 641.36 L1163.96 640.87 L1165.96 640.36 L1167.95 639.83 L1169.95 639.26 L1171.95 638.63 L1173.95 637.97 L1175.94 637.27 L1177.94 636.57 L1179.94 635.86 L1181.94 635.16 L1183.94 634.45 L1185.93 633.73 L1187.93 633 L1189.93 632.27 L1191.93 631.53 L1193.92 630.78 L1195.92 630.03 L1197.92 629.26 L1199.92 628.47 L1201.95 627.63 L1204.01 626.75 L1206.05 625.87 L1208.03 625.03 L1209.9 624.27 L1212.04 623.44 L1214.02 622.69 L1215.94 622.03 L1217.89 621.48 L1219.89 621.04 L1221.89 620.7 L1223.89 620.46 L1225.88 620.28 L1227.93 620.18 L1230 620.17 L1232.02 620.21 L1233.88 620.28 L1236.05 620.42 L1238 620.63 L1239.87 620.88 L1241.85 621.22 L1243.74 621.6 L1245.06 621.88" fill="none" stroke="#ff6d00" stroke-width="1.05" stroke-linejoin="round"/>
<path d="M9 672.5 L10.38 672.99 L12.37 673.74 L14.63 674.53 L16.87 675.19 L18.75 675.5 L20.53 675.35 L22.02 674.81 L23.43 674.06 L25 673.25 L26.73 672.29 L28.52 671.14 L30.42 670.04 L32.5 669.25 L34.42 668.97 L36.56 668.93 L38.74 668.98 L40.78 668.97 L42.5 668.75 L44.35 667.86 L45.65 666.67 L47.5 665.5 L49.26 664.84 L51.38 664.16 L53.62 663.51 L55.74 662.94 L57.5 662.5 L59.54 662.3 L61.02 662.37 L62.5 662 L63.98 660.81 L65.46 659.19 L67.5 657.5 L69.18 656.46 L71.14 655.33 L73.26 654.22 L75.42 653.24 L77.5 652.5 L79.5 652.07 L81.5 651.86 L83.5 651.79 L85.5 651.78 L87.5 651.75 L89.5 651.77 L91.5 651.9 L93.5 652.02 L95.5 652.01 L97.5 651.75 L99.52 651.19 L101.56 650.42 L103.59 649.49 L105.58 648.5 L107.5 647.5 L109.39 646.42 L111.27 645.2 L113.08 643.97 L114.76 642.86 L116.25 642 L118.06 641.17 L119.44 640.78 L121.25 640.5 L122.74 640.35 L124.42 640.26 L126.23 640.21 L128.11 640.13 L130 640 L131.92 639.75 L133.91 639.41 L135.94 639.07 L137.98 638.82 L140 638.75 L142 638.94 L144 639.32 L146 639.78 L148 640.21 L150 640.5 L152 640.63 L154 640.69 L156 640.67 L158 640.61 L160 640.5 L162.08 640.33 L164.24 640.08 L166.36 639.79 L168.32 639.5 L170 639.25 L172.04 638.98 L173.52 638.74 L175 638.25 L176.67 637.35 L178.33 636.2 L180 635 L181.67 633.77 L183.33 632.48 L185 631.25 L186.67 630.06 L188.33 628.92 L190 628 L191.57 627.39 L193.15 627 L195 626.75 L196.73 626.59 L198.67 626.47 L200.65 626.49 L202.5 626.75 L204.18 627.29 L205.78 628.06 L207.3 628.99 L208.75 630 L210.51 631.56 L212.13 633.32 L213.75 635 L215.37 636.51 L216.99 637.94 L218.75 639.25 L220.2 640.09 L221.72 640.83 L223.32 641.59 L225 642.5 L226.85 643.71 L228.83 645.12 L230.77 646.47 L232.5 647.5 L234.17 648.24 L235.56 648.56 L237.5 648.75 L239.18 648.81 L241.14 648.78 L243.26 648.72 L245.42 648.69 L247.5 648.75 L249.5 648.89 L251.5 649.08 L253.5 649.31 L255.5 649.62 L257.5 650 L259.5 650.52 L261.5 651.16 L263.5 651.84 L265.5 652.48 L267.5 653 L269.5 653.37 L271.5 653.65 L273.5 653.87 L275.5 654.06 L277.5 654.25 L279.58 654.4 L281.74 654.5 L283.86 654.6 L285.82 654.75 L287.5 655 L289.4 655.66 L290.74 656.51 L292.5 657.5 L293.93 658.18 L295.49 658.95 L297.21 659.74 L299.12 660.53 L301.25 661.25 L302.98 661.74 L304.92 662.24 L306.99 662.73 L309.11 663.2 L311.2 663.62 L313.19 663.97 L315 664.25 L317.24 664.49 L319.27 664.6 L321.18 664.6 L323.06 664.56 L325 664.5 L327 664.42 L329 664.3 L331 664.13 L333 663.95 L335 663.75 L336.92 663.52 L338.76 663.25 L340.64 662.97 L342.68 662.71 L345 662.5 L346.69 662.4 L348.57 662.31 L350.59 662.24 L352.66 662.17 L354.7 662.12 L356.66 662.07 L358.45 662.03 L360 662 L362.4 661.98 L364.22 662.02 L365.8 662.04 L367.5 662 L369.26 661.85 L370.94 661.62 L372.77 661.4 L375 661.25 L376.57 661.23 L378.35 661.27 L380.27 661.33 L382.23 661.39 L384.15 661.41 L385.93 661.37 L387.5 661.25 L389.79 660.77 L391.72 660.08 L393.42 659.35 L395 658.75 L396.76 658.24 L398.24 657.87 L400 657.5 L401.58 657.18 L403.28 656.84 L405.21 656.53 L407.5 656.25 L409.05 656.12 L410.78 656.01 L412.64 655.91 L414.56 655.81 L416.47 655.72 L418.3 655.62 L420 655.5 L422.19 655.27 L424.26 654.99 L426.24 654.72 L428.15 654.54 L430 654.5 L431.81 654.62 L433.58 654.86 L435.26 655.2 L436.85 655.62 L438.3 656.1 L440.29 657.05 L441.97 658.21 L443.8 659.6 L445.43 660.79 L447.17 662.09 L448.95 663.53 L450.7 665.1 L452.4 666.87 L454.1 668.81 L455.8 670.8 L457.5 672.7 L459.22 674.53 L460.94 676.34 L462.67 678.06 L464.4 679.6 L466.16 680.92 L467.94 682.08 L469.67 683.12 L471.3 684.1 L473.26 685.31 L475.07 686.37 L476.8 687.3 L478.45 688.07 L480.02 688.7 L481.6 689.3 L483.23 689.93 L484.87 690.53 L486.5 691 L488.11 691.27 L489.71 691.41 L491.3 691.5 L492.86 691.56 L494.41 691.56 L496 691.5 L497.66 691.41 L499.36 691.26 L501 691 L502.52 690.59 L503.98 690.06 L505.5 689.5 L507.21 688.93 L508.98 688.33 L510.5 687.7 L511.83 686.84 L513.3 685.7 L514.59 684.82 L516.14 683.78 L517.82 682.67 L519.5 681.6 L521.15 680.57 L522.82 679.54 L524.57 678.51 L526.4 677.5 L527.93 676.7 L529.51 675.9 L531.15 675.11 L532.84 674.34 L534.6 673.6 L536.51 672.83 L538.57 672.03 L540.65 671.28 L542.6 670.68 L544.3 670.3 L546.44 670.39 L548.12 670.96 L549.8 671.3 L551.38 671.27 L552.96 671.02 L555.3 670.3 L556.73 669.76 L558.42 669.07 L560.28 668.27 L562.22 667.42 L564.16 666.58 L566.02 665.79 L567.7 665.1 L569.75 664.26 L571.59 663.49 L573.37 662.79 L575.23 662.19 L577.3 661.7 L578.93 661.45 L580.64 661.29 L582.41 661.2 L584.23 661.13 L586.11 661.07 L588.04 660.97 L590 660.8 L591.79 660.6 L593.68 660.36 L595.62 660.1 L597.59 659.83 L599.55 659.55 L601.46 659.27 L603.29 659 L605 658.75 L607.18 658.47 L609.31 658.25 L611.33 658.03 L613.19 657.78 L614.85 657.45 L616.25 657 L618.52 654.95 L620 652.5 L621.57 650.76 L623.29 648.96 L625 647.5 L626.48 646.56 L627.96 645.94 L630 645.5 L631.64 645.3 L633.52 645.19 L635.58 645.13 L637.76 645.08 L640 645 L641.68 644.92 L643.46 644.81 L645.31 644.71 L647.19 644.61 L649.04 644.53 L650.82 644.49 L652.5 644.5 L654.66 644.61 L656.68 644.8 L658.62 645.05 L660.54 645.29 L662.5 645.5 L664.5 645.65 L666.5 645.76 L668.5 645.87 L670.5 646.02 L672.5 646.25 L674.46 646.59 L676.38 647.01 L678.32 647.46 L680.34 647.89 L682.5 648.25 L684.15 648.45 L685.89 648.63 L687.68 648.79 L689.51 648.93 L691.36 649.05 L693.19 649.16 L695 649.25 L696.81 649.31 L698.64 649.33 L700.49 649.33 L702.32 649.33 L704.11 649.34 L705.85 649.39 L707.5 649.5 L709.7 649.74 L711.8 650.06 L713.8 650.42 L715.7 650.83 L717.5 651.25 L719.49 651.85 L721.25 652.53 L723.01 653.2 L725 653.75 L726.84 654.07 L728.82 654.3 L730.88 654.51 L732.96 654.72 L735 655 L737 655.38 L739 655.84 L741 656.31 L743 656.72 L745 657 L746.96 657.13 L748.88 657.14 L750.82 657.1 L752.84 657.03 L755 657 L756.65 656.99 L758.39 656.97 L760.18 656.95 L762.01 656.93 L763.86 656.93 L765.69 656.95 L767.5 657 L769.33 657.08 L771.22 657.18 L773.12 657.31 L774.99 657.45 L776.79 657.61 L778.48 657.8 L780 658 L782.23 658.39 L784.06 658.83 L785.74 659.35 L787.5 660 L789.43 660.87 L791.41 661.92 L793.3 662.95 L795 663.75 L796.76 664.35 L798.24 664.68 L800 665 L801.64 665.32 L803.44 665.66 L805.39 665.97 L807.5 666.25 L809.34 666.46 L811.32 666.66 L813.38 666.83 L815.46 666.95 L817.5 667 L819.46 666.94 L821.38 666.8 L823.32 666.6 L825.34 666.41 L827.5 666.25 L829.18 666.18 L830.96 666.15 L832.81 666.12 L834.69 666.09 L836.54 666.03 L838.32 665.92 L840 665.75 L842.12 665.32 L844.06 664.73 L845.94 664.09 L847.88 663.56 L850 663.25 L851.65 663.22 L853.39 663.31 L855.18 663.49 L857.01 663.71 L858.86 663.94 L860.69 664.13 L862.5 664.25 L864.29 664.31 L866.07 664.35 L867.86 664.37 L869.64 664.37 L871.43 664.35 L873.21 664.31 L875 664.25 L876.79 664.16 L878.57 664.04 L880.36 663.9 L882.14 663.75 L883.93 663.58 L885.71 663.41 L887.5 663.25 L889.29 663.06 L891.07 662.85 L892.86 662.61 L894.64 662.39 L896.43 662.2 L898.21 662.06 L900 662 L901.79 662.03 L903.57 662.14 L905.36 662.31 L907.14 662.51 L908.93 662.7 L910.71 662.88 L912.5 663 L914.29 663.09 L916.07 663.18 L917.86 663.25 L919.64 663.3 L921.43 663.33 L923.21 663.31 L925 663.25 L926.79 663.13 L928.57 662.96 L930.36 662.74 L932.14 662.5 L933.93 662.25 L935.71 661.99 L937.5 661.75 L939.31 661.5 L941.14 661.24 L942.99 660.97 L944.82 660.69 L946.61 660.43 L948.35 660.2 L950 660 L952.08 659.77 L953.94 659.58 L955.76 659.43 L957.72 659.32 L960 659.25 L961.65 659.24 L963.46 659.27 L965.37 659.31 L967.34 659.38 L969.34 659.44 L971.31 659.48 L973.21 659.51 L975 659.5 L976.92 659.45 L978.75 659.37 L980.53 659.27 L982.27 659.16 L984 659.03 L985.74 658.89 L987.5 658.75 L989.33 658.6 L991.22 658.43 L993.12 658.25 L994.99 658.06 L996.79 657.87 L998.48 657.68 L1000 657.5 L1002.23 657.22 L1004.06 656.95 L1005.74 656.65 L1007.5 656.25 L1009.32 655.68 L1011.09 655 L1012.95 654.32 L1015 653.75 L1016.84 653.43 L1018.82 653.18 L1020.88 652.98 L1022.96 652.76 L1025 652.5 L1027 652.15 L1029 651.73 L1031 651.31 L1033 650.96 L1035 650.75 L1037 650.69 L1039 650.75 L1041 650.89 L1043 651.07 L1045 651.25 L1047 651.44 L1049 651.66 L1051 651.91 L1053 652.19 L1055 652.5 L1057 652.88 L1059 653.32 L1061 653.77 L1063 654.18 L1065 654.5 L1067 654.7 L1069 654.83 L1071 654.91 L1073 654.96 L1075 655 L1077 655.01 L1079 654.98 L1081 654.93 L1083 654.93 L1085 655 L1087.04 655.2 L1089.12 655.51 L1091.18 655.83 L1093.16 656.11 L1095 656.25 L1097.05 656.23 L1098.91 656.06 L1100.68 655.8 L1102.5 655.5 L1104.38 655.18 L1106.25 654.81 L1108.12 654.35 L1110 653.75 L1111.88 652.92 L1113.75 651.92 L1115.62 650.9 L1117.5 650 L1119.43 649.28 L1121.41 648.64 L1123.3 648.06 L1125 647.5 L1126.74 646.83 L1128.2 646.2 L1130 645.45 L1131.79 644.7 L1133.81 643.85 L1135.92 642.99 L1137.99 642.25 L1140.01 641.67 L1142.05 641.18 L1144.05 640.73 L1145.98 640.26 L1147.8 639.73 L1149.54 639.18 L1151.25 638.67 L1152.97 638.26 L1154.7 638.03 L1156.41 637.93 L1158.15 637.8 L1159.96 637.46 L1161.84 636.86 L1163.77 636.09 L1165.79 635.2 L1167.95 634.26 L1169.84 633.48 L1171.85 632.64 L1173.92 631.76 L1175.98 630.83 L1177.94 629.87 L1179.76 628.82 L1181.47 627.7 L1183.17 626.55 L1184.96 625.45 L1186.93 624.47 L1188.81 623.77 L1190.89 623.14 L1193.05 622.56 L1195.18 622.01 L1197.17 621.46 L1198.92 620.88 L1201.06 619.94 L1202.85 618.97 L1204.42 618.06 L1205.91 617.28 L1207.72 616.51 L1209.31 615.93 L1210.9 615.49 L1212.58 615.09 L1214.26 614.82 L1215.9 614.89 L1217.45 615.48 L1218.96 616.4 L1220.49 617.28 L1222.07 618.05 L1223.67 618.78 L1225.29 619.28 L1226.94 619.38 L1228.61 619.27 L1230.28 619.28 L1231.95 619.57 L1233.62 619.99 L1235.27 620.48 L1236.88 621 L1238.46 621.6 L1240.07 622.28 L1241.9 623.18 L1243.76 624.17 L1245.06 624.87" fill="none" stroke="#2962ff" stroke-width="1.05" stroke-linejoin="round"/>
</g>
<text x="1542" y="76.9" font-size="11" fill="#aeb1bb" textLength="32" lengthAdjust="spacingAndGlyphs">0.4800</text>
<text x="1542" y="104.4" font-size="11" fill="#aeb1bb" textLength="32" lengthAdjust="spacingAndGlyphs">0.4600</text>
<text x="1542" y="131.9" font-size="11" fill="#aeb1bb" textLength="32" lengthAdjust="spacingAndGlyphs">0.4400</text>
<text x="1542" y="159.4" font-size="11" fill="#aeb1bb" textLength="32" lengthAdjust="spacingAndGlyphs">0.4200</text>
<text x="1542" y="186.9" font-size="11" fill="#aeb1bb" textLength="32" lengthAdjust="spacingAndGlyphs">0.4000</text>
<text x="1542" y="214.4" font-size="11" fill="#aeb1bb" textLength="32" lengthAdjust="spacingAndGlyphs">0.3800</text>
<text x="1542" y="241.9" font-size="11" fill="#aeb1bb" textLength="32" lengthAdjust="spacingAndGlyphs">0.3600</text>
<text x="1542" y="269.4" font-size="11" fill="#aeb1bb" textLength="32" lengthAdjust="spacingAndGlyphs">0.3400</text>
<text x="1542" y="296.9" font-size="11" fill="#aeb1bb" textLength="32" lengthAdjust="spacingAndGlyphs">0.3200</text>
<text x="1542" y="324.4" font-size="11" fill="#aeb1bb" textLength="32" lengthAdjust="spacingAndGlyphs">0.3000</text>
<text x="1542" y="351.9" font-size="11" fill="#aeb1bb" textLength="32" lengthAdjust="spacingAndGlyphs">0.2800</text>
<text x="1542" y="379.4" font-size="11" fill="#aeb1bb" textLength="32" lengthAdjust="spacingAndGlyphs">0.2600</text>
<text x="1542" y="406.9" font-size="11" fill="#aeb1bb" textLength="32" lengthAdjust="spacingAndGlyphs">0.2400</text>
<text x="1542" y="434.4" font-size="11" fill="#aeb1bb" textLength="32" lengthAdjust="spacingAndGlyphs">0.2200</text>
<text x="1542" y="461.9" font-size="11" fill="#aeb1bb" textLength="32" lengthAdjust="spacingAndGlyphs">0.2000</text>
<text x="1542" y="489.4" font-size="11" fill="#aeb1bb" textLength="32" lengthAdjust="spacingAndGlyphs">0.1800</text>
<text x="1542" y="516.9" font-size="11" fill="#aeb1bb" textLength="32" lengthAdjust="spacingAndGlyphs">0.1600</text>
<text x="1542" y="542.9" font-size="11" fill="#aeb1bb" textLength="27" lengthAdjust="spacingAndGlyphs">80.00</text>
<text x="1542" y="583.9" font-size="11" fill="#aeb1bb" textLength="27" lengthAdjust="spacingAndGlyphs">40.00</text>
<text x="1542" y="656.9" font-size="11" fill="#aeb1bb" textLength="32" lengthAdjust="spacingAndGlyphs">0.0000</text>
<rect x="1535.4" y="173.7" width="42.6" height="14.2" fill="#abe3da"/>
<text x="1542.4" y="185" font-size="11" fill="#1d2a2a" textLength="31" lengthAdjust="spacingAndGlyphs">0.4017</text>
<rect x="1535.4" y="400" width="42.6" height="14.75" rx="1" fill="#abe3da"/>
<text x="1542.4" y="411.4" font-size="11" fill="#1d2a2a" textLength="31" lengthAdjust="spacingAndGlyphs">0.2373</text>
<rect x="1535.4" y="231" width="52" height="27" fill="#f23645"/>
<text x="1542.4" y="242.4" font-size="11" font-weight="bold" fill="#ffffff" textLength="31" lengthAdjust="spacingAndGlyphs">0.3599</text>
<text x="1542.4" y="254.8" font-size="11" fill="#ffffff" fill-opacity="0.85" textLength="40.5" lengthAdjust="spacingAndGlyphs">11:33:14</text>
<rect x="1538.9" y="27" width="48.8" height="23" rx="4" ry="4" fill="#ffffff" stroke="#e0e3eb" stroke-width="1"/>
<text x="1559.6" y="43" text-anchor="middle" font-size="10.5" fill="#131722" textLength="23.5" lengthAdjust="spacingAndGlyphs">USDT</text>
<text x="43.14" y="701.6" text-anchor="middle" font-size="10.2" fill="#aeb1bb">16</text>
<text x="121" y="701.6" text-anchor="middle" font-size="10.2" fill="#aeb1bb">Apr</text>
<text x="193.99" y="701.6" text-anchor="middle" font-size="10.2" fill="#aeb1bb">16</text>
<text x="266.98" y="701.6" text-anchor="middle" font-size="10.2" fill="#aeb1bb">May</text>
<text x="339.97" y="701.6" text-anchor="middle" font-size="10.2" fill="#aeb1bb">16</text>
<text x="417.83" y="701.6" text-anchor="middle" font-size="10.2" fill="#aeb1bb">Jun</text>
<text x="490.82" y="701.6" text-anchor="middle" font-size="10.2" fill="#aeb1bb">16</text>
<text x="563.81" y="701.6" text-anchor="middle" font-size="10.2" fill="#aeb1bb">Jul</text>
<text x="641.66" y="701.6" text-anchor="middle" font-size="10.2" fill="#aeb1bb">17</text>
<text x="714.65" y="701.6" text-anchor="middle" font-size="10.2" fill="#aeb1bb">Aug</text>
<text x="787.64" y="701.6" text-anchor="middle" font-size="10.2" fill="#aeb1bb">16</text>
<text x="865.5" y="701.6" text-anchor="middle" font-size="10.2" fill="#aeb1bb">Sep</text>
<text x="938.49" y="701.6" text-anchor="middle" font-size="10.2" fill="#aeb1bb">16</text>
<text x="1011.48" y="701.6" text-anchor="middle" font-size="10.2" fill="#aeb1bb">Oct</text>
<text x="1084.47" y="701.6" text-anchor="middle" font-size="10.2" fill="#aeb1bb">16</text>
<text x="1162.32" y="701.6" text-anchor="middle" font-size="10.2" fill="#aeb1bb">Nov</text>
<text x="1235.31" y="701.6" text-anchor="middle" font-size="10.2" fill="#aeb1bb">16</text>
<text x="1308.3" y="701.6" text-anchor="middle" font-size="10.2" fill="#aeb1bb">Dec</text>
<text x="1381.29" y="701.6" text-anchor="middle" font-size="10.2" fill="#aeb1bb">16</text>
<text x="1459.15" y="701.6" text-anchor="middle" font-size="10.2" font-weight="bold" fill="#aeb1bb">2024</text>
<text x="9" y="16.8" font-size="11" font-weight="bold" fill="#ffffff" textLength="381.5" lengthAdjust="spacingAndGlyphs">tcr_thecoinrepublic published on TradingView.com, Nov 18, 2023 17:56 UTC+5:30</text>
<text x="15.7" y="39.9" font-size="11" fill="#adb0ba" textLength="158" lengthAdjust="spacingAndGlyphs">Cardano / TetherUS, 1D, BINANCE</text>
<text x="180" y="39.9" font-size="11" fill="#adb0ba" textLength="6.5" lengthAdjust="spacingAndGlyphs">O</text>
<text x="186.5" y="39.9" font-size="11" fill="#f04c5a" textLength="31.5" lengthAdjust="spacingAndGlyphs">0.3671</text>
<text x="225" y="39.9" font-size="11" fill="#adb0ba" textLength="6" lengthAdjust="spacingAndGlyphs">H</text>
<text x="231.7" y="39.9" font-size="11" fill="#f04c5a" textLength="31.5" lengthAdjust="spacingAndGlyphs">0.3673</text>
<text x="269.3" y="39.9" font-size="11" fill="#adb0ba" textLength="4.6" lengthAdjust="spacingAndGlyphs">L</text>
<text x="274.8" y="39.9" font-size="11" fill="#f04c5a" textLength="31" lengthAdjust="spacingAndGlyphs">0.3488</text>
<text x="312.6" y="39.9" font-size="11" fill="#adb0ba" textLength="5.8" lengthAdjust="spacingAndGlyphs">C</text>
<text x="319" y="39.9" font-size="11" fill="#f04c5a" textLength="31" lengthAdjust="spacingAndGlyphs">0.3599</text>
<text x="356" y="39.9" font-size="11" fill="#f04c5a" textLength="36.5" lengthAdjust="spacingAndGlyphs">−0.0072</text>
<text x="396" y="39.9" font-size="11" fill="#f04c5a" textLength="39.5" lengthAdjust="spacingAndGlyphs">(−1.96%)</text>
<g fill="#d9dbe3">
<path d="M8.3 721.3 H16.2 V729.5 H11.9 V724.5 H8.3 Z"/>
<circle cx="18.55" cy="722.85" r="1.5"/>
<path d="M21.3 721.3 H25.7 L22.5 729.5 H18.1 Z"/>
<text x="28.7" y="729.5" font-size="10.8" font-weight="bold" textLength="61.9" lengthAdjust="spacingAndGlyphs">TradingView</text>
</g>
</svg>
</body></html>
